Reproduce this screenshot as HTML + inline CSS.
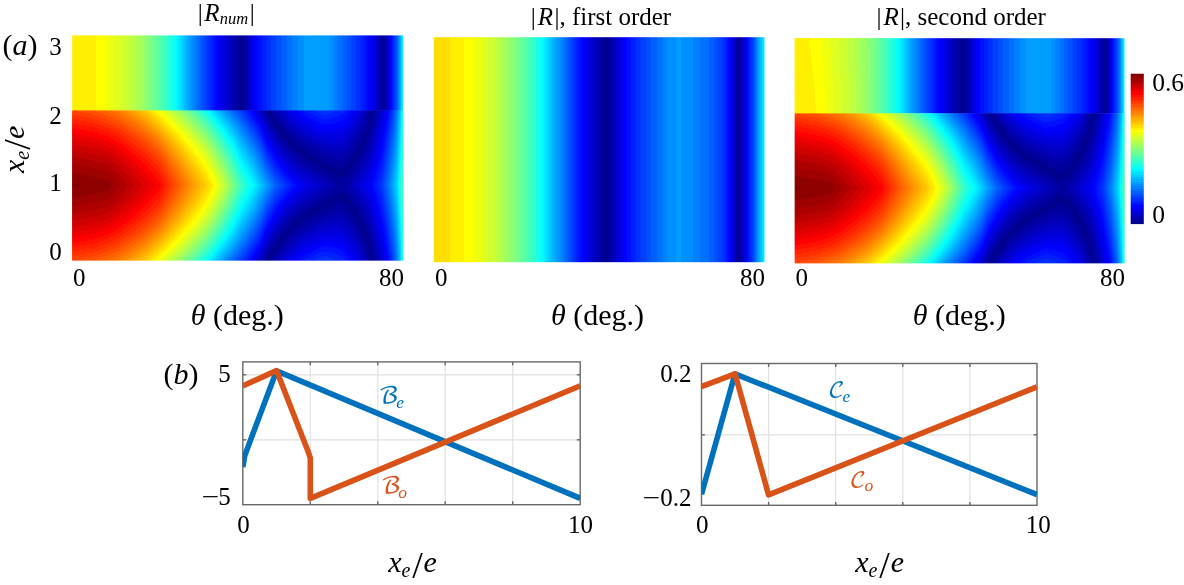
<!DOCTYPE html>
<html lang="en"><head><meta charset="utf-8"><title>Figure</title>
<style>html,body{margin:0;padding:0;background:#fff}svg{display:block}</style></head>
<body>
<svg width="1184" height="585" viewBox="0 0 1184 585" font-family="Liberation Serif, serif" fill="#000">
<rect width="1184" height="585" fill="#fff"/>
<defs>
<linearGradient id="u1"><stop offset="0" stop-color="#ffef00"/><stop offset="0.071" stop-color="#ffef00"/><stop offset="0.07175" stop-color="#ffff00"/><stop offset="0.1012" stop-color="#ffff00"/><stop offset="0.102" stop-color="#efff10"/><stop offset="0.1246" stop-color="#efff10"/><stop offset="0.1254" stop-color="#dfff20"/><stop offset="0.1473" stop-color="#dfff20"/><stop offset="0.148" stop-color="#cfff30"/><stop offset="0.1699" stop-color="#cfff30"/><stop offset="0.1707" stop-color="#bfff40"/><stop offset="0.1888" stop-color="#bdff42"/><stop offset="0.1896" stop-color="#b2ff4d"/><stop offset="0.2024" stop-color="#adff52"/><stop offset="0.2032" stop-color="#a2ff5d"/><stop offset="0.216" stop-color="#9dff62"/><stop offset="0.2168" stop-color="#92ff6d"/><stop offset="0.2296" stop-color="#8dff72"/><stop offset="0.2304" stop-color="#82ff7d"/><stop offset="0.2417" stop-color="#7aff85"/><stop offset="0.2424" stop-color="#75ff8a"/><stop offset="0.2523" stop-color="#6aff95"/><stop offset="0.253" stop-color="#65ff9a"/><stop offset="0.2628" stop-color="#5affa5"/><stop offset="0.2636" stop-color="#55ffaa"/><stop offset="0.2734" stop-color="#4affb5"/><stop offset="0.2742" stop-color="#45ffba"/><stop offset="0.2787" stop-color="#40ffbf"/><stop offset="0.3142" stop-color="#00feff"/><stop offset="0.3505" stop-color="#00a7ff"/><stop offset="0.3912" stop-color="#0057ff"/><stop offset="0.4388" stop-color="#0000ff"/><stop offset="0.4819" stop-color="#0000b9"/><stop offset="0.4826" stop-color="#0000b5"/><stop offset="0.4924" stop-color="#0000aa"/><stop offset="0.4932" stop-color="#0000a4"/><stop offset="0.5" stop-color="#00009f"/><stop offset="0.5053" stop-color="#00009f"/><stop offset="0.506" stop-color="#00008f"/><stop offset="0.5151" stop-color="#00008f"/><stop offset="0.5166" stop-color="#000093"/><stop offset="0.5174" stop-color="#00009a"/><stop offset="0.5196" stop-color="#00009c"/><stop offset="0.5272" stop-color="#0000af"/><stop offset="0.5544" stop-color="#0001ff"/><stop offset="0.5604" stop-color="#0002ff"/><stop offset="0.5612" stop-color="#000eff"/><stop offset="0.5733" stop-color="#0012ff"/><stop offset="0.574" stop-color="#001dff"/><stop offset="0.5869" stop-color="#0022ff"/><stop offset="0.5876" stop-color="#002dff"/><stop offset="0.6005" stop-color="#0030ff"/><stop offset="0.6012" stop-color="#003fff"/><stop offset="0.6163" stop-color="#0040ff"/><stop offset="0.6171" stop-color="#004fff"/><stop offset="0.6322" stop-color="#0050ff"/><stop offset="0.6329" stop-color="#005fff"/><stop offset="0.6488" stop-color="#0060ff"/><stop offset="0.6495" stop-color="#006fff"/><stop offset="0.6647" stop-color="#0070ff"/><stop offset="0.6654" stop-color="#007fff"/><stop offset="0.682" stop-color="#0080ff"/><stop offset="0.6828" stop-color="#008fff"/><stop offset="0.7009" stop-color="#008fff"/><stop offset="0.7017" stop-color="#009fff"/><stop offset="0.7764" stop-color="#009dff"/><stop offset="0.7772" stop-color="#0092ff"/><stop offset="0.79" stop-color="#008dff"/><stop offset="0.7908" stop-color="#0082ff"/><stop offset="0.8029" stop-color="#007dff"/><stop offset="0.8036" stop-color="#0072ff"/><stop offset="0.8157" stop-color="#006dff"/><stop offset="0.8165" stop-color="#0062ff"/><stop offset="0.8293" stop-color="#005dff"/><stop offset="0.8301" stop-color="#0052ff"/><stop offset="0.8421" stop-color="#004eff"/><stop offset="0.8429" stop-color="#0041ff"/><stop offset="0.8565" stop-color="#003eff"/><stop offset="0.8573" stop-color="#0031ff"/><stop offset="0.8708" stop-color="#002eff"/><stop offset="0.8716" stop-color="#0021ff"/><stop offset="0.8799" stop-color="#001eff"/><stop offset="0.8958" stop-color="#0001ff"/><stop offset="0.9154" stop-color="#0000dd"/><stop offset="0.9313" stop-color="#0000a9"/><stop offset="0.9403" stop-color="#000092"/><stop offset="0.9434" stop-color="#000096"/><stop offset="0.9464" stop-color="#0000a1"/><stop offset="0.9615" stop-color="#0000fa"/><stop offset="0.9622" stop-color="#0000ff"/><stop offset="0.9826" stop-color="#0060ff"/><stop offset="0.9977" stop-color="#00ecff"/><stop offset="1" stop-color="#00f8ff"/></linearGradient>
<linearGradient id="p2"><stop offset="0" stop-color="#ffdf00"/><stop offset="0.04758" stop-color="#ffdf00"/><stop offset="0.04834" stop-color="#ffef00"/><stop offset="0.09139" stop-color="#ffef00"/><stop offset="0.09215" stop-color="#ffff00"/><stop offset="0.1193" stop-color="#ffff00"/><stop offset="0.1201" stop-color="#efff10"/><stop offset="0.1412" stop-color="#efff10"/><stop offset="0.142" stop-color="#dfff20"/><stop offset="0.1631" stop-color="#dfff20"/><stop offset="0.1639" stop-color="#cfff30"/><stop offset="0.185" stop-color="#cfff30"/><stop offset="0.1858" stop-color="#c0ff3f"/><stop offset="0.1986" stop-color="#bdff42"/><stop offset="0.1994" stop-color="#b2ff4d"/><stop offset="0.2122" stop-color="#adff52"/><stop offset="0.213" stop-color="#a2ff5d"/><stop offset="0.2258" stop-color="#9dff62"/><stop offset="0.2266" stop-color="#91ff6e"/><stop offset="0.2402" stop-color="#8eff71"/><stop offset="0.2409" stop-color="#81ff7e"/><stop offset="0.2545" stop-color="#7eff81"/><stop offset="0.2553" stop-color="#71ff8e"/><stop offset="0.2651" stop-color="#6dff92"/><stop offset="0.2681" stop-color="#65ff9a"/><stop offset="0.2968" stop-color="#3affc5"/><stop offset="0.3285" stop-color="#00ffff"/><stop offset="0.3557" stop-color="#00beff"/><stop offset="0.3837" stop-color="#008bff"/><stop offset="0.4388" stop-color="#0014ff"/><stop offset="0.4509" stop-color="#0000fe"/><stop offset="0.4743" stop-color="#0000d5"/><stop offset="0.4834" stop-color="#0000c9"/><stop offset="0.4841" stop-color="#0000c5"/><stop offset="0.494" stop-color="#0000ba"/><stop offset="0.4947" stop-color="#0000b4"/><stop offset="0.5045" stop-color="#0000ab"/><stop offset="0.5053" stop-color="#0000a4"/><stop offset="0.5144" stop-color="#00009c"/><stop offset="0.5151" stop-color="#000091"/><stop offset="0.5159" stop-color="#000090"/><stop offset="0.5249" stop-color="#00008f"/><stop offset="0.5257" stop-color="#000090"/><stop offset="0.5264" stop-color="#00009e"/><stop offset="0.5302" stop-color="#00009e"/><stop offset="0.537" stop-color="#0000a9"/><stop offset="0.5778" stop-color="#0000ff"/><stop offset="0.5838" stop-color="#0003ff"/><stop offset="0.5846" stop-color="#000dff"/><stop offset="0.5967" stop-color="#0013ff"/><stop offset="0.5974" stop-color="#001dff"/><stop offset="0.6095" stop-color="#0022ff"/><stop offset="0.6103" stop-color="#002eff"/><stop offset="0.6246" stop-color="#0030ff"/><stop offset="0.6254" stop-color="#003fff"/><stop offset="0.6405" stop-color="#0040ff"/><stop offset="0.6412" stop-color="#004fff"/><stop offset="0.6563" stop-color="#0050ff"/><stop offset="0.6571" stop-color="#0060ff"/><stop offset="0.6737" stop-color="#0060ff"/><stop offset="0.6745" stop-color="#0070ff"/><stop offset="0.6911" stop-color="#0071ff"/><stop offset="0.6918" stop-color="#007eff"/><stop offset="0.7032" stop-color="#0084ff"/><stop offset="0.7039" stop-color="#008bff"/><stop offset="0.7092" stop-color="#0090ff"/><stop offset="0.7334" stop-color="#008fff"/><stop offset="0.7341" stop-color="#009fff"/><stop offset="0.747" stop-color="#009fff"/><stop offset="0.7477" stop-color="#008fff"/><stop offset="0.7832" stop-color="#008fff"/><stop offset="0.784" stop-color="#0080ff"/><stop offset="0.8059" stop-color="#0080ff"/><stop offset="0.8066" stop-color="#0070ff"/><stop offset="0.8331" stop-color="#0070ff"/><stop offset="0.8338" stop-color="#0060ff"/><stop offset="0.8414" stop-color="#0060ff"/><stop offset="0.8482" stop-color="#005cff"/><stop offset="0.8489" stop-color="#0053ff"/><stop offset="0.8595" stop-color="#004cff"/><stop offset="0.8603" stop-color="#0044ff"/><stop offset="0.8716" stop-color="#003cff"/><stop offset="0.8724" stop-color="#0034ff"/><stop offset="0.8761" stop-color="#0032ff"/><stop offset="0.8958" stop-color="#0000ff"/><stop offset="0.898" stop-color="#0000f9"/><stop offset="0.9162" stop-color="#0000a3"/><stop offset="0.9199" stop-color="#000096"/><stop offset="0.9222" stop-color="#000094"/><stop offset="0.9252" stop-color="#000099"/><stop offset="0.929" stop-color="#0000a7"/><stop offset="0.9471" stop-color="#0000fd"/><stop offset="0.9675" stop-color="#004bff"/><stop offset="0.9819" stop-color="#00a0ff"/><stop offset="0.9985" stop-color="#00edff"/><stop offset="1" stop-color="#00f0ff"/></linearGradient>
<linearGradient id="r0"><stop offset="0" stop-color="#ff4000"/><stop offset="0.01511" stop-color="#ff4000"/><stop offset="0.01586" stop-color="#ff5000"/><stop offset="0.07175" stop-color="#ff5000"/><stop offset="0.07251" stop-color="#ff6000"/><stop offset="0.1012" stop-color="#ff6000"/><stop offset="0.102" stop-color="#ff7000"/><stop offset="0.1299" stop-color="#ff7000"/><stop offset="0.1307" stop-color="#ff8000"/><stop offset="0.1511" stop-color="#ff8000"/><stop offset="0.1518" stop-color="#ff8f00"/><stop offset="0.1692" stop-color="#ff8f00"/><stop offset="0.1699" stop-color="#ff9f00"/><stop offset="0.1873" stop-color="#ffa000"/><stop offset="0.1881" stop-color="#ffaf00"/><stop offset="0.2032" stop-color="#ffb000"/><stop offset="0.2039" stop-color="#ffbf00"/><stop offset="0.219" stop-color="#ffc000"/><stop offset="0.2198" stop-color="#ffcf00"/><stop offset="0.2281" stop-color="#ffd000"/><stop offset="0.2568" stop-color="#ffff00"/><stop offset="0.2613" stop-color="#fbff04"/><stop offset="0.2621" stop-color="#f4ff0b"/><stop offset="0.2727" stop-color="#eaff15"/><stop offset="0.2734" stop-color="#e4ff1b"/><stop offset="0.284" stop-color="#daff25"/><stop offset="0.2847" stop-color="#d4ff2b"/><stop offset="0.2946" stop-color="#cbff34"/><stop offset="0.2953" stop-color="#c4ff3b"/><stop offset="0.3051" stop-color="#baff45"/><stop offset="0.3059" stop-color="#b5ff4a"/><stop offset="0.3255" stop-color="#9aff65"/><stop offset="0.3263" stop-color="#95ff6a"/><stop offset="0.3361" stop-color="#8aff75"/><stop offset="0.3369" stop-color="#85ff7a"/><stop offset="0.3459" stop-color="#79ff86"/><stop offset="0.4116" stop-color="#00ffff"/><stop offset="0.4381" stop-color="#00c0ff"/><stop offset="0.4743" stop-color="#0079ff"/><stop offset="0.5219" stop-color="#0027ff"/><stop offset="0.5423" stop-color="#0000fe"/><stop offset="0.5687" stop-color="#0000cb"/><stop offset="0.5808" stop-color="#0000a6"/><stop offset="0.5869" stop-color="#000099"/><stop offset="0.5891" stop-color="#00008f"/><stop offset="0.5982" stop-color="#00008f"/><stop offset="0.5989" stop-color="#00009f"/><stop offset="0.6035" stop-color="#00009e"/><stop offset="0.6088" stop-color="#0000a4"/><stop offset="0.6103" stop-color="#0000a9"/><stop offset="0.6284" stop-color="#0000c4"/><stop offset="0.6292" stop-color="#0000ca"/><stop offset="0.6405" stop-color="#0000d3"/><stop offset="0.6412" stop-color="#0000db"/><stop offset="0.6518" stop-color="#0000e3"/><stop offset="0.6526" stop-color="#0000eb"/><stop offset="0.6594" stop-color="#0000f0"/><stop offset="0.6654" stop-color="#0000ef"/><stop offset="0.6662" stop-color="#0000ff"/><stop offset="0.6835" stop-color="#0000ff"/><stop offset="0.6843" stop-color="#0010ff"/><stop offset="0.7017" stop-color="#0010ff"/><stop offset="0.7024" stop-color="#0020ff"/><stop offset="0.7319" stop-color="#0020ff"/><stop offset="0.7326" stop-color="#0030ff"/><stop offset="0.7946" stop-color="#0030ff"/><stop offset="0.7953" stop-color="#0020ff"/><stop offset="0.8225" stop-color="#0020ff"/><stop offset="0.8248" stop-color="#001dff"/><stop offset="0.8255" stop-color="#0012ff"/><stop offset="0.8376" stop-color="#000eff"/><stop offset="0.8384" stop-color="#0003ff"/><stop offset="0.8512" stop-color="#0000fc"/><stop offset="0.852" stop-color="#0000f1"/><stop offset="0.864" stop-color="#0000ec"/><stop offset="0.8648" stop-color="#0000e3"/><stop offset="0.8671" stop-color="#0000e4"/><stop offset="0.898" stop-color="#00009d"/><stop offset="0.9011" stop-color="#00009a"/><stop offset="0.9018" stop-color="#000092"/><stop offset="0.9026" stop-color="#000090"/><stop offset="0.9086" stop-color="#00008f"/><stop offset="0.9094" stop-color="#000091"/><stop offset="0.9101" stop-color="#00009c"/><stop offset="0.9131" stop-color="#00009c"/><stop offset="0.9199" stop-color="#0000ab"/><stop offset="0.9532" stop-color="#0000fe"/><stop offset="0.9773" stop-color="#0062ff"/><stop offset="0.9909" stop-color="#00c6ff"/><stop offset="0.9955" stop-color="#00fcff"/><stop offset="0.9962" stop-color="#06fff9"/><stop offset="1" stop-color="#35ffca"/></linearGradient>
<linearGradient id="r1"><stop offset="0" stop-color="#ff4000"/><stop offset="0.03625" stop-color="#ff4000"/><stop offset="0.03701" stop-color="#ff5000"/><stop offset="0.08308" stop-color="#ff5000"/><stop offset="0.08384" stop-color="#ff6000"/><stop offset="0.1133" stop-color="#ff6000"/><stop offset="0.114" stop-color="#ff7000"/><stop offset="0.1405" stop-color="#ff7000"/><stop offset="0.1412" stop-color="#ff8000"/><stop offset="0.1586" stop-color="#ff8000"/><stop offset="0.1594" stop-color="#ff8f00"/><stop offset="0.1767" stop-color="#ff8f00"/><stop offset="0.1775" stop-color="#ff9f00"/><stop offset="0.1941" stop-color="#ffa000"/><stop offset="0.1949" stop-color="#ffaf00"/><stop offset="0.21" stop-color="#ffb000"/><stop offset="0.2107" stop-color="#ffbf00"/><stop offset="0.2258" stop-color="#ffc200"/><stop offset="0.2266" stop-color="#ffcb00"/><stop offset="0.2356" stop-color="#ffd500"/><stop offset="0.2462" stop-color="#ffe800"/><stop offset="0.256" stop-color="#fff400"/><stop offset="0.2568" stop-color="#fffb00"/><stop offset="0.2621" stop-color="#ffff00"/><stop offset="0.2674" stop-color="#faff05"/><stop offset="0.2681" stop-color="#f4ff0b"/><stop offset="0.2779" stop-color="#ebff14"/><stop offset="0.2787" stop-color="#e4ff1b"/><stop offset="0.2893" stop-color="#daff25"/><stop offset="0.29" stop-color="#d4ff2b"/><stop offset="0.2998" stop-color="#caff35"/><stop offset="0.3006" stop-color="#c5ff3a"/><stop offset="0.3104" stop-color="#baff45"/><stop offset="0.3112" stop-color="#b5ff4a"/><stop offset="0.3202" stop-color="#aaff55"/><stop offset="0.321" stop-color="#a5ff5a"/><stop offset="0.3414" stop-color="#8aff75"/><stop offset="0.3421" stop-color="#85ff7a"/><stop offset="0.3829" stop-color="#3fffc0"/><stop offset="0.4147" stop-color="#01fffe"/><stop offset="0.4373" stop-color="#00caff"/><stop offset="0.4743" stop-color="#0081ff"/><stop offset="0.5219" stop-color="#002dff"/><stop offset="0.5453" stop-color="#0000fe"/><stop offset="0.5687" stop-color="#0000d0"/><stop offset="0.5914" stop-color="#00008f"/><stop offset="0.6012" stop-color="#00008f"/><stop offset="0.602" stop-color="#00009f"/><stop offset="0.6065" stop-color="#00009e"/><stop offset="0.6118" stop-color="#0000a4"/><stop offset="0.6269" stop-color="#0000bf"/><stop offset="0.6329" stop-color="#0000c3"/><stop offset="0.6337" stop-color="#0000cc"/><stop offset="0.6443" stop-color="#0000d3"/><stop offset="0.645" stop-color="#0000db"/><stop offset="0.6556" stop-color="#0000e3"/><stop offset="0.6563" stop-color="#0000eb"/><stop offset="0.6609" stop-color="#0000ef"/><stop offset="0.6715" stop-color="#0000ef"/><stop offset="0.6722" stop-color="#0000ff"/><stop offset="0.6896" stop-color="#0000ff"/><stop offset="0.6903" stop-color="#0010ff"/><stop offset="0.7085" stop-color="#0010ff"/><stop offset="0.7092" stop-color="#0020ff"/><stop offset="0.7424" stop-color="#0020ff"/><stop offset="0.7432" stop-color="#0030ff"/><stop offset="0.784" stop-color="#0030ff"/><stop offset="0.7847" stop-color="#0020ff"/><stop offset="0.8218" stop-color="#0020ff"/><stop offset="0.8225" stop-color="#0010ff"/><stop offset="0.8346" stop-color="#000eff"/><stop offset="0.8353" stop-color="#0003ff"/><stop offset="0.8482" stop-color="#0000fc"/><stop offset="0.8489" stop-color="#0000f2"/><stop offset="0.861" stop-color="#0000ed"/><stop offset="0.8618" stop-color="#0000e2"/><stop offset="0.8671" stop-color="#0000e0"/><stop offset="0.8995" stop-color="#00009a"/><stop offset="0.9003" stop-color="#000094"/><stop offset="0.9018" stop-color="#000090"/><stop offset="0.9071" stop-color="#00008f"/><stop offset="0.9086" stop-color="#000091"/><stop offset="0.9094" stop-color="#00009c"/><stop offset="0.9124" stop-color="#00009d"/><stop offset="0.9199" stop-color="#0000ad"/><stop offset="0.9524" stop-color="#0000fe"/><stop offset="0.9547" stop-color="#0006ff"/><stop offset="0.9773" stop-color="#0064ff"/><stop offset="0.9909" stop-color="#00c7ff"/><stop offset="0.9955" stop-color="#00fdff"/><stop offset="1" stop-color="#35ffca"/></linearGradient>
<linearGradient id="r2"><stop offset="0" stop-color="#ff4000"/><stop offset="0.05891" stop-color="#ff4000"/><stop offset="0.05967" stop-color="#ff5000"/><stop offset="0.09517" stop-color="#ff5000"/><stop offset="0.09592" stop-color="#ff6000"/><stop offset="0.1246" stop-color="#ff6000"/><stop offset="0.1254" stop-color="#ff7000"/><stop offset="0.148" stop-color="#ff7000"/><stop offset="0.1488" stop-color="#ff8000"/><stop offset="0.1662" stop-color="#ff8000"/><stop offset="0.1669" stop-color="#ff8f00"/><stop offset="0.1843" stop-color="#ff8f00"/><stop offset="0.185" stop-color="#ff9f00"/><stop offset="0.2009" stop-color="#ffa000"/><stop offset="0.2017" stop-color="#ffaf00"/><stop offset="0.2168" stop-color="#ffb000"/><stop offset="0.2175" stop-color="#ffbf00"/><stop offset="0.2273" stop-color="#ffc100"/><stop offset="0.2311" stop-color="#ffc900"/><stop offset="0.2402" stop-color="#ffd500"/><stop offset="0.2409" stop-color="#ffd900"/><stop offset="0.2508" stop-color="#ffe500"/><stop offset="0.2515" stop-color="#ffea00"/><stop offset="0.2613" stop-color="#fff300"/><stop offset="0.2621" stop-color="#fffa00"/><stop offset="0.2674" stop-color="#ffff00"/><stop offset="0.2727" stop-color="#faff05"/><stop offset="0.2734" stop-color="#f4ff0b"/><stop offset="0.2832" stop-color="#ebff14"/><stop offset="0.284" stop-color="#e4ff1b"/><stop offset="0.2946" stop-color="#daff25"/><stop offset="0.2953" stop-color="#d4ff2b"/><stop offset="0.3051" stop-color="#c9ff36"/><stop offset="0.3059" stop-color="#c5ff3a"/><stop offset="0.315" stop-color="#baff45"/><stop offset="0.3157" stop-color="#b5ff4a"/><stop offset="0.3255" stop-color="#aaff55"/><stop offset="0.3263" stop-color="#a5ff5a"/><stop offset="0.3452" stop-color="#8aff75"/><stop offset="0.4094" stop-color="#16ffe9"/><stop offset="0.4184" stop-color="#01fffe"/><stop offset="0.4373" stop-color="#00d2ff"/><stop offset="0.4743" stop-color="#0089ff"/><stop offset="0.5219" stop-color="#0034ff"/><stop offset="0.5483" stop-color="#0000fe"/><stop offset="0.5687" stop-color="#0000d6"/><stop offset="0.5853" stop-color="#0000a4"/><stop offset="0.5891" stop-color="#00009b"/><stop offset="0.5906" stop-color="#00009b"/><stop offset="0.5914" stop-color="#000092"/><stop offset="0.5929" stop-color="#00008f"/><stop offset="0.6042" stop-color="#00008f"/><stop offset="0.605" stop-color="#00009f"/><stop offset="0.6133" stop-color="#0000a2"/><stop offset="0.6276" stop-color="#0000bc"/><stop offset="0.6367" stop-color="#0000c3"/><stop offset="0.6375" stop-color="#0000cb"/><stop offset="0.648" stop-color="#0000d3"/><stop offset="0.6488" stop-color="#0000db"/><stop offset="0.6594" stop-color="#0000e1"/><stop offset="0.6601" stop-color="#0000ed"/><stop offset="0.6775" stop-color="#0000ef"/><stop offset="0.6782" stop-color="#0000ff"/><stop offset="0.6956" stop-color="#0000ff"/><stop offset="0.6964" stop-color="#0010ff"/><stop offset="0.7198" stop-color="#0010ff"/><stop offset="0.7205" stop-color="#0020ff"/><stop offset="0.753" stop-color="#0020ff"/><stop offset="0.7538" stop-color="#0030ff"/><stop offset="0.7719" stop-color="#0030ff"/><stop offset="0.7727" stop-color="#0020ff"/><stop offset="0.8142" stop-color="#0020ff"/><stop offset="0.815" stop-color="#0010ff"/><stop offset="0.8323" stop-color="#000eff"/><stop offset="0.8331" stop-color="#0002ff"/><stop offset="0.8452" stop-color="#0000fc"/><stop offset="0.8459" stop-color="#0000f2"/><stop offset="0.858" stop-color="#0000ed"/><stop offset="0.8588" stop-color="#0000e2"/><stop offset="0.8671" stop-color="#0000dd"/><stop offset="0.8958" stop-color="#00009e"/><stop offset="0.8988" stop-color="#00009a"/><stop offset="0.8995" stop-color="#000093"/><stop offset="0.9003" stop-color="#000091"/><stop offset="0.9063" stop-color="#00008f"/><stop offset="0.9079" stop-color="#000092"/><stop offset="0.9086" stop-color="#00009c"/><stop offset="0.9116" stop-color="#00009d"/><stop offset="0.9192" stop-color="#0000ad"/><stop offset="0.9517" stop-color="#0000fe"/><stop offset="0.9547" stop-color="#0008ff"/><stop offset="0.9773" stop-color="#0066ff"/><stop offset="0.9909" stop-color="#00c9ff"/><stop offset="0.9955" stop-color="#00feff"/><stop offset="1" stop-color="#36ffc9"/></linearGradient>
<linearGradient id="r3"><stop offset="0" stop-color="#ff3000"/><stop offset="0.01964" stop-color="#ff3000"/><stop offset="0.02039" stop-color="#ff4000"/><stop offset="0.07553" stop-color="#ff4000"/><stop offset="0.07628" stop-color="#ff5000"/><stop offset="0.1073" stop-color="#ff5000"/><stop offset="0.108" stop-color="#ff6000"/><stop offset="0.136" stop-color="#ff6000"/><stop offset="0.1367" stop-color="#ff7000"/><stop offset="0.1556" stop-color="#ff7000"/><stop offset="0.1563" stop-color="#ff8000"/><stop offset="0.1737" stop-color="#ff8000"/><stop offset="0.1745" stop-color="#ff8f00"/><stop offset="0.1911" stop-color="#ff9000"/><stop offset="0.1918" stop-color="#ff9f00"/><stop offset="0.2077" stop-color="#ffa000"/><stop offset="0.2085" stop-color="#ffaf00"/><stop offset="0.2243" stop-color="#ffb100"/><stop offset="0.2251" stop-color="#ffbd00"/><stop offset="0.2349" stop-color="#ffc500"/><stop offset="0.2356" stop-color="#ffc900"/><stop offset="0.2455" stop-color="#ffd500"/><stop offset="0.2462" stop-color="#ffda00"/><stop offset="0.2553" stop-color="#ffe300"/><stop offset="0.256" stop-color="#ffeb00"/><stop offset="0.2666" stop-color="#fff400"/><stop offset="0.2674" stop-color="#fffa00"/><stop offset="0.2727" stop-color="#ffff00"/><stop offset="0.2779" stop-color="#faff05"/><stop offset="0.2787" stop-color="#f4ff0b"/><stop offset="0.2885" stop-color="#eaff15"/><stop offset="0.2893" stop-color="#e4ff1b"/><stop offset="0.2998" stop-color="#daff25"/><stop offset="0.3006" stop-color="#d4ff2b"/><stop offset="0.3097" stop-color="#caff35"/><stop offset="0.3104" stop-color="#c5ff3a"/><stop offset="0.3202" stop-color="#baff45"/><stop offset="0.321" stop-color="#b5ff4a"/><stop offset="0.3308" stop-color="#a9ff56"/><stop offset="0.3316" stop-color="#a5ff5a"/><stop offset="0.3406" stop-color="#9aff65"/><stop offset="0.3414" stop-color="#95ff6a"/><stop offset="0.3474" stop-color="#8eff71"/><stop offset="0.4094" stop-color="#1effe1"/><stop offset="0.4222" stop-color="#00ffff"/><stop offset="0.4373" stop-color="#00dbff"/><stop offset="0.4743" stop-color="#0090ff"/><stop offset="0.5219" stop-color="#003aff"/><stop offset="0.5514" stop-color="#0000fe"/><stop offset="0.5687" stop-color="#0000db"/><stop offset="0.5899" stop-color="#00009d"/><stop offset="0.5937" stop-color="#00009e"/><stop offset="0.5944" stop-color="#000090"/><stop offset="0.6073" stop-color="#00008f"/><stop offset="0.608" stop-color="#00009f"/><stop offset="0.6125" stop-color="#00009e"/><stop offset="0.6178" stop-color="#0000a4"/><stop offset="0.6193" stop-color="#0000a9"/><stop offset="0.6284" stop-color="#0000b4"/><stop offset="0.6292" stop-color="#0000ba"/><stop offset="0.6405" stop-color="#0000c3"/><stop offset="0.6412" stop-color="#0000cb"/><stop offset="0.6518" stop-color="#0000d3"/><stop offset="0.6526" stop-color="#0000db"/><stop offset="0.6594" stop-color="#0000e0"/><stop offset="0.6654" stop-color="#0000df"/><stop offset="0.6662" stop-color="#0000ef"/><stop offset="0.6835" stop-color="#0000ef"/><stop offset="0.6843" stop-color="#0000ff"/><stop offset="0.7017" stop-color="#0000ff"/><stop offset="0.7024" stop-color="#0010ff"/><stop offset="0.7304" stop-color="#0010ff"/><stop offset="0.7311" stop-color="#0020ff"/><stop offset="0.8044" stop-color="#0020ff"/><stop offset="0.8051" stop-color="#0010ff"/><stop offset="0.8285" stop-color="#000eff"/><stop offset="0.8293" stop-color="#0002ff"/><stop offset="0.8353" stop-color="#0000ff"/><stop offset="0.8421" stop-color="#0000fc"/><stop offset="0.8429" stop-color="#0000f2"/><stop offset="0.855" stop-color="#0000ed"/><stop offset="0.8557" stop-color="#0000e2"/><stop offset="0.8656" stop-color="#0000dc"/><stop offset="0.895" stop-color="#00009d"/><stop offset="0.898" stop-color="#00009b"/><stop offset="0.8988" stop-color="#000092"/><stop offset="0.8995" stop-color="#000090"/><stop offset="0.9056" stop-color="#00008f"/><stop offset="0.9071" stop-color="#000093"/><stop offset="0.9079" stop-color="#00009b"/><stop offset="0.9109" stop-color="#00009d"/><stop offset="0.9199" stop-color="#0000b1"/><stop offset="0.9509" stop-color="#0000ff"/><stop offset="0.9547" stop-color="#000aff"/><stop offset="0.9773" stop-color="#0068ff"/><stop offset="0.9909" stop-color="#00caff"/><stop offset="0.9955" stop-color="#00ffff"/><stop offset="1" stop-color="#37ffc8"/></linearGradient>
<linearGradient id="r4"><stop offset="0" stop-color="#ff3000"/><stop offset="0.04154" stop-color="#ff3000"/><stop offset="0.0423" stop-color="#ff4000"/><stop offset="0.08761" stop-color="#ff4000"/><stop offset="0.08837" stop-color="#ff5000"/><stop offset="0.1186" stop-color="#ff5000"/><stop offset="0.1193" stop-color="#ff6000"/><stop offset="0.1443" stop-color="#ff6000"/><stop offset="0.145" stop-color="#ff7000"/><stop offset="0.1624" stop-color="#ff7000"/><stop offset="0.1631" stop-color="#ff8000"/><stop offset="0.1813" stop-color="#ff8000"/><stop offset="0.182" stop-color="#ff8f00"/><stop offset="0.1979" stop-color="#ff9000"/><stop offset="0.1986" stop-color="#ff9f00"/><stop offset="0.2145" stop-color="#ff9f00"/><stop offset="0.2153" stop-color="#ffaf00"/><stop offset="0.2273" stop-color="#ffb200"/><stop offset="0.2289" stop-color="#ffb400"/><stop offset="0.2296" stop-color="#ffba00"/><stop offset="0.25" stop-color="#ffd500"/><stop offset="0.2508" stop-color="#ffda00"/><stop offset="0.2613" stop-color="#ffe300"/><stop offset="0.2621" stop-color="#ffeb00"/><stop offset="0.2719" stop-color="#fff400"/><stop offset="0.2727" stop-color="#fffa00"/><stop offset="0.2779" stop-color="#ffff00"/><stop offset="0.2832" stop-color="#faff05"/><stop offset="0.284" stop-color="#f4ff0b"/><stop offset="0.2938" stop-color="#eaff15"/><stop offset="0.2946" stop-color="#e4ff1b"/><stop offset="0.3044" stop-color="#daff25"/><stop offset="0.3051" stop-color="#d5ff2a"/><stop offset="0.315" stop-color="#c9ff36"/><stop offset="0.3157" stop-color="#c4ff3b"/><stop offset="0.3248" stop-color="#baff45"/><stop offset="0.3255" stop-color="#b5ff4a"/><stop offset="0.3353" stop-color="#aaff55"/><stop offset="0.3361" stop-color="#a5ff5a"/><stop offset="0.3459" stop-color="#99ff66"/><stop offset="0.4094" stop-color="#27ffd8"/><stop offset="0.4252" stop-color="#01fffe"/><stop offset="0.4381" stop-color="#00e1ff"/><stop offset="0.4743" stop-color="#0098ff"/><stop offset="0.5544" stop-color="#0000fe"/><stop offset="0.5687" stop-color="#0000e1"/><stop offset="0.5899" stop-color="#0000a1"/><stop offset="0.5929" stop-color="#00009e"/><stop offset="0.5974" stop-color="#00009f"/><stop offset="0.5982" stop-color="#00008f"/><stop offset="0.6103" stop-color="#00008f"/><stop offset="0.611" stop-color="#00009f"/><stop offset="0.6178" stop-color="#0000a0"/><stop offset="0.6269" stop-color="#0000af"/><stop offset="0.6329" stop-color="#0000b3"/><stop offset="0.6337" stop-color="#0000bc"/><stop offset="0.6443" stop-color="#0000c3"/><stop offset="0.645" stop-color="#0000cb"/><stop offset="0.6556" stop-color="#0000d3"/><stop offset="0.6563" stop-color="#0000db"/><stop offset="0.6609" stop-color="#0000df"/><stop offset="0.6715" stop-color="#0000df"/><stop offset="0.6722" stop-color="#0000ef"/><stop offset="0.6888" stop-color="#0000ef"/><stop offset="0.6896" stop-color="#0000ff"/><stop offset="0.7085" stop-color="#0000ff"/><stop offset="0.7092" stop-color="#0010ff"/><stop offset="0.7409" stop-color="#0010ff"/><stop offset="0.7417" stop-color="#0020ff"/><stop offset="0.7931" stop-color="#0020ff"/><stop offset="0.7938" stop-color="#0010ff"/><stop offset="0.8233" stop-color="#0010ff"/><stop offset="0.8255" stop-color="#000eff"/><stop offset="0.8263" stop-color="#0002ff"/><stop offset="0.8391" stop-color="#0000fc"/><stop offset="0.8399" stop-color="#0000f2"/><stop offset="0.852" stop-color="#0000ed"/><stop offset="0.8527" stop-color="#0000e2"/><stop offset="0.864" stop-color="#0000dd"/><stop offset="0.8663" stop-color="#0000d5"/><stop offset="0.8965" stop-color="#00009a"/><stop offset="0.8973" stop-color="#000093"/><stop offset="0.8988" stop-color="#00008f"/><stop offset="0.9041" stop-color="#00008f"/><stop offset="0.9056" stop-color="#000091"/><stop offset="0.9063" stop-color="#00009c"/><stop offset="0.9094" stop-color="#00009c"/><stop offset="0.9177" stop-color="#0000ae"/><stop offset="0.9502" stop-color="#0000ff"/><stop offset="0.9547" stop-color="#000dff"/><stop offset="0.9773" stop-color="#006aff"/><stop offset="0.9909" stop-color="#00ccff"/><stop offset="0.9947" stop-color="#00f8ff"/><stop offset="0.9955" stop-color="#02fffd"/><stop offset="1" stop-color="#37ffc8"/></linearGradient>
<linearGradient id="r5"><stop offset="0" stop-color="#ff2000"/><stop offset="0.0007553" stop-color="#ff3000"/><stop offset="0.0642" stop-color="#ff3000"/><stop offset="0.06495" stop-color="#ff4000"/><stop offset="0.1005" stop-color="#ff4000"/><stop offset="0.1012" stop-color="#ff5000"/><stop offset="0.1299" stop-color="#ff5000"/><stop offset="0.1307" stop-color="#ff6000"/><stop offset="0.1511" stop-color="#ff6000"/><stop offset="0.1518" stop-color="#ff7000"/><stop offset="0.1699" stop-color="#ff7000"/><stop offset="0.1707" stop-color="#ff8000"/><stop offset="0.1881" stop-color="#ff8000"/><stop offset="0.1888" stop-color="#ff8f00"/><stop offset="0.2047" stop-color="#ff8f00"/><stop offset="0.2054" stop-color="#ff9f00"/><stop offset="0.2213" stop-color="#ff9f00"/><stop offset="0.2221" stop-color="#ffaf00"/><stop offset="0.2273" stop-color="#ffae00"/><stop offset="0.2334" stop-color="#ffb400"/><stop offset="0.2341" stop-color="#ffba00"/><stop offset="0.244" stop-color="#ffc400"/><stop offset="0.2447" stop-color="#ffca00"/><stop offset="0.2545" stop-color="#ffd300"/><stop offset="0.2553" stop-color="#ffdb00"/><stop offset="0.2666" stop-color="#ffe400"/><stop offset="0.2674" stop-color="#ffea00"/><stop offset="0.2772" stop-color="#fff400"/><stop offset="0.2779" stop-color="#fffa00"/><stop offset="0.2832" stop-color="#ffff00"/><stop offset="0.2878" stop-color="#faff05"/><stop offset="0.2885" stop-color="#f4ff0b"/><stop offset="0.2991" stop-color="#eaff15"/><stop offset="0.2998" stop-color="#e4ff1b"/><stop offset="0.3089" stop-color="#daff25"/><stop offset="0.3097" stop-color="#d5ff2a"/><stop offset="0.3195" stop-color="#caff35"/><stop offset="0.3202" stop-color="#c5ff3a"/><stop offset="0.3301" stop-color="#baff45"/><stop offset="0.3308" stop-color="#b5ff4a"/><stop offset="0.3406" stop-color="#a9ff56"/><stop offset="0.3414" stop-color="#a4ff5b"/><stop offset="0.3776" stop-color="#69ff96"/><stop offset="0.4094" stop-color="#2fffd0"/><stop offset="0.429" stop-color="#00ffff"/><stop offset="0.4743" stop-color="#009fff"/><stop offset="0.5219" stop-color="#0046ff"/><stop offset="0.5566" stop-color="#0000ff"/><stop offset="0.5687" stop-color="#0000e6"/><stop offset="0.5899" stop-color="#0000a6"/><stop offset="0.5952" stop-color="#00009f"/><stop offset="0.5997" stop-color="#00009e"/><stop offset="0.6005" stop-color="#000090"/><stop offset="0.6012" stop-color="#00008f"/><stop offset="0.6133" stop-color="#00008f"/><stop offset="0.614" stop-color="#00009f"/><stop offset="0.6201" stop-color="#00009f"/><stop offset="0.6246" stop-color="#0000a5"/><stop offset="0.6254" stop-color="#0000aa"/><stop offset="0.6276" stop-color="#0000ad"/><stop offset="0.6367" stop-color="#0000b3"/><stop offset="0.6375" stop-color="#0000bc"/><stop offset="0.648" stop-color="#0000c3"/><stop offset="0.6488" stop-color="#0000cb"/><stop offset="0.6601" stop-color="#0000d1"/><stop offset="0.6609" stop-color="#0000de"/><stop offset="0.6775" stop-color="#0000df"/><stop offset="0.6782" stop-color="#0000ef"/><stop offset="0.6956" stop-color="#0000ef"/><stop offset="0.6964" stop-color="#0000ff"/><stop offset="0.7198" stop-color="#0000ff"/><stop offset="0.7205" stop-color="#0010ff"/><stop offset="0.7515" stop-color="#0010ff"/><stop offset="0.7523" stop-color="#0020ff"/><stop offset="0.7787" stop-color="#0020ff"/><stop offset="0.7795" stop-color="#0010ff"/><stop offset="0.8225" stop-color="#0010ff"/><stop offset="0.8233" stop-color="#0000ff"/><stop offset="0.8353" stop-color="#0000fd"/><stop offset="0.8361" stop-color="#0000fc"/><stop offset="0.8369" stop-color="#0000f2"/><stop offset="0.8489" stop-color="#0000ed"/><stop offset="0.8497" stop-color="#0000e2"/><stop offset="0.8625" stop-color="#0000dd"/><stop offset="0.8633" stop-color="#0000d2"/><stop offset="0.8671" stop-color="#0000d2"/><stop offset="0.8935" stop-color="#00009c"/><stop offset="0.8958" stop-color="#00009b"/><stop offset="0.8965" stop-color="#000092"/><stop offset="0.8973" stop-color="#000090"/><stop offset="0.9033" stop-color="#00008f"/><stop offset="0.9048" stop-color="#000092"/><stop offset="0.9056" stop-color="#00009c"/><stop offset="0.9086" stop-color="#00009d"/><stop offset="0.9177" stop-color="#0000b0"/><stop offset="0.9494" stop-color="#0000ff"/><stop offset="0.9547" stop-color="#000fff"/><stop offset="0.9773" stop-color="#006cff"/><stop offset="0.9909" stop-color="#00ceff"/><stop offset="0.9947" stop-color="#00f9ff"/><stop offset="0.9955" stop-color="#03fffc"/><stop offset="1" stop-color="#38ffc7"/></linearGradient>
<linearGradient id="r6"><stop offset="0" stop-color="#ff2000"/><stop offset="0.0219" stop-color="#ff2000"/><stop offset="0.02266" stop-color="#ff3000"/><stop offset="0.07931" stop-color="#ff3000"/><stop offset="0.08006" stop-color="#ff4000"/><stop offset="0.1125" stop-color="#ff4000"/><stop offset="0.1133" stop-color="#ff5000"/><stop offset="0.1397" stop-color="#ff5000"/><stop offset="0.1405" stop-color="#ff6000"/><stop offset="0.1586" stop-color="#ff6000"/><stop offset="0.1594" stop-color="#ff7000"/><stop offset="0.1775" stop-color="#ff7000"/><stop offset="0.1782" stop-color="#ff8000"/><stop offset="0.1949" stop-color="#ff8000"/><stop offset="0.1956" stop-color="#ff8f00"/><stop offset="0.2115" stop-color="#ff8f00"/><stop offset="0.2122" stop-color="#ff9f00"/><stop offset="0.2266" stop-color="#ffa200"/><stop offset="0.2273" stop-color="#ffa300"/><stop offset="0.2281" stop-color="#ffab00"/><stop offset="0.2379" stop-color="#ffb400"/><stop offset="0.2387" stop-color="#ffba00"/><stop offset="0.2485" stop-color="#ffc400"/><stop offset="0.2492" stop-color="#ffca00"/><stop offset="0.2606" stop-color="#ffd300"/><stop offset="0.2613" stop-color="#ffdb00"/><stop offset="0.2711" stop-color="#ffe400"/><stop offset="0.2719" stop-color="#ffea00"/><stop offset="0.2817" stop-color="#fff400"/><stop offset="0.2825" stop-color="#fffa00"/><stop offset="0.2878" stop-color="#ffff00"/><stop offset="0.2931" stop-color="#faff05"/><stop offset="0.2938" stop-color="#f4ff0b"/><stop offset="0.3036" stop-color="#e9ff16"/><stop offset="0.3044" stop-color="#e4ff1b"/><stop offset="0.3142" stop-color="#d9ff26"/><stop offset="0.315" stop-color="#d4ff2b"/><stop offset="0.324" stop-color="#caff35"/><stop offset="0.3248" stop-color="#c5ff3a"/><stop offset="0.3346" stop-color="#baff45"/><stop offset="0.3353" stop-color="#b5ff4a"/><stop offset="0.3452" stop-color="#a9ff56"/><stop offset="0.3822" stop-color="#69ff96"/><stop offset="0.4101" stop-color="#35ffca"/><stop offset="0.432" stop-color="#01fffe"/><stop offset="0.4743" stop-color="#00a6ff"/><stop offset="0.5597" stop-color="#0000ff"/><stop offset="0.5687" stop-color="#0000ec"/><stop offset="0.5899" stop-color="#0000ab"/><stop offset="0.5974" stop-color="#00009f"/><stop offset="0.6027" stop-color="#00009e"/><stop offset="0.6035" stop-color="#000090"/><stop offset="0.6042" stop-color="#00008f"/><stop offset="0.6163" stop-color="#00008f"/><stop offset="0.6171" stop-color="#00009f"/><stop offset="0.6284" stop-color="#0000a4"/><stop offset="0.6292" stop-color="#0000ac"/><stop offset="0.6405" stop-color="#0000b3"/><stop offset="0.6412" stop-color="#0000bc"/><stop offset="0.6518" stop-color="#0000c3"/><stop offset="0.6526" stop-color="#0000cb"/><stop offset="0.6654" stop-color="#0000cf"/><stop offset="0.6662" stop-color="#0000df"/><stop offset="0.6828" stop-color="#0000df"/><stop offset="0.6835" stop-color="#0000ef"/><stop offset="0.7017" stop-color="#0000ef"/><stop offset="0.7024" stop-color="#0000ff"/><stop offset="0.7296" stop-color="#0000ff"/><stop offset="0.7304" stop-color="#0010ff"/><stop offset="0.815" stop-color="#0010ff"/><stop offset="0.8157" stop-color="#0000ff"/><stop offset="0.8331" stop-color="#0000fd"/><stop offset="0.8338" stop-color="#0000f1"/><stop offset="0.8459" stop-color="#0000ed"/><stop offset="0.8467" stop-color="#0000e2"/><stop offset="0.8595" stop-color="#0000dd"/><stop offset="0.8603" stop-color="#0000d2"/><stop offset="0.8671" stop-color="#0000ce"/><stop offset="0.892" stop-color="#00009d"/><stop offset="0.895" stop-color="#00009b"/><stop offset="0.8958" stop-color="#000091"/><stop offset="0.8965" stop-color="#000090"/><stop offset="0.9026" stop-color="#00008f"/><stop offset="0.9041" stop-color="#000092"/><stop offset="0.9048" stop-color="#00009b"/><stop offset="0.9079" stop-color="#00009d"/><stop offset="0.9177" stop-color="#0000b2"/><stop offset="0.9479" stop-color="#0000fd"/><stop offset="0.9547" stop-color="#0011ff"/><stop offset="0.9773" stop-color="#006eff"/><stop offset="0.9909" stop-color="#00cfff"/><stop offset="0.9947" stop-color="#00faff"/><stop offset="0.9955" stop-color="#04fffb"/><stop offset="1" stop-color="#39ffc6"/></linearGradient>
<linearGradient id="r7"><stop offset="0" stop-color="#ff2000"/><stop offset="0.04456" stop-color="#ff2000"/><stop offset="0.04532" stop-color="#ff3000"/><stop offset="0.09139" stop-color="#ff3000"/><stop offset="0.09215" stop-color="#ff4000"/><stop offset="0.1231" stop-color="#ff4000"/><stop offset="0.1239" stop-color="#ff5000"/><stop offset="0.1465" stop-color="#ff5000"/><stop offset="0.1473" stop-color="#ff6000"/><stop offset="0.1662" stop-color="#ff6000"/><stop offset="0.1669" stop-color="#ff7000"/><stop offset="0.1843" stop-color="#ff7000"/><stop offset="0.185" stop-color="#ff8000"/><stop offset="0.2017" stop-color="#ff8000"/><stop offset="0.2024" stop-color="#ff8f00"/><stop offset="0.2183" stop-color="#ff8f00"/><stop offset="0.219" stop-color="#ff9f00"/><stop offset="0.2258" stop-color="#ff9f00"/><stop offset="0.2319" stop-color="#ffa400"/><stop offset="0.2326" stop-color="#ffab00"/><stop offset="0.2424" stop-color="#ffb400"/><stop offset="0.2432" stop-color="#ffba00"/><stop offset="0.2538" stop-color="#ffc300"/><stop offset="0.2545" stop-color="#ffcb00"/><stop offset="0.2651" stop-color="#ffd400"/><stop offset="0.2659" stop-color="#ffda00"/><stop offset="0.2764" stop-color="#ffe400"/><stop offset="0.2772" stop-color="#ffea00"/><stop offset="0.287" stop-color="#fff400"/><stop offset="0.2878" stop-color="#fffa00"/><stop offset="0.2931" stop-color="#ffff00"/><stop offset="0.2976" stop-color="#faff05"/><stop offset="0.2983" stop-color="#f4ff0b"/><stop offset="0.3082" stop-color="#eaff15"/><stop offset="0.3089" stop-color="#e4ff1b"/><stop offset="0.3187" stop-color="#d9ff26"/><stop offset="0.3195" stop-color="#d4ff2b"/><stop offset="0.3285" stop-color="#caff35"/><stop offset="0.3293" stop-color="#c5ff3a"/><stop offset="0.3391" stop-color="#baff45"/><stop offset="0.3399" stop-color="#b5ff4a"/><stop offset="0.3467" stop-color="#adff52"/><stop offset="0.386" stop-color="#6aff95"/><stop offset="0.4101" stop-color="#3dffc2"/><stop offset="0.435" stop-color="#02fffd"/><stop offset="0.4743" stop-color="#00aeff"/><stop offset="0.5627" stop-color="#0000fe"/><stop offset="0.5687" stop-color="#0000f1"/><stop offset="0.5899" stop-color="#0000b1"/><stop offset="0.5997" stop-color="#0000a0"/><stop offset="0.6057" stop-color="#00009e"/><stop offset="0.6065" stop-color="#000090"/><stop offset="0.6073" stop-color="#00008f"/><stop offset="0.6193" stop-color="#00008f"/><stop offset="0.6201" stop-color="#00009f"/><stop offset="0.6322" stop-color="#0000a2"/><stop offset="0.6329" stop-color="#0000ad"/><stop offset="0.6443" stop-color="#0000b3"/><stop offset="0.645" stop-color="#0000bc"/><stop offset="0.6556" stop-color="#0000c3"/><stop offset="0.6563" stop-color="#0000cb"/><stop offset="0.6586" stop-color="#0000cd"/><stop offset="0.6715" stop-color="#0000cf"/><stop offset="0.6722" stop-color="#0000df"/><stop offset="0.6888" stop-color="#0000df"/><stop offset="0.6896" stop-color="#0000ef"/><stop offset="0.7085" stop-color="#0000ef"/><stop offset="0.7092" stop-color="#0000ff"/><stop offset="0.7402" stop-color="#0000ff"/><stop offset="0.7409" stop-color="#0010ff"/><stop offset="0.8051" stop-color="#0010ff"/><stop offset="0.8059" stop-color="#0000ff"/><stop offset="0.8301" stop-color="#0000fe"/><stop offset="0.8308" stop-color="#0000f0"/><stop offset="0.8429" stop-color="#0000ed"/><stop offset="0.8437" stop-color="#0000e2"/><stop offset="0.8565" stop-color="#0000dc"/><stop offset="0.8573" stop-color="#0000d2"/><stop offset="0.8671" stop-color="#0000cb"/><stop offset="0.8852" stop-color="#0000a6"/><stop offset="0.8935" stop-color="#00009b"/><stop offset="0.8943" stop-color="#000092"/><stop offset="0.895" stop-color="#000091"/><stop offset="0.9018" stop-color="#000090"/><stop offset="0.9033" stop-color="#000093"/><stop offset="0.9041" stop-color="#00009b"/><stop offset="0.9071" stop-color="#00009e"/><stop offset="0.9177" stop-color="#0000b4"/><stop offset="0.9471" stop-color="#0000fd"/><stop offset="0.9539" stop-color="#0011ff"/><stop offset="0.9773" stop-color="#0071ff"/><stop offset="0.9909" stop-color="#00d1ff"/><stop offset="0.9947" stop-color="#00fbff"/><stop offset="0.9955" stop-color="#05fffa"/><stop offset="1" stop-color="#39ffc6"/></linearGradient>
<linearGradient id="r8"><stop offset="0" stop-color="#ff2000"/><stop offset="0.06798" stop-color="#ff2000"/><stop offset="0.06873" stop-color="#ff3000"/><stop offset="0.105" stop-color="#ff3000"/><stop offset="0.1057" stop-color="#ff4000"/><stop offset="0.1329" stop-color="#ff4000"/><stop offset="0.1337" stop-color="#ff5000"/><stop offset="0.1541" stop-color="#ff5000"/><stop offset="0.1548" stop-color="#ff6000"/><stop offset="0.173" stop-color="#ff6000"/><stop offset="0.1737" stop-color="#ff7000"/><stop offset="0.1911" stop-color="#ff7000"/><stop offset="0.1918" stop-color="#ff8000"/><stop offset="0.2077" stop-color="#ff8000"/><stop offset="0.2085" stop-color="#ff8f00"/><stop offset="0.2251" stop-color="#ff9100"/><stop offset="0.2258" stop-color="#ff9d00"/><stop offset="0.2364" stop-color="#ffa400"/><stop offset="0.2372" stop-color="#ffab00"/><stop offset="0.2477" stop-color="#ffb400"/><stop offset="0.2485" stop-color="#ffbb00"/><stop offset="0.2591" stop-color="#ffc200"/><stop offset="0.2598" stop-color="#ffcc00"/><stop offset="0.2704" stop-color="#ffd400"/><stop offset="0.2711" stop-color="#ffda00"/><stop offset="0.281" stop-color="#ffe400"/><stop offset="0.2817" stop-color="#ffea00"/><stop offset="0.2915" stop-color="#fff400"/><stop offset="0.2923" stop-color="#fffa00"/><stop offset="0.2976" stop-color="#ffff00"/><stop offset="0.3021" stop-color="#faff05"/><stop offset="0.3029" stop-color="#f5ff0a"/><stop offset="0.3127" stop-color="#eaff15"/><stop offset="0.3134" stop-color="#e5ff1a"/><stop offset="0.3233" stop-color="#daff25"/><stop offset="0.324" stop-color="#d4ff2b"/><stop offset="0.3338" stop-color="#caff35"/><stop offset="0.3346" stop-color="#c4ff3b"/><stop offset="0.3444" stop-color="#b9ff46"/><stop offset="0.3452" stop-color="#b5ff4a"/><stop offset="0.3822" stop-color="#78ff87"/><stop offset="0.4101" stop-color="#45ffba"/><stop offset="0.4388" stop-color="#01fffe"/><stop offset="0.565" stop-color="#0000ff"/><stop offset="0.5687" stop-color="#0000f7"/><stop offset="0.5899" stop-color="#0000b6"/><stop offset="0.602" stop-color="#0000a1"/><stop offset="0.6088" stop-color="#00009f"/><stop offset="0.6095" stop-color="#00008f"/><stop offset="0.6224" stop-color="#00008f"/><stop offset="0.6231" stop-color="#00009f"/><stop offset="0.636" stop-color="#0000a2"/><stop offset="0.6367" stop-color="#0000ad"/><stop offset="0.648" stop-color="#0000b3"/><stop offset="0.6488" stop-color="#0000bc"/><stop offset="0.6594" stop-color="#0000c1"/><stop offset="0.6601" stop-color="#0000cd"/><stop offset="0.6767" stop-color="#0000cf"/><stop offset="0.6775" stop-color="#0000df"/><stop offset="0.6949" stop-color="#0000df"/><stop offset="0.6956" stop-color="#0000ef"/><stop offset="0.719" stop-color="#0000ef"/><stop offset="0.7198" stop-color="#0000ff"/><stop offset="0.7492" stop-color="#0000ff"/><stop offset="0.75" stop-color="#0010ff"/><stop offset="0.79" stop-color="#0010ff"/><stop offset="0.7908" stop-color="#0000ff"/><stop offset="0.8263" stop-color="#0000fe"/><stop offset="0.827" stop-color="#0000f0"/><stop offset="0.8406" stop-color="#0000ec"/><stop offset="0.8414" stop-color="#0000e2"/><stop offset="0.8535" stop-color="#0000dc"/><stop offset="0.8542" stop-color="#0000d2"/><stop offset="0.8648" stop-color="#0000cc"/><stop offset="0.886" stop-color="#0000a2"/><stop offset="0.8927" stop-color="#00009c"/><stop offset="0.8935" stop-color="#000091"/><stop offset="0.8943" stop-color="#000090"/><stop offset="0.9003" stop-color="#00008f"/><stop offset="0.9018" stop-color="#000092"/><stop offset="0.9026" stop-color="#00009b"/><stop offset="0.9048" stop-color="#00009c"/><stop offset="0.9154" stop-color="#0000b1"/><stop offset="0.9464" stop-color="#0000fd"/><stop offset="0.9539" stop-color="#0013ff"/><stop offset="0.9773" stop-color="#0073ff"/><stop offset="0.9909" stop-color="#00d3ff"/><stop offset="0.9947" stop-color="#00fdff"/><stop offset="1" stop-color="#3affc5"/></linearGradient>
<linearGradient id="r9"><stop offset="0" stop-color="#ff1000"/><stop offset="0.02115" stop-color="#ff1000"/><stop offset="0.0219" stop-color="#ff2000"/><stop offset="0.08157" stop-color="#ff2000"/><stop offset="0.08233" stop-color="#ff3000"/><stop offset="0.1156" stop-color="#ff3000"/><stop offset="0.1163" stop-color="#ff4000"/><stop offset="0.142" stop-color="#ff4000"/><stop offset="0.1427" stop-color="#ff5000"/><stop offset="0.1609" stop-color="#ff5000"/><stop offset="0.1616" stop-color="#ff6000"/><stop offset="0.1798" stop-color="#ff6000"/><stop offset="0.1805" stop-color="#ff7000"/><stop offset="0.1979" stop-color="#ff7000"/><stop offset="0.1986" stop-color="#ff8000"/><stop offset="0.2145" stop-color="#ff8000"/><stop offset="0.2153" stop-color="#ff8f00"/><stop offset="0.2251" stop-color="#ff9000"/><stop offset="0.2296" stop-color="#ff9400"/><stop offset="0.2304" stop-color="#ff9b00"/><stop offset="0.2409" stop-color="#ffa400"/><stop offset="0.2417" stop-color="#ffab00"/><stop offset="0.2523" stop-color="#ffb300"/><stop offset="0.253" stop-color="#ffbb00"/><stop offset="0.2644" stop-color="#ffc400"/><stop offset="0.2651" stop-color="#ffcb00"/><stop offset="0.2749" stop-color="#ffd400"/><stop offset="0.2757" stop-color="#ffda00"/><stop offset="0.2855" stop-color="#ffe400"/><stop offset="0.2863" stop-color="#ffea00"/><stop offset="0.2961" stop-color="#fff400"/><stop offset="0.2968" stop-color="#fffa00"/><stop offset="0.3021" stop-color="#ffff00"/><stop offset="0.3066" stop-color="#faff05"/><stop offset="0.3074" stop-color="#f5ff0a"/><stop offset="0.3172" stop-color="#eaff15"/><stop offset="0.318" stop-color="#e5ff1a"/><stop offset="0.3278" stop-color="#daff25"/><stop offset="0.3285" stop-color="#d4ff2b"/><stop offset="0.3384" stop-color="#caff35"/><stop offset="0.3391" stop-color="#c4ff3b"/><stop offset="0.3474" stop-color="#baff45"/><stop offset="0.4003" stop-color="#5fffa0"/><stop offset="0.4101" stop-color="#4cffb3"/><stop offset="0.4426" stop-color="#01fffe"/><stop offset="0.4743" stop-color="#00bcff"/><stop offset="0.568" stop-color="#0000fe"/><stop offset="0.5899" stop-color="#0000bb"/><stop offset="0.605" stop-color="#0000a0"/><stop offset="0.6118" stop-color="#00009f"/><stop offset="0.6125" stop-color="#00008f"/><stop offset="0.6254" stop-color="#00008f"/><stop offset="0.6261" stop-color="#00009f"/><stop offset="0.6397" stop-color="#0000a2"/><stop offset="0.6405" stop-color="#0000ad"/><stop offset="0.6518" stop-color="#0000b3"/><stop offset="0.6526" stop-color="#0000bc"/><stop offset="0.6654" stop-color="#0000bf"/><stop offset="0.6662" stop-color="#0000cf"/><stop offset="0.6828" stop-color="#0000cf"/><stop offset="0.6835" stop-color="#0000df"/><stop offset="0.7009" stop-color="#0000df"/><stop offset="0.7017" stop-color="#0000ef"/><stop offset="0.7289" stop-color="#0000ef"/><stop offset="0.7296" stop-color="#0000ff"/><stop offset="0.7591" stop-color="#0000ff"/><stop offset="0.7598" stop-color="#0010ff"/><stop offset="0.7681" stop-color="#0010ff"/><stop offset="0.7689" stop-color="#0000ff"/><stop offset="0.8225" stop-color="#0000ff"/><stop offset="0.8233" stop-color="#0000ef"/><stop offset="0.8376" stop-color="#0000ec"/><stop offset="0.8384" stop-color="#0000e2"/><stop offset="0.8505" stop-color="#0000dc"/><stop offset="0.8512" stop-color="#0000d2"/><stop offset="0.8633" stop-color="#0000cd"/><stop offset="0.864" stop-color="#0000c2"/><stop offset="0.8678" stop-color="#0000c2"/><stop offset="0.8852" stop-color="#0000a1"/><stop offset="0.8912" stop-color="#00009d"/><stop offset="0.892" stop-color="#000091"/><stop offset="0.8927" stop-color="#000090"/><stop offset="0.8995" stop-color="#00008f"/><stop offset="0.9011" stop-color="#000092"/><stop offset="0.9018" stop-color="#00009b"/><stop offset="0.9041" stop-color="#00009c"/><stop offset="0.9154" stop-color="#0000b3"/><stop offset="0.9456" stop-color="#0000fe"/><stop offset="0.9539" stop-color="#0015ff"/><stop offset="0.9773" stop-color="#0075ff"/><stop offset="0.9909" stop-color="#00d4ff"/><stop offset="0.9947" stop-color="#00feff"/><stop offset="1" stop-color="#3bffc4"/></linearGradient>
<linearGradient id="r10"><stop offset="0" stop-color="#ff1000"/><stop offset="0.04456" stop-color="#ff1000"/><stop offset="0.04532" stop-color="#ff2000"/><stop offset="0.09441" stop-color="#ff2000"/><stop offset="0.09517" stop-color="#ff3000"/><stop offset="0.1254" stop-color="#ff3000"/><stop offset="0.1261" stop-color="#ff4000"/><stop offset="0.1488" stop-color="#ff4000"/><stop offset="0.1495" stop-color="#ff5000"/><stop offset="0.1684" stop-color="#ff5000"/><stop offset="0.1692" stop-color="#ff6000"/><stop offset="0.1866" stop-color="#ff6000"/><stop offset="0.1873" stop-color="#ff7000"/><stop offset="0.2039" stop-color="#ff7000"/><stop offset="0.2047" stop-color="#ff8000"/><stop offset="0.2213" stop-color="#ff8000"/><stop offset="0.2221" stop-color="#ff8f00"/><stop offset="0.2273" stop-color="#ff8f00"/><stop offset="0.2341" stop-color="#ff9400"/><stop offset="0.2349" stop-color="#ff9b00"/><stop offset="0.2455" stop-color="#ffa300"/><stop offset="0.2462" stop-color="#ffab00"/><stop offset="0.2576" stop-color="#ffb200"/><stop offset="0.2583" stop-color="#ffbc00"/><stop offset="0.2689" stop-color="#ffc400"/><stop offset="0.2696" stop-color="#ffca00"/><stop offset="0.2795" stop-color="#ffd400"/><stop offset="0.2802" stop-color="#ffda00"/><stop offset="0.29" stop-color="#ffe400"/><stop offset="0.2908" stop-color="#ffea00"/><stop offset="0.3006" stop-color="#fff400"/><stop offset="0.3014" stop-color="#fff900"/><stop offset="0.3066" stop-color="#ffff00"/><stop offset="0.3112" stop-color="#faff05"/><stop offset="0.3119" stop-color="#f4ff0b"/><stop offset="0.3218" stop-color="#eaff15"/><stop offset="0.3225" stop-color="#e4ff1b"/><stop offset="0.3323" stop-color="#daff25"/><stop offset="0.3331" stop-color="#d4ff2b"/><stop offset="0.3429" stop-color="#caff35"/><stop offset="0.3437" stop-color="#c5ff3a"/><stop offset="0.3814" stop-color="#89ff76"/><stop offset="0.4011" stop-color="#65ff9a"/><stop offset="0.4101" stop-color="#54ffab"/><stop offset="0.4464" stop-color="#00ffff"/><stop offset="0.5702" stop-color="#0000fd"/><stop offset="0.5899" stop-color="#0000c1"/><stop offset="0.6073" stop-color="#0000a1"/><stop offset="0.614" stop-color="#00009e"/><stop offset="0.6148" stop-color="#000090"/><stop offset="0.6284" stop-color="#00008f"/><stop offset="0.6292" stop-color="#00009f"/><stop offset="0.6435" stop-color="#0000a2"/><stop offset="0.6443" stop-color="#0000ac"/><stop offset="0.6556" stop-color="#0000b3"/><stop offset="0.6563" stop-color="#0000bc"/><stop offset="0.6707" stop-color="#0000bf"/><stop offset="0.6715" stop-color="#0000cf"/><stop offset="0.6888" stop-color="#0000cf"/><stop offset="0.6896" stop-color="#0000df"/><stop offset="0.7085" stop-color="#0000df"/><stop offset="0.7092" stop-color="#0000ef"/><stop offset="0.7387" stop-color="#0000ef"/><stop offset="0.7394" stop-color="#0000ff"/><stop offset="0.8165" stop-color="#0000ff"/><stop offset="0.8172" stop-color="#0000ef"/><stop offset="0.8346" stop-color="#0000ed"/><stop offset="0.8353" stop-color="#0000e1"/><stop offset="0.8474" stop-color="#0000dc"/><stop offset="0.8482" stop-color="#0000d2"/><stop offset="0.8603" stop-color="#0000cd"/><stop offset="0.861" stop-color="#0000c2"/><stop offset="0.8671" stop-color="#0000c0"/><stop offset="0.8844" stop-color="#0000a0"/><stop offset="0.8905" stop-color="#00009e"/><stop offset="0.8912" stop-color="#000090"/><stop offset="0.8988" stop-color="#00008f"/><stop offset="0.8995" stop-color="#000091"/><stop offset="0.9003" stop-color="#00009c"/><stop offset="0.9033" stop-color="#00009c"/><stop offset="0.9124" stop-color="#0000af"/><stop offset="0.9449" stop-color="#0000fe"/><stop offset="0.9539" stop-color="#0017ff"/><stop offset="0.9773" stop-color="#0077ff"/><stop offset="0.9909" stop-color="#00d6ff"/><stop offset="0.9947" stop-color="#00ffff"/><stop offset="1" stop-color="#3bffc4"/></linearGradient>
<linearGradient id="r11"><stop offset="0" stop-color="#ff1000"/><stop offset="0.06798" stop-color="#ff1000"/><stop offset="0.06873" stop-color="#ff2000"/><stop offset="0.108" stop-color="#ff2000"/><stop offset="0.1088" stop-color="#ff3000"/><stop offset="0.1352" stop-color="#ff3000"/><stop offset="0.136" stop-color="#ff4000"/><stop offset="0.1556" stop-color="#ff4000"/><stop offset="0.1563" stop-color="#ff5000"/><stop offset="0.1752" stop-color="#ff5000"/><stop offset="0.176" stop-color="#ff6000"/><stop offset="0.1934" stop-color="#ff6000"/><stop offset="0.1941" stop-color="#ff7000"/><stop offset="0.2107" stop-color="#ff7000"/><stop offset="0.2115" stop-color="#ff8000"/><stop offset="0.2273" stop-color="#ff8200"/><stop offset="0.2281" stop-color="#ff8c00"/><stop offset="0.2387" stop-color="#ff9300"/><stop offset="0.2394" stop-color="#ff9b00"/><stop offset="0.2508" stop-color="#ffa400"/><stop offset="0.2515" stop-color="#ffac00"/><stop offset="0.2628" stop-color="#ffb300"/><stop offset="0.2636" stop-color="#ffbb00"/><stop offset="0.2734" stop-color="#ffc400"/><stop offset="0.2742" stop-color="#ffca00"/><stop offset="0.284" stop-color="#ffd400"/><stop offset="0.2847" stop-color="#ffda00"/><stop offset="0.2946" stop-color="#ffe400"/><stop offset="0.2953" stop-color="#ffea00"/><stop offset="0.3051" stop-color="#fff400"/><stop offset="0.3059" stop-color="#fffa00"/><stop offset="0.3112" stop-color="#ffff00"/><stop offset="0.3157" stop-color="#faff05"/><stop offset="0.3165" stop-color="#f4ff0b"/><stop offset="0.3263" stop-color="#eaff15"/><stop offset="0.327" stop-color="#e4ff1b"/><stop offset="0.3369" stop-color="#daff25"/><stop offset="0.3376" stop-color="#d4ff2b"/><stop offset="0.3467" stop-color="#caff35"/><stop offset="0.4011" stop-color="#6dff92"/><stop offset="0.4101" stop-color="#5bffa4"/><stop offset="0.4494" stop-color="#01fffe"/><stop offset="0.5128" stop-color="#007aff"/><stop offset="0.5453" stop-color="#003bff"/><stop offset="0.5718" stop-color="#0000fe"/><stop offset="0.5906" stop-color="#0000c5"/><stop offset="0.6095" stop-color="#0000a2"/><stop offset="0.6171" stop-color="#00009f"/><stop offset="0.6178" stop-color="#00008f"/><stop offset="0.6322" stop-color="#00008f"/><stop offset="0.6329" stop-color="#00009f"/><stop offset="0.6465" stop-color="#0000a2"/><stop offset="0.6473" stop-color="#0000ac"/><stop offset="0.6594" stop-color="#0000b1"/><stop offset="0.6601" stop-color="#0000be"/><stop offset="0.676" stop-color="#0000bf"/><stop offset="0.6767" stop-color="#0000cf"/><stop offset="0.6949" stop-color="#0000cf"/><stop offset="0.6956" stop-color="#0000df"/><stop offset="0.7183" stop-color="#0000df"/><stop offset="0.719" stop-color="#0000ef"/><stop offset="0.7477" stop-color="#0000ef"/><stop offset="0.7485" stop-color="#0000ff"/><stop offset="0.8066" stop-color="#0000ff"/><stop offset="0.8074" stop-color="#0000ef"/><stop offset="0.8316" stop-color="#0000ee"/><stop offset="0.8323" stop-color="#0000e0"/><stop offset="0.8444" stop-color="#0000dc"/><stop offset="0.8452" stop-color="#0000d2"/><stop offset="0.8573" stop-color="#0000cd"/><stop offset="0.858" stop-color="#0000c2"/><stop offset="0.8671" stop-color="#0000bd"/><stop offset="0.8829" stop-color="#0000a0"/><stop offset="0.889" stop-color="#00009e"/><stop offset="0.8897" stop-color="#000090"/><stop offset="0.8973" stop-color="#00008f"/><stop offset="0.8988" stop-color="#000092"/><stop offset="0.8995" stop-color="#00009c"/><stop offset="0.9026" stop-color="#00009d"/><stop offset="0.9131" stop-color="#0000b3"/><stop offset="0.9441" stop-color="#0000fe"/><stop offset="0.9539" stop-color="#001aff"/><stop offset="0.9773" stop-color="#0079ff"/><stop offset="0.9909" stop-color="#00d8ff"/><stop offset="0.994" stop-color="#00f8ff"/><stop offset="0.9947" stop-color="#01fffe"/><stop offset="1" stop-color="#3cffc3"/></linearGradient>
<linearGradient id="r12"><stop offset="0" stop-color="#ff0000"/><stop offset="0.01737" stop-color="#ff0000"/><stop offset="0.01813" stop-color="#ff1000"/><stop offset="0.08157" stop-color="#ff1000"/><stop offset="0.08233" stop-color="#ff2000"/><stop offset="0.1171" stop-color="#ff2000"/><stop offset="0.1178" stop-color="#ff3000"/><stop offset="0.1427" stop-color="#ff3000"/><stop offset="0.1435" stop-color="#ff4000"/><stop offset="0.1624" stop-color="#ff4000"/><stop offset="0.1631" stop-color="#ff5000"/><stop offset="0.182" stop-color="#ff5000"/><stop offset="0.1828" stop-color="#ff6000"/><stop offset="0.1994" stop-color="#ff6000"/><stop offset="0.2002" stop-color="#ff7000"/><stop offset="0.2168" stop-color="#ff7000"/><stop offset="0.2175" stop-color="#ff8000"/><stop offset="0.2319" stop-color="#ff8300"/><stop offset="0.2326" stop-color="#ff8c00"/><stop offset="0.2432" stop-color="#ff9300"/><stop offset="0.244" stop-color="#ff9b00"/><stop offset="0.2553" stop-color="#ffa200"/><stop offset="0.256" stop-color="#ffad00"/><stop offset="0.2674" stop-color="#ffb500"/><stop offset="0.2681" stop-color="#ffba00"/><stop offset="0.2779" stop-color="#ffc500"/><stop offset="0.2787" stop-color="#ffca00"/><stop offset="0.2885" stop-color="#ffd400"/><stop offset="0.2893" stop-color="#ffda00"/><stop offset="0.2991" stop-color="#ffe400"/><stop offset="0.2998" stop-color="#ffea00"/><stop offset="0.3157" stop-color="#feff01"/><stop offset="0.3202" stop-color="#f9ff06"/><stop offset="0.321" stop-color="#f4ff0b"/><stop offset="0.3308" stop-color="#eaff15"/><stop offset="0.3316" stop-color="#e4ff1b"/><stop offset="0.3414" stop-color="#daff25"/><stop offset="0.3421" stop-color="#d4ff2b"/><stop offset="0.3799" stop-color="#9aff65"/><stop offset="0.4011" stop-color="#74ff8b"/><stop offset="0.4101" stop-color="#62ff9d"/><stop offset="0.4532" stop-color="#00ffff"/><stop offset="0.5128" stop-color="#0080ff"/><stop offset="0.5461" stop-color="#003fff"/><stop offset="0.568" stop-color="#0010ff"/><stop offset="0.5733" stop-color="#0000ff"/><stop offset="0.5906" stop-color="#0000ca"/><stop offset="0.6125" stop-color="#0000a1"/><stop offset="0.6201" stop-color="#00009f"/><stop offset="0.6208" stop-color="#00008f"/><stop offset="0.636" stop-color="#00008f"/><stop offset="0.6367" stop-color="#00009f"/><stop offset="0.6503" stop-color="#0000a2"/><stop offset="0.6511" stop-color="#0000ac"/><stop offset="0.6647" stop-color="#0000af"/><stop offset="0.6654" stop-color="#0000bf"/><stop offset="0.682" stop-color="#0000bf"/><stop offset="0.6828" stop-color="#0000cf"/><stop offset="0.7009" stop-color="#0000cf"/><stop offset="0.7017" stop-color="#0000df"/><stop offset="0.7281" stop-color="#0000df"/><stop offset="0.7289" stop-color="#0000ef"/><stop offset="0.7568" stop-color="#0000ef"/><stop offset="0.7576" stop-color="#0000ff"/><stop offset="0.7825" stop-color="#0000ff"/><stop offset="0.7832" stop-color="#0000ef"/><stop offset="0.8278" stop-color="#0000ef"/><stop offset="0.8285" stop-color="#0000df"/><stop offset="0.8414" stop-color="#0000dd"/><stop offset="0.8421" stop-color="#0000d2"/><stop offset="0.855" stop-color="#0000cd"/><stop offset="0.8557" stop-color="#0000c2"/><stop offset="0.8656" stop-color="#0000bd"/><stop offset="0.8799" stop-color="#0000a1"/><stop offset="0.8867" stop-color="#00009e"/><stop offset="0.8875" stop-color="#000090"/><stop offset="0.8965" stop-color="#00008f"/><stop offset="0.898" stop-color="#000092"/><stop offset="0.8988" stop-color="#00009c"/><stop offset="0.9018" stop-color="#00009d"/><stop offset="0.9131" stop-color="#0000b5"/><stop offset="0.9434" stop-color="#0000fe"/><stop offset="0.9539" stop-color="#001cff"/><stop offset="0.9773" stop-color="#007bff"/><stop offset="0.9909" stop-color="#00d9ff"/><stop offset="0.994" stop-color="#00f9ff"/><stop offset="0.9947" stop-color="#03fffc"/><stop offset="1" stop-color="#3cffc3"/></linearGradient>
<linearGradient id="r13"><stop offset="0" stop-color="#ff0000"/><stop offset="0.04079" stop-color="#ff0000"/><stop offset="0.04154" stop-color="#ff1000"/><stop offset="0.09592" stop-color="#ff1000"/><stop offset="0.09668" stop-color="#ff2000"/><stop offset="0.1269" stop-color="#ff2000"/><stop offset="0.1276" stop-color="#ff3000"/><stop offset="0.1495" stop-color="#ff3000"/><stop offset="0.1503" stop-color="#ff4000"/><stop offset="0.1692" stop-color="#ff4000"/><stop offset="0.1699" stop-color="#ff5000"/><stop offset="0.1881" stop-color="#ff5000"/><stop offset="0.1888" stop-color="#ff6000"/><stop offset="0.2062" stop-color="#ff6000"/><stop offset="0.2069" stop-color="#ff7000"/><stop offset="0.2236" stop-color="#ff7000"/><stop offset="0.2243" stop-color="#ff7f00"/><stop offset="0.2364" stop-color="#ff8300"/><stop offset="0.2372" stop-color="#ff8c00"/><stop offset="0.2485" stop-color="#ff9300"/><stop offset="0.2492" stop-color="#ff9c00"/><stop offset="0.2606" stop-color="#ffa200"/><stop offset="0.2613" stop-color="#ffac00"/><stop offset="0.2719" stop-color="#ffb500"/><stop offset="0.2727" stop-color="#ffba00"/><stop offset="0.2825" stop-color="#ffc500"/><stop offset="0.2832" stop-color="#ffca00"/><stop offset="0.2931" stop-color="#ffd500"/><stop offset="0.2938" stop-color="#ffda00"/><stop offset="0.3036" stop-color="#ffe500"/><stop offset="0.3044" stop-color="#ffea00"/><stop offset="0.3134" stop-color="#fff400"/><stop offset="0.3142" stop-color="#fff900"/><stop offset="0.3195" stop-color="#ffff00"/><stop offset="0.324" stop-color="#faff05"/><stop offset="0.3248" stop-color="#f5ff0a"/><stop offset="0.3346" stop-color="#eaff15"/><stop offset="0.3353" stop-color="#e5ff1a"/><stop offset="0.3452" stop-color="#daff25"/><stop offset="0.3459" stop-color="#d6ff29"/><stop offset="0.3746" stop-color="#a9ff56"/><stop offset="0.4011" stop-color="#7bff84"/><stop offset="0.4569" stop-color="#00feff"/><stop offset="0.5128" stop-color="#0086ff"/><stop offset="0.5461" stop-color="#0045ff"/><stop offset="0.568" stop-color="#0015ff"/><stop offset="0.5755" stop-color="#0000fd"/><stop offset="0.5921" stop-color="#0000cd"/><stop offset="0.6148" stop-color="#0000a2"/><stop offset="0.6231" stop-color="#00009f"/><stop offset="0.6239" stop-color="#00008f"/><stop offset="0.6397" stop-color="#00008f"/><stop offset="0.6405" stop-color="#00009f"/><stop offset="0.6541" stop-color="#0000a2"/><stop offset="0.6548" stop-color="#0000ad"/><stop offset="0.6699" stop-color="#0000af"/><stop offset="0.6707" stop-color="#0000bf"/><stop offset="0.6881" stop-color="#0000bf"/><stop offset="0.6888" stop-color="#0000cf"/><stop offset="0.7077" stop-color="#0000cf"/><stop offset="0.7085" stop-color="#0000df"/><stop offset="0.7372" stop-color="#0000df"/><stop offset="0.7379" stop-color="#0000ef"/><stop offset="0.824" stop-color="#0000ef"/><stop offset="0.8248" stop-color="#0000df"/><stop offset="0.8391" stop-color="#0000dc"/><stop offset="0.8399" stop-color="#0000d2"/><stop offset="0.852" stop-color="#0000cd"/><stop offset="0.8527" stop-color="#0000c2"/><stop offset="0.864" stop-color="#0000bd"/><stop offset="0.8648" stop-color="#0000bc"/><stop offset="0.8656" stop-color="#0000b3"/><stop offset="0.8693" stop-color="#0000b1"/><stop offset="0.8799" stop-color="#00009f"/><stop offset="0.8852" stop-color="#00009e"/><stop offset="0.886" stop-color="#000090"/><stop offset="0.895" stop-color="#00008f"/><stop offset="0.8965" stop-color="#000091"/><stop offset="0.8973" stop-color="#00009c"/><stop offset="0.9003" stop-color="#00009d"/><stop offset="0.9101" stop-color="#0000b1"/><stop offset="0.9426" stop-color="#0000fe"/><stop offset="0.9539" stop-color="#001eff"/><stop offset="0.9773" stop-color="#007dff"/><stop offset="0.9909" stop-color="#00dbff"/><stop offset="0.994" stop-color="#00fbff"/><stop offset="0.9947" stop-color="#04fffb"/><stop offset="1" stop-color="#3dffc2"/></linearGradient>
<linearGradient id="r14"><stop offset="0" stop-color="#ff0000"/><stop offset="0.06495" stop-color="#ff0000"/><stop offset="0.06571" stop-color="#ff1000"/><stop offset="0.1088" stop-color="#ff1000"/><stop offset="0.1095" stop-color="#ff2000"/><stop offset="0.136" stop-color="#ff2000"/><stop offset="0.1367" stop-color="#ff3000"/><stop offset="0.1563" stop-color="#ff3000"/><stop offset="0.1571" stop-color="#ff4000"/><stop offset="0.176" stop-color="#ff4000"/><stop offset="0.1767" stop-color="#ff5000"/><stop offset="0.1941" stop-color="#ff5000"/><stop offset="0.1949" stop-color="#ff6000"/><stop offset="0.2122" stop-color="#ff6000"/><stop offset="0.213" stop-color="#ff7000"/><stop offset="0.2289" stop-color="#ff7300"/><stop offset="0.2296" stop-color="#ff7c00"/><stop offset="0.2409" stop-color="#ff8300"/><stop offset="0.2417" stop-color="#ff8c00"/><stop offset="0.253" stop-color="#ff9200"/><stop offset="0.2538" stop-color="#ff9d00"/><stop offset="0.2651" stop-color="#ffa400"/><stop offset="0.2666" stop-color="#ffaa00"/><stop offset="0.2764" stop-color="#ffb500"/><stop offset="0.2772" stop-color="#ffba00"/><stop offset="0.2863" stop-color="#ffc400"/><stop offset="0.287" stop-color="#ffca00"/><stop offset="0.2968" stop-color="#ffd400"/><stop offset="0.2976" stop-color="#ffda00"/><stop offset="0.3074" stop-color="#ffe400"/><stop offset="0.3082" stop-color="#ffea00"/><stop offset="0.318" stop-color="#fff400"/><stop offset="0.3187" stop-color="#fffa00"/><stop offset="0.324" stop-color="#ffff00"/><stop offset="0.3285" stop-color="#faff05"/><stop offset="0.3293" stop-color="#f4ff0b"/><stop offset="0.3391" stop-color="#eaff15"/><stop offset="0.3399" stop-color="#e4ff1b"/><stop offset="0.3497" stop-color="#d8ff27"/><stop offset="0.4011" stop-color="#82ff7d"/><stop offset="0.46" stop-color="#00feff"/><stop offset="0.5128" stop-color="#008bff"/><stop offset="0.5461" stop-color="#004aff"/><stop offset="0.5687" stop-color="#0019ff"/><stop offset="0.577" stop-color="#0000fe"/><stop offset="0.5899" stop-color="#0000d7"/><stop offset="0.6148" stop-color="#0000a6"/><stop offset="0.6208" stop-color="#00009f"/><stop offset="0.6261" stop-color="#00009f"/><stop offset="0.6269" stop-color="#00008f"/><stop offset="0.6427" stop-color="#00008f"/><stop offset="0.6435" stop-color="#00009f"/><stop offset="0.6579" stop-color="#0000a1"/><stop offset="0.6586" stop-color="#0000ae"/><stop offset="0.6601" stop-color="#0000af"/><stop offset="0.6752" stop-color="#0000af"/><stop offset="0.676" stop-color="#0000bf"/><stop offset="0.6941" stop-color="#0000bf"/><stop offset="0.6949" stop-color="#0000cf"/><stop offset="0.7175" stop-color="#0000cf"/><stop offset="0.7183" stop-color="#0000df"/><stop offset="0.7462" stop-color="#0000df"/><stop offset="0.747" stop-color="#0000ef"/><stop offset="0.818" stop-color="#0000ef"/><stop offset="0.8187" stop-color="#0000df"/><stop offset="0.8361" stop-color="#0000dc"/><stop offset="0.8369" stop-color="#0000d2"/><stop offset="0.8489" stop-color="#0000cd"/><stop offset="0.8497" stop-color="#0000c2"/><stop offset="0.8618" stop-color="#0000bd"/><stop offset="0.8625" stop-color="#0000b2"/><stop offset="0.8678" stop-color="#0000b0"/><stop offset="0.8784" stop-color="#00009f"/><stop offset="0.8837" stop-color="#00009e"/><stop offset="0.8844" stop-color="#000090"/><stop offset="0.8943" stop-color="#00008f"/><stop offset="0.895" stop-color="#000090"/><stop offset="0.8958" stop-color="#00009d"/><stop offset="0.8988" stop-color="#00009c"/><stop offset="0.9041" stop-color="#0000a6"/><stop offset="0.9418" stop-color="#0000fe"/><stop offset="0.9539" stop-color="#0020ff"/><stop offset="0.9773" stop-color="#007fff"/><stop offset="0.9909" stop-color="#00ddff"/><stop offset="0.994" stop-color="#00fcff"/><stop offset="0.9947" stop-color="#05fffa"/><stop offset="1" stop-color="#3effc1"/></linearGradient>
<linearGradient id="r15"><stop offset="0" stop-color="#ef0000"/><stop offset="0.009819" stop-color="#ef0000"/><stop offset="0.01057" stop-color="#ff0000"/><stop offset="0.08082" stop-color="#ff0000"/><stop offset="0.08157" stop-color="#ff1000"/><stop offset="0.1178" stop-color="#ff1000"/><stop offset="0.1186" stop-color="#ff2000"/><stop offset="0.1435" stop-color="#ff2000"/><stop offset="0.1443" stop-color="#ff3000"/><stop offset="0.1631" stop-color="#ff3000"/><stop offset="0.1639" stop-color="#ff4000"/><stop offset="0.1828" stop-color="#ff4000"/><stop offset="0.1835" stop-color="#ff5000"/><stop offset="0.2009" stop-color="#ff5000"/><stop offset="0.2017" stop-color="#ff6000"/><stop offset="0.2183" stop-color="#ff6000"/><stop offset="0.219" stop-color="#ff7000"/><stop offset="0.2334" stop-color="#ff7300"/><stop offset="0.2341" stop-color="#ff7d00"/><stop offset="0.2455" stop-color="#ff8300"/><stop offset="0.2462" stop-color="#ff8c00"/><stop offset="0.2583" stop-color="#ff9100"/><stop offset="0.2591" stop-color="#ff9d00"/><stop offset="0.2696" stop-color="#ffa500"/><stop offset="0.2704" stop-color="#ffaa00"/><stop offset="0.2802" stop-color="#ffb500"/><stop offset="0.281" stop-color="#ffba00"/><stop offset="0.2908" stop-color="#ffc500"/><stop offset="0.2915" stop-color="#ffca00"/><stop offset="0.3014" stop-color="#ffd500"/><stop offset="0.3021" stop-color="#ffda00"/><stop offset="0.3119" stop-color="#ffe500"/><stop offset="0.3127" stop-color="#ffea00"/><stop offset="0.3285" stop-color="#feff01"/><stop offset="0.3331" stop-color="#faff05"/><stop offset="0.3338" stop-color="#f4ff0b"/><stop offset="0.3437" stop-color="#eaff15"/><stop offset="0.3444" stop-color="#e5ff1a"/><stop offset="0.3829" stop-color="#aaff55"/><stop offset="0.4011" stop-color="#89ff76"/><stop offset="0.463" stop-color="#00ffff"/><stop offset="0.5128" stop-color="#0091ff"/><stop offset="0.5453" stop-color="#0052ff"/><stop offset="0.568" stop-color="#0020ff"/><stop offset="0.5785" stop-color="#0000ff"/><stop offset="0.5899" stop-color="#0000dd"/><stop offset="0.6171" stop-color="#0000aa"/><stop offset="0.6178" stop-color="#0000a5"/><stop offset="0.6246" stop-color="#00009e"/><stop offset="0.6299" stop-color="#00009f"/><stop offset="0.6307" stop-color="#00008f"/><stop offset="0.6465" stop-color="#00008f"/><stop offset="0.6473" stop-color="#00009f"/><stop offset="0.6631" stop-color="#00009f"/><stop offset="0.6639" stop-color="#0000af"/><stop offset="0.6805" stop-color="#0000af"/><stop offset="0.6813" stop-color="#0000bf"/><stop offset="0.7002" stop-color="#0000bf"/><stop offset="0.7009" stop-color="#0000cf"/><stop offset="0.7266" stop-color="#0000cf"/><stop offset="0.7273" stop-color="#0000df"/><stop offset="0.7545" stop-color="#0000df"/><stop offset="0.7553" stop-color="#0000ef"/><stop offset="0.8074" stop-color="#0000ef"/><stop offset="0.8082" stop-color="#0000df"/><stop offset="0.8331" stop-color="#0000de"/><stop offset="0.8338" stop-color="#0000d1"/><stop offset="0.8459" stop-color="#0000cd"/><stop offset="0.8467" stop-color="#0000c2"/><stop offset="0.8595" stop-color="#0000bd"/><stop offset="0.8603" stop-color="#0000b1"/><stop offset="0.8671" stop-color="#0000af"/><stop offset="0.8769" stop-color="#00009f"/><stop offset="0.8822" stop-color="#00009f"/><stop offset="0.8829" stop-color="#00008f"/><stop offset="0.8927" stop-color="#00008f"/><stop offset="0.8943" stop-color="#000091"/><stop offset="0.895" stop-color="#00009c"/><stop offset="0.898" stop-color="#00009d"/><stop offset="0.9041" stop-color="#0000a8"/><stop offset="0.9411" stop-color="#0000fe"/><stop offset="0.9539" stop-color="#0022ff"/><stop offset="0.9773" stop-color="#0081ff"/><stop offset="0.9909" stop-color="#00deff"/><stop offset="0.994" stop-color="#00fdff"/><stop offset="1" stop-color="#3effc1"/></linearGradient>
<linearGradient id="r16"><stop offset="0" stop-color="#ef0000"/><stop offset="0.03323" stop-color="#ef0000"/><stop offset="0.03399" stop-color="#ff0000"/><stop offset="0.09441" stop-color="#ff0000"/><stop offset="0.09517" stop-color="#ff1000"/><stop offset="0.1269" stop-color="#ff1000"/><stop offset="0.1276" stop-color="#ff2000"/><stop offset="0.1495" stop-color="#ff2000"/><stop offset="0.1503" stop-color="#ff3000"/><stop offset="0.1699" stop-color="#ff3000"/><stop offset="0.1707" stop-color="#ff4000"/><stop offset="0.1888" stop-color="#ff4000"/><stop offset="0.1896" stop-color="#ff5000"/><stop offset="0.2069" stop-color="#ff5000"/><stop offset="0.2077" stop-color="#ff6000"/><stop offset="0.2251" stop-color="#ff6000"/><stop offset="0.2258" stop-color="#ff6e00"/><stop offset="0.2379" stop-color="#ff7300"/><stop offset="0.2387" stop-color="#ff7d00"/><stop offset="0.25" stop-color="#ff8200"/><stop offset="0.2508" stop-color="#ff8c00"/><stop offset="0.2636" stop-color="#ff9300"/><stop offset="0.2644" stop-color="#ff9b00"/><stop offset="0.2742" stop-color="#ffa500"/><stop offset="0.2749" stop-color="#ffaa00"/><stop offset="0.284" stop-color="#ffb400"/><stop offset="0.2847" stop-color="#ffb900"/><stop offset="0.2946" stop-color="#ffc500"/><stop offset="0.2953" stop-color="#ffca00"/><stop offset="0.3051" stop-color="#ffd400"/><stop offset="0.3059" stop-color="#ffda00"/><stop offset="0.3157" stop-color="#ffe400"/><stop offset="0.3165" stop-color="#ffea00"/><stop offset="0.3263" stop-color="#fff400"/><stop offset="0.327" stop-color="#fffa00"/><stop offset="0.3323" stop-color="#ffff00"/><stop offset="0.3369" stop-color="#faff05"/><stop offset="0.3376" stop-color="#f4ff0b"/><stop offset="0.3474" stop-color="#e9ff16"/><stop offset="0.3678" stop-color="#c5ff3a"/><stop offset="0.3776" stop-color="#b9ff46"/><stop offset="0.3784" stop-color="#b5ff4a"/><stop offset="0.4011" stop-color="#90ff6f"/><stop offset="0.466" stop-color="#00ffff"/><stop offset="0.5128" stop-color="#0097ff"/><stop offset="0.5453" stop-color="#0057ff"/><stop offset="0.568" stop-color="#0025ff"/><stop offset="0.5808" stop-color="#0000fe"/><stop offset="0.5906" stop-color="#0000e1"/><stop offset="0.614" stop-color="#0000b2"/><stop offset="0.6201" stop-color="#0000aa"/><stop offset="0.6208" stop-color="#0000a5"/><stop offset="0.6269" stop-color="#00009f"/><stop offset="0.6337" stop-color="#00009f"/><stop offset="0.6344" stop-color="#00008f"/><stop offset="0.6503" stop-color="#00008f"/><stop offset="0.6511" stop-color="#00009f"/><stop offset="0.6684" stop-color="#00009f"/><stop offset="0.6692" stop-color="#0000af"/><stop offset="0.6866" stop-color="#0000af"/><stop offset="0.6873" stop-color="#0000bf"/><stop offset="0.7069" stop-color="#0000bf"/><stop offset="0.7077" stop-color="#0000cf"/><stop offset="0.7356" stop-color="#0000cf"/><stop offset="0.7364" stop-color="#0000df"/><stop offset="0.8293" stop-color="#0000df"/><stop offset="0.8301" stop-color="#0000cf"/><stop offset="0.8429" stop-color="#0000cd"/><stop offset="0.8437" stop-color="#0000c2"/><stop offset="0.8565" stop-color="#0000bd"/><stop offset="0.8573" stop-color="#0000b1"/><stop offset="0.8671" stop-color="#0000ad"/><stop offset="0.8701" stop-color="#0000a5"/><stop offset="0.8754" stop-color="#00009f"/><stop offset="0.8807" stop-color="#00009f"/><stop offset="0.8814" stop-color="#00008f"/><stop offset="0.892" stop-color="#00008f"/><stop offset="0.8927" stop-color="#000090"/><stop offset="0.8935" stop-color="#00009d"/><stop offset="0.8973" stop-color="#00009e"/><stop offset="0.9033" stop-color="#0000a9"/><stop offset="0.9403" stop-color="#0000fe"/><stop offset="0.9539" stop-color="#0025ff"/><stop offset="0.9773" stop-color="#0083ff"/><stop offset="0.9819" stop-color="#00a0ff"/><stop offset="0.9909" stop-color="#00e0ff"/><stop offset="0.994" stop-color="#00ffff"/><stop offset="1" stop-color="#3fffc0"/></linearGradient>
<linearGradient id="r17"><stop offset="0" stop-color="#ef0000"/><stop offset="0.0574" stop-color="#ef0000"/><stop offset="0.05816" stop-color="#ff0000"/><stop offset="0.108" stop-color="#ff0000"/><stop offset="0.1088" stop-color="#ff1000"/><stop offset="0.1352" stop-color="#ff1000"/><stop offset="0.136" stop-color="#ff2000"/><stop offset="0.1563" stop-color="#ff2000"/><stop offset="0.1571" stop-color="#ff3000"/><stop offset="0.176" stop-color="#ff3000"/><stop offset="0.1767" stop-color="#ff4000"/><stop offset="0.1949" stop-color="#ff4000"/><stop offset="0.1956" stop-color="#ff5000"/><stop offset="0.213" stop-color="#ff5000"/><stop offset="0.2137" stop-color="#ff6000"/><stop offset="0.2296" stop-color="#ff6200"/><stop offset="0.2304" stop-color="#ff6d00"/><stop offset="0.2424" stop-color="#ff7200"/><stop offset="0.2432" stop-color="#ff7d00"/><stop offset="0.2553" stop-color="#ff8200"/><stop offset="0.256" stop-color="#ff8e00"/><stop offset="0.2674" stop-color="#ff9500"/><stop offset="0.2681" stop-color="#ff9a00"/><stop offset="0.2779" stop-color="#ffa500"/><stop offset="0.2787" stop-color="#ffaa00"/><stop offset="0.2983" stop-color="#ffc400"/><stop offset="0.2991" stop-color="#ffc900"/><stop offset="0.3089" stop-color="#ffd400"/><stop offset="0.3097" stop-color="#ffda00"/><stop offset="0.3195" stop-color="#ffe400"/><stop offset="0.3202" stop-color="#ffe900"/><stop offset="0.3308" stop-color="#fff400"/><stop offset="0.3316" stop-color="#fffa00"/><stop offset="0.3369" stop-color="#feff01"/><stop offset="0.3716" stop-color="#c9ff36"/><stop offset="0.3724" stop-color="#c4ff3b"/><stop offset="0.3814" stop-color="#baff45"/><stop offset="0.3822" stop-color="#b5ff4a"/><stop offset="0.4011" stop-color="#97ff68"/><stop offset="0.469" stop-color="#00ffff"/><stop offset="0.5128" stop-color="#009cff"/><stop offset="0.5453" stop-color="#005dff"/><stop offset="0.568" stop-color="#002bff"/><stop offset="0.5823" stop-color="#0000ff"/><stop offset="0.5906" stop-color="#0000e6"/><stop offset="0.614" stop-color="#0000b7"/><stop offset="0.6231" stop-color="#0000aa"/><stop offset="0.6239" stop-color="#0000a5"/><stop offset="0.6292" stop-color="#0000a0"/><stop offset="0.6375" stop-color="#00009f"/><stop offset="0.6382" stop-color="#00008f"/><stop offset="0.6541" stop-color="#00008f"/><stop offset="0.6548" stop-color="#00009f"/><stop offset="0.6737" stop-color="#00009f"/><stop offset="0.6745" stop-color="#0000af"/><stop offset="0.6926" stop-color="#0000af"/><stop offset="0.6934" stop-color="#0000bf"/><stop offset="0.716" stop-color="#0000bf"/><stop offset="0.7168" stop-color="#0000cf"/><stop offset="0.744" stop-color="#0000cf"/><stop offset="0.7447" stop-color="#0000df"/><stop offset="0.8248" stop-color="#0000df"/><stop offset="0.8255" stop-color="#0000cf"/><stop offset="0.8406" stop-color="#0000cc"/><stop offset="0.8414" stop-color="#0000c2"/><stop offset="0.8535" stop-color="#0000bd"/><stop offset="0.8542" stop-color="#0000b2"/><stop offset="0.8648" stop-color="#0000ae"/><stop offset="0.8671" stop-color="#0000ac"/><stop offset="0.8678" stop-color="#0000a4"/><stop offset="0.8784" stop-color="#00009f"/><stop offset="0.8792" stop-color="#00008f"/><stop offset="0.8905" stop-color="#00008f"/><stop offset="0.8912" stop-color="#000090"/><stop offset="0.892" stop-color="#00009e"/><stop offset="0.8958" stop-color="#00009d"/><stop offset="0.9026" stop-color="#0000aa"/><stop offset="0.9396" stop-color="#0000fe"/><stop offset="0.9539" stop-color="#0027ff"/><stop offset="0.9773" stop-color="#0085ff"/><stop offset="0.9819" stop-color="#00a1ff"/><stop offset="0.9909" stop-color="#00e2ff"/><stop offset="0.9932" stop-color="#00f8ff"/><stop offset="0.994" stop-color="#01fffe"/><stop offset="1" stop-color="#40ffbf"/></linearGradient>
<linearGradient id="r18"><stop offset="0" stop-color="#ef0000"/><stop offset="0.07628" stop-color="#ef0000"/><stop offset="0.07704" stop-color="#ff0000"/><stop offset="0.1171" stop-color="#ff0000"/><stop offset="0.1178" stop-color="#ff1000"/><stop offset="0.1427" stop-color="#ff1000"/><stop offset="0.1435" stop-color="#ff2000"/><stop offset="0.1631" stop-color="#ff2000"/><stop offset="0.1639" stop-color="#ff3000"/><stop offset="0.1828" stop-color="#ff3000"/><stop offset="0.1835" stop-color="#ff4000"/><stop offset="0.2009" stop-color="#ff4000"/><stop offset="0.2017" stop-color="#ff5000"/><stop offset="0.219" stop-color="#ff5000"/><stop offset="0.2198" stop-color="#ff6000"/><stop offset="0.2341" stop-color="#ff6200"/><stop offset="0.2349" stop-color="#ff6d00"/><stop offset="0.247" stop-color="#ff7200"/><stop offset="0.2477" stop-color="#ff7d00"/><stop offset="0.2606" stop-color="#ff8200"/><stop offset="0.2613" stop-color="#ff8d00"/><stop offset="0.2719" stop-color="#ff9500"/><stop offset="0.2727" stop-color="#ff9a00"/><stop offset="0.2817" stop-color="#ffa500"/><stop offset="0.2825" stop-color="#ffaa00"/><stop offset="0.2923" stop-color="#ffb500"/><stop offset="0.2931" stop-color="#ffba00"/><stop offset="0.3029" stop-color="#ffc500"/><stop offset="0.3036" stop-color="#ffca00"/><stop offset="0.3134" stop-color="#ffd500"/><stop offset="0.3142" stop-color="#ffda00"/><stop offset="0.324" stop-color="#ffe400"/><stop offset="0.3248" stop-color="#ffea00"/><stop offset="0.3346" stop-color="#fff400"/><stop offset="0.3353" stop-color="#fffa00"/><stop offset="0.3406" stop-color="#ffff00"/><stop offset="0.3648" stop-color="#d9ff26"/><stop offset="0.3656" stop-color="#d6ff29"/><stop offset="0.3754" stop-color="#caff35"/><stop offset="0.3761" stop-color="#c5ff3a"/><stop offset="0.386" stop-color="#b8ff47"/><stop offset="0.4011" stop-color="#9eff61"/><stop offset="0.4721" stop-color="#00feff"/><stop offset="0.5128" stop-color="#00a2ff"/><stop offset="0.5453" stop-color="#0062ff"/><stop offset="0.568" stop-color="#0030ff"/><stop offset="0.5846" stop-color="#0000fd"/><stop offset="0.5906" stop-color="#0000ec"/><stop offset="0.6148" stop-color="#0000bb"/><stop offset="0.6261" stop-color="#0000ab"/><stop offset="0.6269" stop-color="#0000a4"/><stop offset="0.6322" stop-color="#0000a0"/><stop offset="0.6405" stop-color="#00009f"/><stop offset="0.6412" stop-color="#00008f"/><stop offset="0.6579" stop-color="#00008f"/><stop offset="0.6586" stop-color="#00009f"/><stop offset="0.679" stop-color="#00009f"/><stop offset="0.6798" stop-color="#0000af"/><stop offset="0.6994" stop-color="#0000af"/><stop offset="0.7002" stop-color="#0000bf"/><stop offset="0.7251" stop-color="#0000bf"/><stop offset="0.7258" stop-color="#0000cf"/><stop offset="0.753" stop-color="#0000cf"/><stop offset="0.7538" stop-color="#0000df"/><stop offset="0.8202" stop-color="#0000df"/><stop offset="0.821" stop-color="#0000cf"/><stop offset="0.8376" stop-color="#0000cc"/><stop offset="0.8384" stop-color="#0000c2"/><stop offset="0.8505" stop-color="#0000bd"/><stop offset="0.8512" stop-color="#0000b2"/><stop offset="0.8648" stop-color="#0000ad"/><stop offset="0.8656" stop-color="#0000a2"/><stop offset="0.8769" stop-color="#00009f"/><stop offset="0.8776" stop-color="#00008f"/><stop offset="0.8897" stop-color="#00008f"/><stop offset="0.8905" stop-color="#000091"/><stop offset="0.8912" stop-color="#00009d"/><stop offset="0.895" stop-color="#00009e"/><stop offset="0.9026" stop-color="#0000ac"/><stop offset="0.9388" stop-color="#0000fe"/><stop offset="0.9539" stop-color="#0029ff"/><stop offset="0.9773" stop-color="#0087ff"/><stop offset="0.9819" stop-color="#00a3ff"/><stop offset="0.9909" stop-color="#00e3ff"/><stop offset="0.9932" stop-color="#00faff"/><stop offset="0.994" stop-color="#02fffd"/><stop offset="1" stop-color="#40ffbf"/></linearGradient>
<linearGradient id="r19"><stop offset="0" stop-color="#df0000"/><stop offset="0.02039" stop-color="#df0000"/><stop offset="0.02115" stop-color="#ef0000"/><stop offset="0.09139" stop-color="#ef0000"/><stop offset="0.09215" stop-color="#ff0000"/><stop offset="0.1254" stop-color="#ff0000"/><stop offset="0.1261" stop-color="#ff1000"/><stop offset="0.1488" stop-color="#ff1000"/><stop offset="0.1495" stop-color="#ff2000"/><stop offset="0.1692" stop-color="#ff2000"/><stop offset="0.1699" stop-color="#ff3000"/><stop offset="0.1888" stop-color="#ff3000"/><stop offset="0.1896" stop-color="#ff4000"/><stop offset="0.2069" stop-color="#ff4000"/><stop offset="0.2077" stop-color="#ff5000"/><stop offset="0.2251" stop-color="#ff5000"/><stop offset="0.2258" stop-color="#ff5f00"/><stop offset="0.2387" stop-color="#ff6200"/><stop offset="0.2394" stop-color="#ff6d00"/><stop offset="0.2515" stop-color="#ff7200"/><stop offset="0.2523" stop-color="#ff7d00"/><stop offset="0.2644" stop-color="#ff8300"/><stop offset="0.2659" stop-color="#ff8a00"/><stop offset="0.2757" stop-color="#ff9500"/><stop offset="0.2764" stop-color="#ff9a00"/><stop offset="0.2855" stop-color="#ffa500"/><stop offset="0.2863" stop-color="#ffa900"/><stop offset="0.2961" stop-color="#ffb500"/><stop offset="0.2968" stop-color="#ffba00"/><stop offset="0.3066" stop-color="#ffc500"/><stop offset="0.3074" stop-color="#ffca00"/><stop offset="0.3172" stop-color="#ffd400"/><stop offset="0.318" stop-color="#ffda00"/><stop offset="0.3278" stop-color="#ffe400"/><stop offset="0.3285" stop-color="#ffea00"/><stop offset="0.3384" stop-color="#fff400"/><stop offset="0.3391" stop-color="#fffa00"/><stop offset="0.3444" stop-color="#ffff00"/><stop offset="0.3588" stop-color="#e9ff16"/><stop offset="0.3595" stop-color="#e6ff19"/><stop offset="0.3693" stop-color="#d9ff26"/><stop offset="0.3701" stop-color="#d4ff2b"/><stop offset="0.3792" stop-color="#caff35"/><stop offset="0.3799" stop-color="#c5ff3a"/><stop offset="0.3882" stop-color="#baff45"/><stop offset="0.4094" stop-color="#94ff6b"/><stop offset="0.4743" stop-color="#00ffff"/><stop offset="0.5128" stop-color="#00a7ff"/><stop offset="0.5453" stop-color="#0068ff"/><stop offset="0.568" stop-color="#0035ff"/><stop offset="0.5861" stop-color="#0000ff"/><stop offset="0.5906" stop-color="#0000f2"/><stop offset="0.614" stop-color="#0000c2"/><stop offset="0.6246" stop-color="#0000b0"/><stop offset="0.6299" stop-color="#0000ab"/><stop offset="0.6307" stop-color="#0000a3"/><stop offset="0.6443" stop-color="#00009f"/><stop offset="0.645" stop-color="#00008f"/><stop offset="0.6624" stop-color="#00008f"/><stop offset="0.6631" stop-color="#00009f"/><stop offset="0.6843" stop-color="#00009f"/><stop offset="0.685" stop-color="#0000af"/><stop offset="0.7054" stop-color="#0000af"/><stop offset="0.7062" stop-color="#0000bf"/><stop offset="0.7341" stop-color="#0000bf"/><stop offset="0.7349" stop-color="#0000cf"/><stop offset="0.7606" stop-color="#0000cf"/><stop offset="0.7613" stop-color="#0000df"/><stop offset="0.8097" stop-color="#0000df"/><stop offset="0.8104" stop-color="#0000cf"/><stop offset="0.8346" stop-color="#0000ce"/><stop offset="0.8353" stop-color="#0000c1"/><stop offset="0.8474" stop-color="#0000bd"/><stop offset="0.8482" stop-color="#0000b2"/><stop offset="0.8618" stop-color="#0000ae"/><stop offset="0.8625" stop-color="#0000a1"/><stop offset="0.8746" stop-color="#00009f"/><stop offset="0.8754" stop-color="#00008f"/><stop offset="0.8882" stop-color="#00008f"/><stop offset="0.889" stop-color="#00009f"/><stop offset="0.8935" stop-color="#00009e"/><stop offset="0.8995" stop-color="#0000a8"/><stop offset="0.9381" stop-color="#0000fe"/><stop offset="0.9539" stop-color="#002bff"/><stop offset="0.9773" stop-color="#008aff"/><stop offset="0.9819" stop-color="#00a5ff"/><stop offset="0.9909" stop-color="#00e5ff"/><stop offset="0.9932" stop-color="#00fbff"/><stop offset="0.994" stop-color="#04fffb"/><stop offset="1" stop-color="#41ffbe"/></linearGradient>
<linearGradient id="r20"><stop offset="0" stop-color="#df0000"/><stop offset="0.04456" stop-color="#df0000"/><stop offset="0.04532" stop-color="#ef0000"/><stop offset="0.1065" stop-color="#ef0000"/><stop offset="0.1073" stop-color="#ff0000"/><stop offset="0.1329" stop-color="#ff0000"/><stop offset="0.1337" stop-color="#ff1000"/><stop offset="0.1548" stop-color="#ff1000"/><stop offset="0.1556" stop-color="#ff2000"/><stop offset="0.1752" stop-color="#ff2000"/><stop offset="0.176" stop-color="#ff3000"/><stop offset="0.1941" stop-color="#ff3000"/><stop offset="0.1949" stop-color="#ff4000"/><stop offset="0.213" stop-color="#ff4000"/><stop offset="0.2137" stop-color="#ff5000"/><stop offset="0.2296" stop-color="#ff5200"/><stop offset="0.2304" stop-color="#ff5d00"/><stop offset="0.2432" stop-color="#ff6200"/><stop offset="0.244" stop-color="#ff6d00"/><stop offset="0.2568" stop-color="#ff7100"/><stop offset="0.2576" stop-color="#ff7e00"/><stop offset="0.2636" stop-color="#ff7f00"/><stop offset="0.2689" stop-color="#ff8500"/><stop offset="0.2696" stop-color="#ff8a00"/><stop offset="0.2795" stop-color="#ff9500"/><stop offset="0.2802" stop-color="#ff9a00"/><stop offset="0.2893" stop-color="#ffa500"/><stop offset="0.29" stop-color="#ffa900"/><stop offset="0.2998" stop-color="#ffb500"/><stop offset="0.3006" stop-color="#ffba00"/><stop offset="0.3104" stop-color="#ffc400"/><stop offset="0.3112" stop-color="#ffca00"/><stop offset="0.321" stop-color="#ffd400"/><stop offset="0.3218" stop-color="#ffda00"/><stop offset="0.3316" stop-color="#ffe400"/><stop offset="0.3323" stop-color="#ffea00"/><stop offset="0.3429" stop-color="#fff400"/><stop offset="0.3437" stop-color="#fffa00"/><stop offset="0.3482" stop-color="#ffff00"/><stop offset="0.3625" stop-color="#e9ff16"/><stop offset="0.3633" stop-color="#e5ff1a"/><stop offset="0.3731" stop-color="#daff25"/><stop offset="0.3739" stop-color="#d4ff2b"/><stop offset="0.3837" stop-color="#c9ff36"/><stop offset="0.3844" stop-color="#c5ff3a"/><stop offset="0.4094" stop-color="#9aff65"/><stop offset="0.4773" stop-color="#00feff"/><stop offset="0.5128" stop-color="#00adff"/><stop offset="0.5453" stop-color="#006dff"/><stop offset="0.568" stop-color="#003bff"/><stop offset="0.5884" stop-color="#0000fd"/><stop offset="0.6148" stop-color="#0000c5"/><stop offset="0.6269" stop-color="#0000b0"/><stop offset="0.6337" stop-color="#0000ac"/><stop offset="0.6344" stop-color="#0000a2"/><stop offset="0.648" stop-color="#00009f"/><stop offset="0.6488" stop-color="#00008f"/><stop offset="0.6677" stop-color="#00008f"/><stop offset="0.6684" stop-color="#00009f"/><stop offset="0.6903" stop-color="#00009f"/><stop offset="0.6911" stop-color="#0000af"/><stop offset="0.7145" stop-color="#0000af"/><stop offset="0.7153" stop-color="#0000bf"/><stop offset="0.7424" stop-color="#0000bf"/><stop offset="0.7432" stop-color="#0000cf"/><stop offset="0.8316" stop-color="#0000cf"/><stop offset="0.8323" stop-color="#0000bf"/><stop offset="0.8452" stop-color="#0000bd"/><stop offset="0.8459" stop-color="#0000b2"/><stop offset="0.8588" stop-color="#0000ae"/><stop offset="0.8595" stop-color="#0000a1"/><stop offset="0.8731" stop-color="#00009f"/><stop offset="0.8739" stop-color="#00008f"/><stop offset="0.8867" stop-color="#00008f"/><stop offset="0.8875" stop-color="#00009f"/><stop offset="0.892" stop-color="#00009e"/><stop offset="0.898" stop-color="#0000a8"/><stop offset="0.9373" stop-color="#0000fe"/><stop offset="0.9539" stop-color="#002eff"/><stop offset="0.9773" stop-color="#008cff"/><stop offset="0.9819" stop-color="#00a7ff"/><stop offset="0.9909" stop-color="#00e7ff"/><stop offset="0.9932" stop-color="#00fcff"/><stop offset="1" stop-color="#42ffbd"/></linearGradient>
<linearGradient id="r21"><stop offset="0" stop-color="#df0000"/><stop offset="0.06873" stop-color="#df0000"/><stop offset="0.06949" stop-color="#ef0000"/><stop offset="0.1148" stop-color="#ef0000"/><stop offset="0.1156" stop-color="#ff0000"/><stop offset="0.1405" stop-color="#ff0000"/><stop offset="0.1412" stop-color="#ff1000"/><stop offset="0.1616" stop-color="#ff1000"/><stop offset="0.1624" stop-color="#ff2000"/><stop offset="0.1813" stop-color="#ff2000"/><stop offset="0.182" stop-color="#ff3000"/><stop offset="0.2002" stop-color="#ff3000"/><stop offset="0.2009" stop-color="#ff4000"/><stop offset="0.219" stop-color="#ff4000"/><stop offset="0.2198" stop-color="#ff5000"/><stop offset="0.2341" stop-color="#ff5200"/><stop offset="0.2349" stop-color="#ff5e00"/><stop offset="0.2477" stop-color="#ff6200"/><stop offset="0.2485" stop-color="#ff6d00"/><stop offset="0.2621" stop-color="#ff7200"/><stop offset="0.2628" stop-color="#ff7c00"/><stop offset="0.2727" stop-color="#ff8500"/><stop offset="0.2734" stop-color="#ff8a00"/><stop offset="0.2832" stop-color="#ff9600"/><stop offset="0.284" stop-color="#ff9a00"/><stop offset="0.2931" stop-color="#ffa500"/><stop offset="0.2938" stop-color="#ffaa00"/><stop offset="0.3036" stop-color="#ffb500"/><stop offset="0.3044" stop-color="#ffba00"/><stop offset="0.3142" stop-color="#ffc400"/><stop offset="0.315" stop-color="#ffca00"/><stop offset="0.3248" stop-color="#ffd400"/><stop offset="0.3255" stop-color="#ffda00"/><stop offset="0.3353" stop-color="#ffe400"/><stop offset="0.3361" stop-color="#ffea00"/><stop offset="0.3467" stop-color="#fff500"/><stop offset="0.3474" stop-color="#fffa00"/><stop offset="0.352" stop-color="#ffff00"/><stop offset="0.3663" stop-color="#eaff15"/><stop offset="0.3671" stop-color="#e5ff1a"/><stop offset="0.3769" stop-color="#daff25"/><stop offset="0.3776" stop-color="#d5ff2a"/><stop offset="0.3875" stop-color="#c9ff36"/><stop offset="0.4094" stop-color="#a1ff5e"/><stop offset="0.4796" stop-color="#00ffff"/><stop offset="0.5128" stop-color="#00b2ff"/><stop offset="0.5453" stop-color="#0073ff"/><stop offset="0.568" stop-color="#0040ff"/><stop offset="0.5899" stop-color="#0000ff"/><stop offset="0.6261" stop-color="#0000b6"/><stop offset="0.6367" stop-color="#0000ac"/><stop offset="0.6375" stop-color="#0000a3"/><stop offset="0.6511" stop-color="#00009f"/><stop offset="0.6518" stop-color="#00008f"/><stop offset="0.673" stop-color="#00008f"/><stop offset="0.6737" stop-color="#00009f"/><stop offset="0.6964" stop-color="#00009f"/><stop offset="0.6971" stop-color="#0000af"/><stop offset="0.7228" stop-color="#0000af"/><stop offset="0.7236" stop-color="#0000bf"/><stop offset="0.75" stop-color="#0000bf"/><stop offset="0.7508" stop-color="#0000cf"/><stop offset="0.827" stop-color="#0000cf"/><stop offset="0.8278" stop-color="#0000bf"/><stop offset="0.8421" stop-color="#0000bd"/><stop offset="0.8429" stop-color="#0000b2"/><stop offset="0.8557" stop-color="#0000ae"/><stop offset="0.8565" stop-color="#0000a1"/><stop offset="0.8708" stop-color="#00009f"/><stop offset="0.8716" stop-color="#00008f"/><stop offset="0.8852" stop-color="#00008f"/><stop offset="0.886" stop-color="#00009f"/><stop offset="0.8905" stop-color="#00009e"/><stop offset="0.8965" stop-color="#0000a8"/><stop offset="0.9366" stop-color="#0000fe"/><stop offset="0.9539" stop-color="#0030ff"/><stop offset="0.9773" stop-color="#008eff"/><stop offset="0.9819" stop-color="#00a8ff"/><stop offset="0.9909" stop-color="#00e8ff"/><stop offset="0.9932" stop-color="#00feff"/><stop offset="1" stop-color="#42ffbd"/></linearGradient>
<linearGradient id="r22"><stop offset="0" stop-color="#cf0000"/><stop offset="0.001511" stop-color="#cf0000"/><stop offset="0.002266" stop-color="#df0000"/><stop offset="0.08459" stop-color="#df0000"/><stop offset="0.08535" stop-color="#ef0000"/><stop offset="0.1224" stop-color="#ef0000"/><stop offset="0.1231" stop-color="#ff0000"/><stop offset="0.1465" stop-color="#ff0000"/><stop offset="0.1473" stop-color="#ff1000"/><stop offset="0.1677" stop-color="#ff1000"/><stop offset="0.1684" stop-color="#ff2000"/><stop offset="0.1873" stop-color="#ff2000"/><stop offset="0.1881" stop-color="#ff3000"/><stop offset="0.2062" stop-color="#ff3000"/><stop offset="0.2069" stop-color="#ff4000"/><stop offset="0.2243" stop-color="#ff4000"/><stop offset="0.2251" stop-color="#ff4f00"/><stop offset="0.2387" stop-color="#ff5200"/><stop offset="0.2394" stop-color="#ff5e00"/><stop offset="0.2523" stop-color="#ff6100"/><stop offset="0.253" stop-color="#ff6e00"/><stop offset="0.2644" stop-color="#ff7200"/><stop offset="0.2659" stop-color="#ff7500"/><stop offset="0.2666" stop-color="#ff7a00"/><stop offset="0.2764" stop-color="#ff8500"/><stop offset="0.2772" stop-color="#ff8a00"/><stop offset="0.2863" stop-color="#ff9500"/><stop offset="0.287" stop-color="#ff9900"/><stop offset="0.2968" stop-color="#ffa500"/><stop offset="0.2976" stop-color="#ffaa00"/><stop offset="0.3074" stop-color="#ffb500"/><stop offset="0.3082" stop-color="#ffba00"/><stop offset="0.318" stop-color="#ffc400"/><stop offset="0.3187" stop-color="#ffca00"/><stop offset="0.3285" stop-color="#ffd400"/><stop offset="0.3293" stop-color="#ffda00"/><stop offset="0.3391" stop-color="#ffe400"/><stop offset="0.3399" stop-color="#ffea00"/><stop offset="0.3557" stop-color="#ffff00"/><stop offset="0.3701" stop-color="#eaff15"/><stop offset="0.3708" stop-color="#e5ff1a"/><stop offset="0.3807" stop-color="#daff25"/><stop offset="0.3814" stop-color="#d5ff2a"/><stop offset="0.3912" stop-color="#c8ff37"/><stop offset="0.4101" stop-color="#a5ff5a"/><stop offset="0.4826" stop-color="#00feff"/><stop offset="0.5128" stop-color="#00b7ff"/><stop offset="0.5453" stop-color="#0078ff"/><stop offset="0.568" stop-color="#0045ff"/><stop offset="0.5921" stop-color="#0000ff"/><stop offset="0.6148" stop-color="#0000d0"/><stop offset="0.6292" stop-color="#0000ba"/><stop offset="0.6299" stop-color="#0000b4"/><stop offset="0.6405" stop-color="#0000ac"/><stop offset="0.6412" stop-color="#0000a3"/><stop offset="0.6548" stop-color="#00009f"/><stop offset="0.6556" stop-color="#00008f"/><stop offset="0.6775" stop-color="#00008f"/><stop offset="0.6782" stop-color="#00009f"/><stop offset="0.7032" stop-color="#00009f"/><stop offset="0.7039" stop-color="#0000af"/><stop offset="0.7319" stop-color="#0000af"/><stop offset="0.7326" stop-color="#0000bf"/><stop offset="0.7583" stop-color="#0000bf"/><stop offset="0.7591" stop-color="#0000cf"/><stop offset="0.8218" stop-color="#0000cf"/><stop offset="0.8225" stop-color="#0000bf"/><stop offset="0.8391" stop-color="#0000bd"/><stop offset="0.8399" stop-color="#0000b2"/><stop offset="0.8527" stop-color="#0000ae"/><stop offset="0.8535" stop-color="#0000a1"/><stop offset="0.8693" stop-color="#00009f"/><stop offset="0.8701" stop-color="#00008f"/><stop offset="0.8829" stop-color="#00008f"/><stop offset="0.8837" stop-color="#00009f"/><stop offset="0.892" stop-color="#0000a2"/><stop offset="0.9358" stop-color="#0000fe"/><stop offset="0.9539" stop-color="#0032ff"/><stop offset="0.9773" stop-color="#0090ff"/><stop offset="0.9819" stop-color="#00aaff"/><stop offset="0.9909" stop-color="#00eaff"/><stop offset="0.9932" stop-color="#00ffff"/><stop offset="1" stop-color="#43ffbc"/></linearGradient>
<linearGradient id="r23"><stop offset="0" stop-color="#cf0000"/><stop offset="0.02568" stop-color="#cf0000"/><stop offset="0.02644" stop-color="#df0000"/><stop offset="0.1005" stop-color="#df0000"/><stop offset="0.1012" stop-color="#ef0000"/><stop offset="0.1299" stop-color="#ef0000"/><stop offset="0.1307" stop-color="#ff0000"/><stop offset="0.1526" stop-color="#ff0000"/><stop offset="0.1533" stop-color="#ff1000"/><stop offset="0.173" stop-color="#ff1000"/><stop offset="0.1737" stop-color="#ff2000"/><stop offset="0.1926" stop-color="#ff2000"/><stop offset="0.1934" stop-color="#ff3000"/><stop offset="0.2115" stop-color="#ff3000"/><stop offset="0.2122" stop-color="#ff4000"/><stop offset="0.2289" stop-color="#ff4100"/><stop offset="0.2296" stop-color="#ff4e00"/><stop offset="0.2432" stop-color="#ff5100"/><stop offset="0.244" stop-color="#ff5e00"/><stop offset="0.2576" stop-color="#ff6100"/><stop offset="0.2583" stop-color="#ff6f00"/><stop offset="0.2636" stop-color="#ff6f00"/><stop offset="0.2696" stop-color="#ff7500"/><stop offset="0.2704" stop-color="#ff7a00"/><stop offset="0.2795" stop-color="#ff8500"/><stop offset="0.2802" stop-color="#ff8900"/><stop offset="0.2998" stop-color="#ffa400"/><stop offset="0.3006" stop-color="#ffaa00"/><stop offset="0.3112" stop-color="#ffb500"/><stop offset="0.3119" stop-color="#ffba00"/><stop offset="0.3218" stop-color="#ffc500"/><stop offset="0.3225" stop-color="#ffca00"/><stop offset="0.3323" stop-color="#ffd400"/><stop offset="0.3331" stop-color="#ffda00"/><stop offset="0.3429" stop-color="#ffe400"/><stop offset="0.3437" stop-color="#ffea00"/><stop offset="0.3595" stop-color="#feff01"/><stop offset="0.364" stop-color="#f9ff06"/><stop offset="0.3648" stop-color="#f4ff0b"/><stop offset="0.3746" stop-color="#eaff15"/><stop offset="0.3754" stop-color="#e4ff1b"/><stop offset="0.3852" stop-color="#d9ff26"/><stop offset="0.386" stop-color="#d5ff2a"/><stop offset="0.395" stop-color="#c8ff37"/><stop offset="0.4101" stop-color="#abff54"/><stop offset="0.4849" stop-color="#00ffff"/><stop offset="0.5128" stop-color="#00bdff"/><stop offset="0.5453" stop-color="#007eff"/><stop offset="0.568" stop-color="#004aff"/><stop offset="0.5899" stop-color="#000bff"/><stop offset="0.5952" stop-color="#0000fe"/><stop offset="0.6148" stop-color="#0000d5"/><stop offset="0.6269" stop-color="#0000c0"/><stop offset="0.6322" stop-color="#0000bb"/><stop offset="0.6329" stop-color="#0000b4"/><stop offset="0.6443" stop-color="#0000ac"/><stop offset="0.645" stop-color="#0000a3"/><stop offset="0.6594" stop-color="#00009f"/><stop offset="0.6601" stop-color="#00008f"/><stop offset="0.6828" stop-color="#00008f"/><stop offset="0.6835" stop-color="#00009f"/><stop offset="0.7107" stop-color="#00009f"/><stop offset="0.7115" stop-color="#0000af"/><stop offset="0.7394" stop-color="#0000af"/><stop offset="0.7402" stop-color="#0000bf"/><stop offset="0.7795" stop-color="#0000bf"/><stop offset="0.7802" stop-color="#0000cf"/><stop offset="0.8127" stop-color="#0000cf"/><stop offset="0.8134" stop-color="#0000bf"/><stop offset="0.8346" stop-color="#0000bf"/><stop offset="0.8369" stop-color="#0000bd"/><stop offset="0.8376" stop-color="#0000b2"/><stop offset="0.8505" stop-color="#0000ae"/><stop offset="0.8512" stop-color="#0000a1"/><stop offset="0.8671" stop-color="#00009f"/><stop offset="0.8678" stop-color="#00008f"/><stop offset="0.8814" stop-color="#00008f"/><stop offset="0.8822" stop-color="#00009f"/><stop offset="0.8912" stop-color="#0000a2"/><stop offset="0.935" stop-color="#0000fe"/><stop offset="0.9539" stop-color="#0034ff"/><stop offset="0.9773" stop-color="#0092ff"/><stop offset="0.9819" stop-color="#00acff"/><stop offset="0.9909" stop-color="#00ecff"/><stop offset="0.9924" stop-color="#00f9ff"/><stop offset="0.9932" stop-color="#02fffd"/><stop offset="1" stop-color="#44ffbb"/></linearGradient>
<linearGradient id="r24"><stop offset="0" stop-color="#cf0000"/><stop offset="0.04985" stop-color="#cf0000"/><stop offset="0.0506" stop-color="#df0000"/><stop offset="0.111" stop-color="#df0000"/><stop offset="0.1118" stop-color="#ef0000"/><stop offset="0.1375" stop-color="#ef0000"/><stop offset="0.1382" stop-color="#ff0000"/><stop offset="0.1586" stop-color="#ff0000"/><stop offset="0.1594" stop-color="#ff1000"/><stop offset="0.179" stop-color="#ff1000"/><stop offset="0.1798" stop-color="#ff2000"/><stop offset="0.1986" stop-color="#ff2000"/><stop offset="0.1994" stop-color="#ff3000"/><stop offset="0.2175" stop-color="#ff3000"/><stop offset="0.2183" stop-color="#ff4000"/><stop offset="0.2334" stop-color="#ff4100"/><stop offset="0.2341" stop-color="#ff4e00"/><stop offset="0.2477" stop-color="#ff5100"/><stop offset="0.2485" stop-color="#ff5e00"/><stop offset="0.2628" stop-color="#ff6300"/><stop offset="0.2636" stop-color="#ff6c00"/><stop offset="0.2734" stop-color="#ff7600"/><stop offset="0.2742" stop-color="#ff7a00"/><stop offset="0.2832" stop-color="#ff8500"/><stop offset="0.284" stop-color="#ff8a00"/><stop offset="0.2931" stop-color="#ff9500"/><stop offset="0.2938" stop-color="#ff9900"/><stop offset="0.3036" stop-color="#ffa400"/><stop offset="0.3044" stop-color="#ffaa00"/><stop offset="0.3142" stop-color="#ffb400"/><stop offset="0.315" stop-color="#ffba00"/><stop offset="0.3255" stop-color="#ffc500"/><stop offset="0.3263" stop-color="#ffcb00"/><stop offset="0.3361" stop-color="#ffd400"/><stop offset="0.3369" stop-color="#ffda00"/><stop offset="0.3467" stop-color="#ffe400"/><stop offset="0.3474" stop-color="#ffe900"/><stop offset="0.3633" stop-color="#feff01"/><stop offset="0.3671" stop-color="#faff05"/><stop offset="0.3678" stop-color="#f5ff0a"/><stop offset="0.3784" stop-color="#eaff15"/><stop offset="0.3792" stop-color="#e4ff1b"/><stop offset="0.3882" stop-color="#d9ff26"/><stop offset="0.4101" stop-color="#b2ff4d"/><stop offset="0.4328" stop-color="#80ff7f"/><stop offset="0.4872" stop-color="#00ffff"/><stop offset="0.5128" stop-color="#00c2ff"/><stop offset="0.5453" stop-color="#0083ff"/><stop offset="0.568" stop-color="#004fff"/><stop offset="0.5899" stop-color="#0010ff"/><stop offset="0.5974" stop-color="#0000ff"/><stop offset="0.6269" stop-color="#0000c4"/><stop offset="0.636" stop-color="#0000bb"/><stop offset="0.6367" stop-color="#0000b4"/><stop offset="0.6473" stop-color="#0000ac"/><stop offset="0.648" stop-color="#0000a3"/><stop offset="0.6639" stop-color="#00009f"/><stop offset="0.6647" stop-color="#00008f"/><stop offset="0.6888" stop-color="#00008f"/><stop offset="0.6896" stop-color="#00009f"/><stop offset="0.719" stop-color="#00009f"/><stop offset="0.7198" stop-color="#0000af"/><stop offset="0.747" stop-color="#0000af"/><stop offset="0.7477" stop-color="#0000bf"/><stop offset="0.8331" stop-color="#0000bf"/><stop offset="0.8338" stop-color="#0000bf"/><stop offset="0.8346" stop-color="#0000b0"/><stop offset="0.8474" stop-color="#0000ae"/><stop offset="0.8482" stop-color="#0000a1"/><stop offset="0.864" stop-color="#00009f"/><stop offset="0.8648" stop-color="#00008f"/><stop offset="0.8792" stop-color="#00008f"/><stop offset="0.8799" stop-color="#00009f"/><stop offset="0.8852" stop-color="#00009f"/><stop offset="0.8905" stop-color="#0000a3"/><stop offset="0.9343" stop-color="#0000ff"/><stop offset="0.9539" stop-color="#0037ff"/><stop offset="0.9773" stop-color="#0094ff"/><stop offset="0.9819" stop-color="#00aeff"/><stop offset="0.9909" stop-color="#00edff"/><stop offset="0.9924" stop-color="#00fbff"/><stop offset="0.9932" stop-color="#03fffc"/><stop offset="1" stop-color="#44ffbb"/></linearGradient>
<linearGradient id="r25"><stop offset="0" stop-color="#cf0000"/><stop offset="0.07326" stop-color="#cf0000"/><stop offset="0.07402" stop-color="#df0000"/><stop offset="0.1186" stop-color="#df0000"/><stop offset="0.1193" stop-color="#ef0000"/><stop offset="0.1435" stop-color="#ef0000"/><stop offset="0.1443" stop-color="#ff0000"/><stop offset="0.1647" stop-color="#ff0000"/><stop offset="0.1654" stop-color="#ff1000"/><stop offset="0.185" stop-color="#ff1000"/><stop offset="0.1858" stop-color="#ff2000"/><stop offset="0.2039" stop-color="#ff2000"/><stop offset="0.2047" stop-color="#ff3000"/><stop offset="0.2228" stop-color="#ff3000"/><stop offset="0.2236" stop-color="#ff4000"/><stop offset="0.2379" stop-color="#ff4100"/><stop offset="0.2387" stop-color="#ff4e00"/><stop offset="0.2523" stop-color="#ff5100"/><stop offset="0.253" stop-color="#ff5e00"/><stop offset="0.2644" stop-color="#ff6200"/><stop offset="0.2674" stop-color="#ff6a00"/><stop offset="0.2863" stop-color="#ff8500"/><stop offset="0.287" stop-color="#ff8900"/><stop offset="0.2968" stop-color="#ff9500"/><stop offset="0.2976" stop-color="#ff9a00"/><stop offset="0.3074" stop-color="#ffa500"/><stop offset="0.3082" stop-color="#ffaa00"/><stop offset="0.318" stop-color="#ffb400"/><stop offset="0.3187" stop-color="#ffba00"/><stop offset="0.3285" stop-color="#ffc400"/><stop offset="0.3293" stop-color="#ffca00"/><stop offset="0.3399" stop-color="#ffd400"/><stop offset="0.3406" stop-color="#ffdb00"/><stop offset="0.3505" stop-color="#ffe500"/><stop offset="0.3512" stop-color="#ffea00"/><stop offset="0.3663" stop-color="#ffff00"/><stop offset="0.3708" stop-color="#faff05"/><stop offset="0.3716" stop-color="#f4ff0b"/><stop offset="0.3822" stop-color="#eaff15"/><stop offset="0.3829" stop-color="#e4ff1b"/><stop offset="0.392" stop-color="#d9ff26"/><stop offset="0.4101" stop-color="#b7ff48"/><stop offset="0.4328" stop-color="#86ff79"/><stop offset="0.4894" stop-color="#00ffff"/><stop offset="0.5128" stop-color="#00c7ff"/><stop offset="0.5453" stop-color="#0088ff"/><stop offset="0.568" stop-color="#0055ff"/><stop offset="0.5899" stop-color="#0016ff"/><stop offset="0.6005" stop-color="#0000fe"/><stop offset="0.6148" stop-color="#0000e0"/><stop offset="0.6284" stop-color="#0000ca"/><stop offset="0.6292" stop-color="#0000c5"/><stop offset="0.6397" stop-color="#0000bb"/><stop offset="0.6405" stop-color="#0000b4"/><stop offset="0.6511" stop-color="#0000ac"/><stop offset="0.6518" stop-color="#0000a2"/><stop offset="0.6692" stop-color="#00009f"/><stop offset="0.6699" stop-color="#00008f"/><stop offset="0.6956" stop-color="#00008f"/><stop offset="0.6964" stop-color="#00009f"/><stop offset="0.7281" stop-color="#00009f"/><stop offset="0.7289" stop-color="#0000af"/><stop offset="0.7553" stop-color="#0000af"/><stop offset="0.756" stop-color="#0000bf"/><stop offset="0.8301" stop-color="#0000bf"/><stop offset="0.8308" stop-color="#0000af"/><stop offset="0.8444" stop-color="#0000ae"/><stop offset="0.8452" stop-color="#0000a1"/><stop offset="0.8618" stop-color="#00009f"/><stop offset="0.8625" stop-color="#00008f"/><stop offset="0.8776" stop-color="#00008f"/><stop offset="0.8784" stop-color="#00009f"/><stop offset="0.8844" stop-color="#00009f"/><stop offset="0.8905" stop-color="#0000a5"/><stop offset="0.9328" stop-color="#0000fe"/><stop offset="0.9358" stop-color="#0005ff"/><stop offset="0.9539" stop-color="#0039ff"/><stop offset="0.9773" stop-color="#0096ff"/><stop offset="0.9819" stop-color="#00b0ff"/><stop offset="0.9909" stop-color="#00efff"/><stop offset="0.9924" stop-color="#00fcff"/><stop offset="1" stop-color="#45ffba"/></linearGradient>
<linearGradient id="r26"><stop offset="0" stop-color="#bf0000"/><stop offset="0.0007553" stop-color="#cf0000"/><stop offset="0.08912" stop-color="#cf0000"/><stop offset="0.08988" stop-color="#df0000"/><stop offset="0.1254" stop-color="#df0000"/><stop offset="0.1261" stop-color="#ef0000"/><stop offset="0.1495" stop-color="#ef0000"/><stop offset="0.1503" stop-color="#ff0000"/><stop offset="0.1707" stop-color="#ff0000"/><stop offset="0.1715" stop-color="#ff1000"/><stop offset="0.1903" stop-color="#ff1000"/><stop offset="0.1911" stop-color="#ff2000"/><stop offset="0.2092" stop-color="#ff2000"/><stop offset="0.21" stop-color="#ff3000"/><stop offset="0.2281" stop-color="#ff3100"/><stop offset="0.2289" stop-color="#ff3f00"/><stop offset="0.2424" stop-color="#ff4100"/><stop offset="0.2432" stop-color="#ff4e00"/><stop offset="0.2576" stop-color="#ff5000"/><stop offset="0.2583" stop-color="#ff5f00"/><stop offset="0.2636" stop-color="#ff5f00"/><stop offset="0.2696" stop-color="#ff6500"/><stop offset="0.2704" stop-color="#ff6a00"/><stop offset="0.2795" stop-color="#ff7500"/><stop offset="0.2802" stop-color="#ff7900"/><stop offset="0.2998" stop-color="#ff9500"/><stop offset="0.3006" stop-color="#ff9a00"/><stop offset="0.3104" stop-color="#ffa400"/><stop offset="0.3112" stop-color="#ffaa00"/><stop offset="0.3218" stop-color="#ffb500"/><stop offset="0.3225" stop-color="#ffbb00"/><stop offset="0.3323" stop-color="#ffc400"/><stop offset="0.3331" stop-color="#ffca00"/><stop offset="0.3429" stop-color="#ffd400"/><stop offset="0.3437" stop-color="#ffda00"/><stop offset="0.3535" stop-color="#ffe400"/><stop offset="0.3542" stop-color="#ffe900"/><stop offset="0.3701" stop-color="#ffff00"/><stop offset="0.3746" stop-color="#faff05"/><stop offset="0.3754" stop-color="#f4ff0b"/><stop offset="0.386" stop-color="#e9ff16"/><stop offset="0.3867" stop-color="#e5ff1a"/><stop offset="0.3958" stop-color="#d9ff26"/><stop offset="0.4101" stop-color="#bdff42"/><stop offset="0.4328" stop-color="#8cff73"/><stop offset="0.4924" stop-color="#00feff"/><stop offset="0.5128" stop-color="#00ccff"/><stop offset="0.5453" stop-color="#008eff"/><stop offset="0.568" stop-color="#005aff"/><stop offset="0.5899" stop-color="#001cff"/><stop offset="0.6027" stop-color="#0000ff"/><stop offset="0.6148" stop-color="#0000e5"/><stop offset="0.6322" stop-color="#0000ca"/><stop offset="0.6329" stop-color="#0000c4"/><stop offset="0.6427" stop-color="#0000bb"/><stop offset="0.6435" stop-color="#0000b4"/><stop offset="0.6548" stop-color="#0000ad"/><stop offset="0.6556" stop-color="#0000a2"/><stop offset="0.6737" stop-color="#00009f"/><stop offset="0.6745" stop-color="#00008f"/><stop offset="0.7017" stop-color="#00008f"/><stop offset="0.7024" stop-color="#00009f"/><stop offset="0.7356" stop-color="#00009f"/><stop offset="0.7364" stop-color="#0000af"/><stop offset="0.7644" stop-color="#0000af"/><stop offset="0.7651" stop-color="#0000bf"/><stop offset="0.8248" stop-color="#0000bf"/><stop offset="0.8255" stop-color="#0000af"/><stop offset="0.8421" stop-color="#0000ae"/><stop offset="0.8429" stop-color="#0000a1"/><stop offset="0.8588" stop-color="#00009f"/><stop offset="0.8595" stop-color="#00008f"/><stop offset="0.8754" stop-color="#00008f"/><stop offset="0.8761" stop-color="#00009f"/><stop offset="0.8822" stop-color="#00009f"/><stop offset="0.8882" stop-color="#0000a4"/><stop offset="0.889" stop-color="#0000aa"/><stop offset="0.9033" stop-color="#0000c1"/><stop offset="0.932" stop-color="#0000fe"/><stop offset="0.9358" stop-color="#0007ff"/><stop offset="0.9539" stop-color="#003bff"/><stop offset="0.9773" stop-color="#0098ff"/><stop offset="0.9819" stop-color="#00b1ff"/><stop offset="0.9924" stop-color="#00feff"/><stop offset="1" stop-color="#45ffba"/></linearGradient>
<linearGradient id="r27"><stop offset="0" stop-color="#bf0000"/><stop offset="0.02341" stop-color="#bf0000"/><stop offset="0.02417" stop-color="#cf0000"/><stop offset="0.1057" stop-color="#cf0000"/><stop offset="0.1065" stop-color="#df0000"/><stop offset="0.1322" stop-color="#df0000"/><stop offset="0.1329" stop-color="#ef0000"/><stop offset="0.1548" stop-color="#ef0000"/><stop offset="0.1556" stop-color="#ff0000"/><stop offset="0.176" stop-color="#ff0000"/><stop offset="0.1767" stop-color="#ff1000"/><stop offset="0.1956" stop-color="#ff1000"/><stop offset="0.1964" stop-color="#ff2000"/><stop offset="0.2145" stop-color="#ff2000"/><stop offset="0.2153" stop-color="#ff3000"/><stop offset="0.2319" stop-color="#ff3100"/><stop offset="0.2326" stop-color="#ff3f00"/><stop offset="0.247" stop-color="#ff4100"/><stop offset="0.2477" stop-color="#ff4f00"/><stop offset="0.2628" stop-color="#ff5300"/><stop offset="0.2636" stop-color="#ff5c00"/><stop offset="0.2727" stop-color="#ff6500"/><stop offset="0.2734" stop-color="#ff6900"/><stop offset="0.2832" stop-color="#ff7600"/><stop offset="0.284" stop-color="#ff7a00"/><stop offset="0.2931" stop-color="#ff8500"/><stop offset="0.2938" stop-color="#ff8a00"/><stop offset="0.3036" stop-color="#ff9500"/><stop offset="0.3044" stop-color="#ff9b00"/><stop offset="0.3142" stop-color="#ffa400"/><stop offset="0.315" stop-color="#ffaa00"/><stop offset="0.3248" stop-color="#ffb400"/><stop offset="0.3255" stop-color="#ffba00"/><stop offset="0.3361" stop-color="#ffc400"/><stop offset="0.3369" stop-color="#ffcb00"/><stop offset="0.3467" stop-color="#ffd400"/><stop offset="0.3474" stop-color="#ffda00"/><stop offset="0.3573" stop-color="#ffe500"/><stop offset="0.358" stop-color="#ffea00"/><stop offset="0.3739" stop-color="#ffff00"/><stop offset="0.3784" stop-color="#fbff04"/><stop offset="0.3792" stop-color="#f4ff0b"/><stop offset="0.389" stop-color="#e9ff16"/><stop offset="0.4101" stop-color="#c3ff3c"/><stop offset="0.4328" stop-color="#92ff6d"/><stop offset="0.494" stop-color="#00ffff"/><stop offset="0.5128" stop-color="#00d1ff"/><stop offset="0.5461" stop-color="#0091ff"/><stop offset="0.5687" stop-color="#005dff"/><stop offset="0.5899" stop-color="#0021ff"/><stop offset="0.605" stop-color="#0000ff"/><stop offset="0.6269" stop-color="#0000d4"/><stop offset="0.636" stop-color="#0000ca"/><stop offset="0.6367" stop-color="#0000c4"/><stop offset="0.6465" stop-color="#0000bb"/><stop offset="0.6473" stop-color="#0000b4"/><stop offset="0.6586" stop-color="#0000ae"/><stop offset="0.6594" stop-color="#0000a1"/><stop offset="0.679" stop-color="#00009f"/><stop offset="0.6798" stop-color="#00008f"/><stop offset="0.7092" stop-color="#00008f"/><stop offset="0.71" stop-color="#00009f"/><stop offset="0.7432" stop-color="#00009f"/><stop offset="0.744" stop-color="#0000af"/><stop offset="0.7832" stop-color="#0000af"/><stop offset="0.784" stop-color="#0000bf"/><stop offset="0.8172" stop-color="#0000bf"/><stop offset="0.818" stop-color="#0000af"/><stop offset="0.8391" stop-color="#0000ae"/><stop offset="0.8399" stop-color="#0000a1"/><stop offset="0.8557" stop-color="#00009f"/><stop offset="0.8565" stop-color="#00008f"/><stop offset="0.8731" stop-color="#00008f"/><stop offset="0.8739" stop-color="#00009f"/><stop offset="0.8799" stop-color="#00009f"/><stop offset="0.8867" stop-color="#0000a4"/><stop offset="0.8875" stop-color="#0000ab"/><stop offset="0.892" stop-color="#0000af"/><stop offset="0.9033" stop-color="#0000c4"/><stop offset="0.9313" stop-color="#0000ff"/><stop offset="0.9358" stop-color="#0009ff"/><stop offset="0.9539" stop-color="#003dff"/><stop offset="0.9773" stop-color="#009aff"/><stop offset="0.9819" stop-color="#00b3ff"/><stop offset="0.9924" stop-color="#00ffff"/><stop offset="1" stop-color="#46ffb9"/></linearGradient>
<linearGradient id="r28"><stop offset="0" stop-color="#bf0000"/><stop offset="0.04834" stop-color="#bf0000"/><stop offset="0.04909" stop-color="#cf0000"/><stop offset="0.1133" stop-color="#cf0000"/><stop offset="0.114" stop-color="#df0000"/><stop offset="0.139" stop-color="#df0000"/><stop offset="0.1397" stop-color="#ef0000"/><stop offset="0.1609" stop-color="#ef0000"/><stop offset="0.1616" stop-color="#ff0000"/><stop offset="0.1813" stop-color="#ff0000"/><stop offset="0.182" stop-color="#ff1000"/><stop offset="0.2009" stop-color="#ff1000"/><stop offset="0.2017" stop-color="#ff2000"/><stop offset="0.2205" stop-color="#ff2000"/><stop offset="0.2213" stop-color="#ff3000"/><stop offset="0.2364" stop-color="#ff3100"/><stop offset="0.2372" stop-color="#ff3f00"/><stop offset="0.2515" stop-color="#ff4100"/><stop offset="0.2523" stop-color="#ff4f00"/><stop offset="0.2644" stop-color="#ff5200"/><stop offset="0.2666" stop-color="#ff5a00"/><stop offset="0.2863" stop-color="#ff7600"/><stop offset="0.287" stop-color="#ff7a00"/><stop offset="0.2961" stop-color="#ff8500"/><stop offset="0.2968" stop-color="#ff8900"/><stop offset="0.3066" stop-color="#ff9400"/><stop offset="0.3074" stop-color="#ff9a00"/><stop offset="0.3172" stop-color="#ffa400"/><stop offset="0.318" stop-color="#ffaa00"/><stop offset="0.3285" stop-color="#ffb400"/><stop offset="0.3293" stop-color="#ffbb00"/><stop offset="0.3391" stop-color="#ffc400"/><stop offset="0.3399" stop-color="#ffca00"/><stop offset="0.3497" stop-color="#ffd400"/><stop offset="0.3505" stop-color="#ffd900"/><stop offset="0.3603" stop-color="#ffe400"/><stop offset="0.361" stop-color="#ffe900"/><stop offset="0.3708" stop-color="#fff300"/><stop offset="0.3716" stop-color="#fffa00"/><stop offset="0.3776" stop-color="#feff01"/><stop offset="0.3822" stop-color="#fbff04"/><stop offset="0.3829" stop-color="#f4ff0b"/><stop offset="0.3927" stop-color="#e9ff16"/><stop offset="0.3935" stop-color="#e5ff1a"/><stop offset="0.4011" stop-color="#daff25"/><stop offset="0.4328" stop-color="#98ff67"/><stop offset="0.4962" stop-color="#00ffff"/><stop offset="0.5128" stop-color="#00d7ff"/><stop offset="0.5461" stop-color="#0096ff"/><stop offset="0.5687" stop-color="#0062ff"/><stop offset="0.5899" stop-color="#0027ff"/><stop offset="0.608" stop-color="#0000fe"/><stop offset="0.6292" stop-color="#0000d5"/><stop offset="0.639" stop-color="#0000ca"/><stop offset="0.6397" stop-color="#0000c4"/><stop offset="0.6503" stop-color="#0000bb"/><stop offset="0.6511" stop-color="#0000b3"/><stop offset="0.6631" stop-color="#0000af"/><stop offset="0.6639" stop-color="#00009f"/><stop offset="0.6835" stop-color="#00009f"/><stop offset="0.6843" stop-color="#00008f"/><stop offset="0.7175" stop-color="#00008f"/><stop offset="0.7183" stop-color="#00009f"/><stop offset="0.7508" stop-color="#00009f"/><stop offset="0.7515" stop-color="#0000af"/><stop offset="0.7998" stop-color="#0000af"/><stop offset="0.8006" stop-color="#0000bf"/><stop offset="0.8051" stop-color="#0000bf"/><stop offset="0.8059" stop-color="#0000af"/><stop offset="0.8346" stop-color="#0000af"/><stop offset="0.8369" stop-color="#0000ae"/><stop offset="0.8376" stop-color="#0000a1"/><stop offset="0.8527" stop-color="#00009f"/><stop offset="0.8535" stop-color="#00008f"/><stop offset="0.8708" stop-color="#00008f"/><stop offset="0.8716" stop-color="#00009f"/><stop offset="0.8844" stop-color="#0000a3"/><stop offset="0.8852" stop-color="#0000ab"/><stop offset="0.8912" stop-color="#0000b0"/><stop offset="0.9033" stop-color="#0000c6"/><stop offset="0.9305" stop-color="#0000ff"/><stop offset="0.9358" stop-color="#000bff"/><stop offset="0.9539" stop-color="#0040ff"/><stop offset="0.9773" stop-color="#009cff"/><stop offset="0.9819" stop-color="#00b5ff"/><stop offset="0.9917" stop-color="#00faff"/><stop offset="0.9924" stop-color="#02fffd"/><stop offset="1" stop-color="#47ffb8"/></linearGradient>
<linearGradient id="r29"><stop offset="0" stop-color="#bf0000"/><stop offset="0.07175" stop-color="#bf0000"/><stop offset="0.07251" stop-color="#cf0000"/><stop offset="0.1193" stop-color="#cf0000"/><stop offset="0.1201" stop-color="#df0000"/><stop offset="0.1443" stop-color="#df0000"/><stop offset="0.145" stop-color="#ef0000"/><stop offset="0.1662" stop-color="#ef0000"/><stop offset="0.1669" stop-color="#ff0000"/><stop offset="0.1866" stop-color="#ff0000"/><stop offset="0.1873" stop-color="#ff1000"/><stop offset="0.2062" stop-color="#ff1000"/><stop offset="0.2069" stop-color="#ff2000"/><stop offset="0.2251" stop-color="#ff2000"/><stop offset="0.2258" stop-color="#ff3000"/><stop offset="0.2409" stop-color="#ff3100"/><stop offset="0.2417" stop-color="#ff3f00"/><stop offset="0.2568" stop-color="#ff4000"/><stop offset="0.2576" stop-color="#ff5000"/><stop offset="0.2636" stop-color="#ff4f00"/><stop offset="0.2689" stop-color="#ff5500"/><stop offset="0.2696" stop-color="#ff5900"/><stop offset="0.2893" stop-color="#ff7600"/><stop offset="0.29" stop-color="#ff7a00"/><stop offset="0.2991" stop-color="#ff8500"/><stop offset="0.2998" stop-color="#ff8a00"/><stop offset="0.3097" stop-color="#ff9400"/><stop offset="0.3104" stop-color="#ff9a00"/><stop offset="0.321" stop-color="#ffa500"/><stop offset="0.3218" stop-color="#ffab00"/><stop offset="0.3316" stop-color="#ffb400"/><stop offset="0.3323" stop-color="#ffbb00"/><stop offset="0.3429" stop-color="#ffc400"/><stop offset="0.3437" stop-color="#ffcb00"/><stop offset="0.3535" stop-color="#ffd500"/><stop offset="0.3542" stop-color="#ffda00"/><stop offset="0.364" stop-color="#ffe500"/><stop offset="0.3648" stop-color="#ffea00"/><stop offset="0.3746" stop-color="#fff300"/><stop offset="0.3754" stop-color="#fffb00"/><stop offset="0.3814" stop-color="#feff01"/><stop offset="0.4011" stop-color="#e0ff1f"/><stop offset="0.4328" stop-color="#9eff61"/><stop offset="0.4985" stop-color="#00ffff"/><stop offset="0.5128" stop-color="#00dcff"/><stop offset="0.5461" stop-color="#009cff"/><stop offset="0.5687" stop-color="#0067ff"/><stop offset="0.5899" stop-color="#002cff"/><stop offset="0.6103" stop-color="#0000fe"/><stop offset="0.6261" stop-color="#0000e1"/><stop offset="0.6322" stop-color="#0000da"/><stop offset="0.6329" stop-color="#0000d4"/><stop offset="0.6427" stop-color="#0000ca"/><stop offset="0.6435" stop-color="#0000c4"/><stop offset="0.6541" stop-color="#0000bc"/><stop offset="0.6548" stop-color="#0000b2"/><stop offset="0.6684" stop-color="#0000af"/><stop offset="0.6692" stop-color="#00009f"/><stop offset="0.6903" stop-color="#00009f"/><stop offset="0.6911" stop-color="#00008f"/><stop offset="0.7258" stop-color="#00008f"/><stop offset="0.7266" stop-color="#00009f"/><stop offset="0.7576" stop-color="#00009f"/><stop offset="0.7583" stop-color="#0000af"/><stop offset="0.8338" stop-color="#0000af"/><stop offset="0.8346" stop-color="#00009f"/><stop offset="0.8505" stop-color="#00009f"/><stop offset="0.8512" stop-color="#00008f"/><stop offset="0.8686" stop-color="#00008f"/><stop offset="0.8693" stop-color="#00009f"/><stop offset="0.8822" stop-color="#0000a3"/><stop offset="0.8829" stop-color="#0000ab"/><stop offset="0.892" stop-color="#0000b4"/><stop offset="0.929" stop-color="#0000fe"/><stop offset="0.9366" stop-color="#000fff"/><stop offset="0.9539" stop-color="#0042ff"/><stop offset="0.9592" stop-color="#0055ff"/><stop offset="0.9773" stop-color="#009eff"/><stop offset="0.9819" stop-color="#00b7ff"/><stop offset="0.9917" stop-color="#00fcff"/><stop offset="0.9924" stop-color="#04fffb"/><stop offset="1" stop-color="#47ffb8"/></linearGradient>
<linearGradient id="r30"><stop offset="0" stop-color="#bf0000"/><stop offset="0.08912" stop-color="#bf0000"/><stop offset="0.08988" stop-color="#cf0000"/><stop offset="0.1261" stop-color="#cf0000"/><stop offset="0.1269" stop-color="#df0000"/><stop offset="0.1503" stop-color="#df0000"/><stop offset="0.1511" stop-color="#ef0000"/><stop offset="0.1715" stop-color="#ef0000"/><stop offset="0.1722" stop-color="#ff0000"/><stop offset="0.1918" stop-color="#ff0000"/><stop offset="0.1926" stop-color="#ff1000"/><stop offset="0.2115" stop-color="#ff1000"/><stop offset="0.2122" stop-color="#ff2000"/><stop offset="0.2296" stop-color="#ff2000"/><stop offset="0.2304" stop-color="#ff2f00"/><stop offset="0.2455" stop-color="#ff3000"/><stop offset="0.2462" stop-color="#ff3f00"/><stop offset="0.2613" stop-color="#ff4100"/><stop offset="0.2621" stop-color="#ff4d00"/><stop offset="0.2659" stop-color="#ff4e00"/><stop offset="0.2719" stop-color="#ff5500"/><stop offset="0.2727" stop-color="#ff5900"/><stop offset="0.2825" stop-color="#ff6600"/><stop offset="0.2832" stop-color="#ff6a00"/><stop offset="0.2923" stop-color="#ff7600"/><stop offset="0.2931" stop-color="#ff7a00"/><stop offset="0.3021" stop-color="#ff8400"/><stop offset="0.3029" stop-color="#ff8a00"/><stop offset="0.3134" stop-color="#ff9500"/><stop offset="0.3142" stop-color="#ff9b00"/><stop offset="0.324" stop-color="#ffa400"/><stop offset="0.3248" stop-color="#ffaa00"/><stop offset="0.3346" stop-color="#ffb400"/><stop offset="0.3353" stop-color="#ffba00"/><stop offset="0.3459" stop-color="#ffc400"/><stop offset="0.3467" stop-color="#ffca00"/><stop offset="0.3565" stop-color="#ffd400"/><stop offset="0.3573" stop-color="#ffda00"/><stop offset="0.3671" stop-color="#ffe400"/><stop offset="0.3678" stop-color="#ffea00"/><stop offset="0.3784" stop-color="#fff300"/><stop offset="0.3792" stop-color="#fffb00"/><stop offset="0.3844" stop-color="#ffff00"/><stop offset="0.3988" stop-color="#e9ff16"/><stop offset="0.4328" stop-color="#a4ff5b"/><stop offset="0.5008" stop-color="#00feff"/><stop offset="0.5128" stop-color="#00e0ff"/><stop offset="0.5461" stop-color="#00a1ff"/><stop offset="0.5687" stop-color="#006cff"/><stop offset="0.5899" stop-color="#0031ff"/><stop offset="0.6125" stop-color="#0000ff"/><stop offset="0.6276" stop-color="#0000e3"/><stop offset="0.6352" stop-color="#0000da"/><stop offset="0.636" stop-color="#0000d5"/><stop offset="0.6458" stop-color="#0000ca"/><stop offset="0.6465" stop-color="#0000c5"/><stop offset="0.6579" stop-color="#0000bc"/><stop offset="0.6586" stop-color="#0000b2"/><stop offset="0.673" stop-color="#0000af"/><stop offset="0.6737" stop-color="#00009f"/><stop offset="0.6964" stop-color="#00009f"/><stop offset="0.6971" stop-color="#00008f"/><stop offset="0.7334" stop-color="#00008f"/><stop offset="0.7341" stop-color="#00009f"/><stop offset="0.7681" stop-color="#00009f"/><stop offset="0.7689" stop-color="#0000af"/><stop offset="0.8293" stop-color="#0000af"/><stop offset="0.8301" stop-color="#00009f"/><stop offset="0.8474" stop-color="#00009f"/><stop offset="0.8482" stop-color="#00008f"/><stop offset="0.8663" stop-color="#00008f"/><stop offset="0.8671" stop-color="#00009f"/><stop offset="0.8807" stop-color="#0000a3"/><stop offset="0.8814" stop-color="#0000ac"/><stop offset="0.8912" stop-color="#0000b5"/><stop offset="0.9282" stop-color="#0000ff"/><stop offset="0.9366" stop-color="#0012ff"/><stop offset="0.9539" stop-color="#0044ff"/><stop offset="0.9592" stop-color="#0057ff"/><stop offset="0.9773" stop-color="#00a1ff"/><stop offset="0.9819" stop-color="#00b9ff"/><stop offset="0.9917" stop-color="#00fdff"/><stop offset="1" stop-color="#48ffb7"/></linearGradient>
<linearGradient id="r31"><stop offset="0" stop-color="#af0000"/><stop offset="0.01284" stop-color="#af0000"/><stop offset="0.0136" stop-color="#bf0000"/><stop offset="0.1065" stop-color="#bf0000"/><stop offset="0.1073" stop-color="#cf0000"/><stop offset="0.1322" stop-color="#cf0000"/><stop offset="0.1329" stop-color="#df0000"/><stop offset="0.1556" stop-color="#df0000"/><stop offset="0.1563" stop-color="#ef0000"/><stop offset="0.1767" stop-color="#ef0000"/><stop offset="0.1775" stop-color="#ff0000"/><stop offset="0.1964" stop-color="#ff0000"/><stop offset="0.1971" stop-color="#ff1000"/><stop offset="0.216" stop-color="#ff1000"/><stop offset="0.2168" stop-color="#ff2000"/><stop offset="0.2341" stop-color="#ff2000"/><stop offset="0.2349" stop-color="#ff2f00"/><stop offset="0.25" stop-color="#ff3000"/><stop offset="0.2508" stop-color="#ff3f00"/><stop offset="0.2636" stop-color="#ff4200"/><stop offset="0.2651" stop-color="#ff4500"/><stop offset="0.2659" stop-color="#ff4a00"/><stop offset="0.2749" stop-color="#ff5600"/><stop offset="0.2757" stop-color="#ff5900"/><stop offset="0.2847" stop-color="#ff6500"/><stop offset="0.2855" stop-color="#ff6900"/><stop offset="0.2953" stop-color="#ff7600"/><stop offset="0.2961" stop-color="#ff7a00"/><stop offset="0.3051" stop-color="#ff8400"/><stop offset="0.3059" stop-color="#ff8a00"/><stop offset="0.3165" stop-color="#ff9500"/><stop offset="0.3172" stop-color="#ff9b00"/><stop offset="0.327" stop-color="#ffa400"/><stop offset="0.3278" stop-color="#ffaa00"/><stop offset="0.3384" stop-color="#ffb400"/><stop offset="0.3391" stop-color="#ffbb00"/><stop offset="0.3489" stop-color="#ffc400"/><stop offset="0.3497" stop-color="#ffca00"/><stop offset="0.3595" stop-color="#ffd400"/><stop offset="0.3603" stop-color="#ffda00"/><stop offset="0.3701" stop-color="#ffe300"/><stop offset="0.3708" stop-color="#ffea00"/><stop offset="0.3814" stop-color="#fff300"/><stop offset="0.3822" stop-color="#fffa00"/><stop offset="0.3882" stop-color="#feff01"/><stop offset="0.4011" stop-color="#eaff15"/><stop offset="0.4328" stop-color="#aaff55"/><stop offset="0.503" stop-color="#00feff"/><stop offset="0.5128" stop-color="#00e5ff"/><stop offset="0.5461" stop-color="#00a6ff"/><stop offset="0.5687" stop-color="#0071ff"/><stop offset="0.5899" stop-color="#0037ff"/><stop offset="0.6148" stop-color="#0000ff"/><stop offset="0.6292" stop-color="#0000e5"/><stop offset="0.639" stop-color="#0000da"/><stop offset="0.6397" stop-color="#0000d5"/><stop offset="0.6495" stop-color="#0000ca"/><stop offset="0.6503" stop-color="#0000c4"/><stop offset="0.6616" stop-color="#0000be"/><stop offset="0.6624" stop-color="#0000b1"/><stop offset="0.6782" stop-color="#0000af"/><stop offset="0.679" stop-color="#00009f"/><stop offset="0.7032" stop-color="#00009f"/><stop offset="0.7039" stop-color="#00008f"/><stop offset="0.7402" stop-color="#00008f"/><stop offset="0.7409" stop-color="#00009f"/><stop offset="0.7817" stop-color="#00009f"/><stop offset="0.7825" stop-color="#0000af"/><stop offset="0.8233" stop-color="#0000af"/><stop offset="0.824" stop-color="#00009f"/><stop offset="0.8452" stop-color="#00009f"/><stop offset="0.8459" stop-color="#00008f"/><stop offset="0.864" stop-color="#00008f"/><stop offset="0.8648" stop-color="#00009f"/><stop offset="0.8784" stop-color="#0000a3"/><stop offset="0.8792" stop-color="#0000ac"/><stop offset="0.8897" stop-color="#0000b5"/><stop offset="0.8905" stop-color="#0000ba"/><stop offset="0.9041" stop-color="#0000cf"/><stop offset="0.9267" stop-color="#0000fe"/><stop offset="0.9358" stop-color="#0012ff"/><stop offset="0.9592" stop-color="#0059ff"/><stop offset="0.9773" stop-color="#00a3ff"/><stop offset="0.9819" stop-color="#00baff"/><stop offset="0.9917" stop-color="#00ffff"/><stop offset="1" stop-color="#49ffb6"/></linearGradient>
<linearGradient id="r32"><stop offset="0" stop-color="#af0000"/><stop offset="0.03701" stop-color="#af0000"/><stop offset="0.03776" stop-color="#bf0000"/><stop offset="0.1125" stop-color="#bf0000"/><stop offset="0.1133" stop-color="#cf0000"/><stop offset="0.1382" stop-color="#cf0000"/><stop offset="0.139" stop-color="#df0000"/><stop offset="0.1609" stop-color="#df0000"/><stop offset="0.1616" stop-color="#ef0000"/><stop offset="0.1813" stop-color="#ef0000"/><stop offset="0.182" stop-color="#ff0000"/><stop offset="0.2017" stop-color="#ff0000"/><stop offset="0.2024" stop-color="#ff1000"/><stop offset="0.2213" stop-color="#ff1000"/><stop offset="0.2221" stop-color="#ff2000"/><stop offset="0.2379" stop-color="#ff2000"/><stop offset="0.2387" stop-color="#ff3000"/><stop offset="0.2545" stop-color="#ff3000"/><stop offset="0.2553" stop-color="#ff4000"/><stop offset="0.2651" stop-color="#ff4200"/><stop offset="0.2878" stop-color="#ff6600"/><stop offset="0.2885" stop-color="#ff6900"/><stop offset="0.2976" stop-color="#ff7500"/><stop offset="0.2983" stop-color="#ff7900"/><stop offset="0.3089" stop-color="#ff8500"/><stop offset="0.3097" stop-color="#ff8b00"/><stop offset="0.3195" stop-color="#ff9400"/><stop offset="0.3202" stop-color="#ff9b00"/><stop offset="0.3301" stop-color="#ffa400"/><stop offset="0.3308" stop-color="#ffab00"/><stop offset="0.3414" stop-color="#ffb400"/><stop offset="0.3421" stop-color="#ffbb00"/><stop offset="0.352" stop-color="#ffc400"/><stop offset="0.3527" stop-color="#ffca00"/><stop offset="0.3625" stop-color="#ffd400"/><stop offset="0.3633" stop-color="#ffda00"/><stop offset="0.3739" stop-color="#ffe300"/><stop offset="0.3746" stop-color="#ffeb00"/><stop offset="0.3852" stop-color="#fff400"/><stop offset="0.386" stop-color="#fffa00"/><stop offset="0.3912" stop-color="#ffff00"/><stop offset="0.4011" stop-color="#efff10"/><stop offset="0.4328" stop-color="#afff50"/><stop offset="0.4705" stop-color="#56ffa9"/><stop offset="0.5045" stop-color="#00ffff"/><stop offset="0.5128" stop-color="#00eaff"/><stop offset="0.5461" stop-color="#00abff"/><stop offset="0.5687" stop-color="#0076ff"/><stop offset="0.5899" stop-color="#003cff"/><stop offset="0.6178" stop-color="#0000ff"/><stop offset="0.6322" stop-color="#0000e9"/><stop offset="0.6329" stop-color="#0000e5"/><stop offset="0.6427" stop-color="#0000d9"/><stop offset="0.6435" stop-color="#0000d4"/><stop offset="0.6533" stop-color="#0000cb"/><stop offset="0.6541" stop-color="#0000c3"/><stop offset="0.6669" stop-color="#0000be"/><stop offset="0.6677" stop-color="#0000b0"/><stop offset="0.6828" stop-color="#0000af"/><stop offset="0.6835" stop-color="#00009f"/><stop offset="0.7107" stop-color="#00009f"/><stop offset="0.7115" stop-color="#00008f"/><stop offset="0.7477" stop-color="#00008f"/><stop offset="0.7485" stop-color="#00009f"/><stop offset="0.7946" stop-color="#00009f"/><stop offset="0.7953" stop-color="#0000af"/><stop offset="0.8127" stop-color="#0000af"/><stop offset="0.8134" stop-color="#00009f"/><stop offset="0.8421" stop-color="#00009f"/><stop offset="0.8429" stop-color="#00008f"/><stop offset="0.861" stop-color="#00008f"/><stop offset="0.8618" stop-color="#00009f"/><stop offset="0.8761" stop-color="#0000a3"/><stop offset="0.8769" stop-color="#0000ac"/><stop offset="0.8875" stop-color="#0000b4"/><stop offset="0.8882" stop-color="#0000ba"/><stop offset="0.9041" stop-color="#0000d2"/><stop offset="0.926" stop-color="#0000fe"/><stop offset="0.9358" stop-color="#0014ff"/><stop offset="0.9592" stop-color="#005bff"/><stop offset="0.9773" stop-color="#00a5ff"/><stop offset="0.9819" stop-color="#00bcff"/><stop offset="0.9909" stop-color="#00fbff"/><stop offset="0.9917" stop-color="#02fffd"/><stop offset="1" stop-color="#49ffb6"/></linearGradient>
<linearGradient id="r33"><stop offset="0" stop-color="#af0000"/><stop offset="0.06193" stop-color="#af0000"/><stop offset="0.06269" stop-color="#bf0000"/><stop offset="0.1186" stop-color="#bf0000"/><stop offset="0.1193" stop-color="#cf0000"/><stop offset="0.1435" stop-color="#cf0000"/><stop offset="0.1443" stop-color="#df0000"/><stop offset="0.1662" stop-color="#df0000"/><stop offset="0.1669" stop-color="#ef0000"/><stop offset="0.1866" stop-color="#ef0000"/><stop offset="0.1873" stop-color="#ff0000"/><stop offset="0.2062" stop-color="#ff0000"/><stop offset="0.2069" stop-color="#ff1000"/><stop offset="0.2258" stop-color="#ff1000"/><stop offset="0.2266" stop-color="#ff2000"/><stop offset="0.2424" stop-color="#ff2000"/><stop offset="0.2432" stop-color="#ff3000"/><stop offset="0.2591" stop-color="#ff3000"/><stop offset="0.2598" stop-color="#ff4000"/><stop offset="0.2644" stop-color="#ff3e00"/><stop offset="0.2704" stop-color="#ff4500"/><stop offset="0.2711" stop-color="#ff4900"/><stop offset="0.2908" stop-color="#ff6600"/><stop offset="0.2915" stop-color="#ff6a00"/><stop offset="0.3006" stop-color="#ff7500"/><stop offset="0.3014" stop-color="#ff7a00"/><stop offset="0.3112" stop-color="#ff8400"/><stop offset="0.3119" stop-color="#ff8a00"/><stop offset="0.3225" stop-color="#ff9400"/><stop offset="0.3233" stop-color="#ff9b00"/><stop offset="0.3331" stop-color="#ffa400"/><stop offset="0.3338" stop-color="#ffaa00"/><stop offset="0.3444" stop-color="#ffb400"/><stop offset="0.3452" stop-color="#ffba00"/><stop offset="0.355" stop-color="#ffc400"/><stop offset="0.3557" stop-color="#ffca00"/><stop offset="0.3656" stop-color="#ffd400"/><stop offset="0.3663" stop-color="#ffda00"/><stop offset="0.3769" stop-color="#ffe300"/><stop offset="0.3776" stop-color="#ffeb00"/><stop offset="0.3882" stop-color="#fff400"/><stop offset="0.389" stop-color="#fff900"/><stop offset="0.3943" stop-color="#ffff00"/><stop offset="0.3988" stop-color="#f9ff06"/><stop offset="0.4328" stop-color="#b4ff4b"/><stop offset="0.4705" stop-color="#5bffa4"/><stop offset="0.5068" stop-color="#00feff"/><stop offset="0.5128" stop-color="#00efff"/><stop offset="0.5461" stop-color="#00b0ff"/><stop offset="0.5687" stop-color="#007bff"/><stop offset="0.5899" stop-color="#0042ff"/><stop offset="0.614" stop-color="#000cff"/><stop offset="0.6216" stop-color="#0000fe"/><stop offset="0.6352" stop-color="#0000ea"/><stop offset="0.636" stop-color="#0000e5"/><stop offset="0.6458" stop-color="#0000da"/><stop offset="0.6465" stop-color="#0000d5"/><stop offset="0.6571" stop-color="#0000cc"/><stop offset="0.6579" stop-color="#0000c2"/><stop offset="0.6715" stop-color="#0000be"/><stop offset="0.6722" stop-color="#0000b0"/><stop offset="0.6888" stop-color="#0000af"/><stop offset="0.6896" stop-color="#00009f"/><stop offset="0.7183" stop-color="#00009f"/><stop offset="0.719" stop-color="#00008f"/><stop offset="0.7545" stop-color="#00008f"/><stop offset="0.7553" stop-color="#00009f"/><stop offset="0.8399" stop-color="#00009f"/><stop offset="0.8406" stop-color="#00008f"/><stop offset="0.858" stop-color="#00008f"/><stop offset="0.8588" stop-color="#00009f"/><stop offset="0.8739" stop-color="#0000a3"/><stop offset="0.8746" stop-color="#0000ac"/><stop offset="0.8852" stop-color="#0000b3"/><stop offset="0.886" stop-color="#0000bb"/><stop offset="0.8958" stop-color="#0000c6"/><stop offset="0.9252" stop-color="#0000ff"/><stop offset="0.9358" stop-color="#0016ff"/><stop offset="0.9592" stop-color="#005dff"/><stop offset="0.9773" stop-color="#00a7ff"/><stop offset="0.9819" stop-color="#00beff"/><stop offset="0.9909" stop-color="#00fcff"/><stop offset="0.9917" stop-color="#03fffc"/><stop offset="1" stop-color="#4affb5"/></linearGradient>
<linearGradient id="r34"><stop offset="0" stop-color="#af0000"/><stop offset="0.08157" stop-color="#af0000"/><stop offset="0.08233" stop-color="#bf0000"/><stop offset="0.1246" stop-color="#bf0000"/><stop offset="0.1254" stop-color="#cf0000"/><stop offset="0.1488" stop-color="#cf0000"/><stop offset="0.1495" stop-color="#df0000"/><stop offset="0.1707" stop-color="#df0000"/><stop offset="0.1715" stop-color="#ef0000"/><stop offset="0.1911" stop-color="#ef0000"/><stop offset="0.1918" stop-color="#ff0000"/><stop offset="0.2115" stop-color="#ff0000"/><stop offset="0.2122" stop-color="#ff1000"/><stop offset="0.2304" stop-color="#ff1000"/><stop offset="0.2311" stop-color="#ff2000"/><stop offset="0.247" stop-color="#ff2000"/><stop offset="0.2477" stop-color="#ff3000"/><stop offset="0.2628" stop-color="#ff3200"/><stop offset="0.2636" stop-color="#ff3300"/><stop offset="0.2644" stop-color="#ff3c00"/><stop offset="0.2734" stop-color="#ff4600"/><stop offset="0.2938" stop-color="#ff6900"/><stop offset="0.3036" stop-color="#ff7400"/><stop offset="0.3044" stop-color="#ff7b00"/><stop offset="0.3142" stop-color="#ff8400"/><stop offset="0.315" stop-color="#ff8a00"/><stop offset="0.3255" stop-color="#ff9400"/><stop offset="0.3263" stop-color="#ff9b00"/><stop offset="0.3361" stop-color="#ffa400"/><stop offset="0.3369" stop-color="#ffaa00"/><stop offset="0.3474" stop-color="#ffb400"/><stop offset="0.3482" stop-color="#ffba00"/><stop offset="0.358" stop-color="#ffc400"/><stop offset="0.3588" stop-color="#ffca00"/><stop offset="0.3686" stop-color="#ffd300"/><stop offset="0.3693" stop-color="#ffda00"/><stop offset="0.3807" stop-color="#ffe300"/><stop offset="0.3814" stop-color="#ffeb00"/><stop offset="0.3912" stop-color="#fff400"/><stop offset="0.392" stop-color="#fff900"/><stop offset="0.3973" stop-color="#ffff00"/><stop offset="0.4328" stop-color="#baff45"/><stop offset="0.4705" stop-color="#61ff9e"/><stop offset="0.5083" stop-color="#00ffff"/><stop offset="0.5461" stop-color="#00b5ff"/><stop offset="0.5687" stop-color="#0080ff"/><stop offset="0.5899" stop-color="#0047ff"/><stop offset="0.614" stop-color="#0012ff"/><stop offset="0.6246" stop-color="#0000fe"/><stop offset="0.639" stop-color="#0000ea"/><stop offset="0.6397" stop-color="#0000e5"/><stop offset="0.6495" stop-color="#0000da"/><stop offset="0.6503" stop-color="#0000d4"/><stop offset="0.6616" stop-color="#0000cd"/><stop offset="0.6624" stop-color="#0000c1"/><stop offset="0.676" stop-color="#0000be"/><stop offset="0.6767" stop-color="#0000b0"/><stop offset="0.6956" stop-color="#0000af"/><stop offset="0.6964" stop-color="#00009f"/><stop offset="0.7266" stop-color="#00009f"/><stop offset="0.7273" stop-color="#00008f"/><stop offset="0.7613" stop-color="#00008f"/><stop offset="0.7621" stop-color="#00009f"/><stop offset="0.8369" stop-color="#00009f"/><stop offset="0.8376" stop-color="#00008f"/><stop offset="0.8557" stop-color="#00008f"/><stop offset="0.8565" stop-color="#00009f"/><stop offset="0.8716" stop-color="#0000a2"/><stop offset="0.8724" stop-color="#0000ac"/><stop offset="0.8837" stop-color="#0000b4"/><stop offset="0.8844" stop-color="#0000bb"/><stop offset="0.8943" stop-color="#0000c6"/><stop offset="0.9237" stop-color="#0000fe"/><stop offset="0.9358" stop-color="#0018ff"/><stop offset="0.9592" stop-color="#005fff"/><stop offset="0.9773" stop-color="#00a9ff"/><stop offset="0.9819" stop-color="#00c0ff"/><stop offset="0.9909" stop-color="#00feff"/><stop offset="1" stop-color="#4bffb4"/></linearGradient>
<linearGradient id="r35"><stop offset="0" stop-color="#af0000"/><stop offset="0.1005" stop-color="#af0000"/><stop offset="0.1012" stop-color="#bf0000"/><stop offset="0.1299" stop-color="#bf0000"/><stop offset="0.1307" stop-color="#cf0000"/><stop offset="0.1541" stop-color="#cf0000"/><stop offset="0.1548" stop-color="#df0000"/><stop offset="0.1752" stop-color="#df0000"/><stop offset="0.176" stop-color="#ef0000"/><stop offset="0.1956" stop-color="#ef0000"/><stop offset="0.1964" stop-color="#ff0000"/><stop offset="0.216" stop-color="#ff0000"/><stop offset="0.2168" stop-color="#ff1000"/><stop offset="0.2341" stop-color="#ff1000"/><stop offset="0.2349" stop-color="#ff2000"/><stop offset="0.2515" stop-color="#ff2000"/><stop offset="0.2523" stop-color="#ff3000"/><stop offset="0.2644" stop-color="#ff3200"/><stop offset="0.2666" stop-color="#ff3900"/><stop offset="0.2764" stop-color="#ff4600"/><stop offset="0.2968" stop-color="#ff6a00"/><stop offset="0.3066" stop-color="#ff7500"/><stop offset="0.3074" stop-color="#ff7b00"/><stop offset="0.3172" stop-color="#ff8400"/><stop offset="0.318" stop-color="#ff8a00"/><stop offset="0.3285" stop-color="#ff9400"/><stop offset="0.3293" stop-color="#ff9b00"/><stop offset="0.3391" stop-color="#ffa400"/><stop offset="0.3399" stop-color="#ffab00"/><stop offset="0.3505" stop-color="#ffb400"/><stop offset="0.3512" stop-color="#ffba00"/><stop offset="0.361" stop-color="#ffc400"/><stop offset="0.3618" stop-color="#ffca00"/><stop offset="0.3724" stop-color="#ffd300"/><stop offset="0.3731" stop-color="#ffdb00"/><stop offset="0.3837" stop-color="#ffe300"/><stop offset="0.3844" stop-color="#ffeb00"/><stop offset="0.395" stop-color="#fff500"/><stop offset="0.3958" stop-color="#fffa00"/><stop offset="0.4011" stop-color="#feff01"/><stop offset="0.4328" stop-color="#bfff40"/><stop offset="0.4705" stop-color="#66ff99"/><stop offset="0.5106" stop-color="#00feff"/><stop offset="0.5453" stop-color="#00bbff"/><stop offset="0.5687" stop-color="#0085ff"/><stop offset="0.5906" stop-color="#004bff"/><stop offset="0.614" stop-color="#0017ff"/><stop offset="0.6276" stop-color="#0000ff"/><stop offset="0.6322" stop-color="#0000f9"/><stop offset="0.6329" stop-color="#0000f5"/><stop offset="0.6427" stop-color="#0000e9"/><stop offset="0.6435" stop-color="#0000e4"/><stop offset="0.6533" stop-color="#0000db"/><stop offset="0.6541" stop-color="#0000d3"/><stop offset="0.6662" stop-color="#0000ce"/><stop offset="0.6669" stop-color="#0000c1"/><stop offset="0.6805" stop-color="#0000be"/><stop offset="0.6813" stop-color="#0000b0"/><stop offset="0.7024" stop-color="#0000af"/><stop offset="0.7032" stop-color="#00009f"/><stop offset="0.7334" stop-color="#00009f"/><stop offset="0.7341" stop-color="#00008f"/><stop offset="0.7719" stop-color="#00008f"/><stop offset="0.7727" stop-color="#00009f"/><stop offset="0.8346" stop-color="#00009f"/><stop offset="0.8353" stop-color="#00008f"/><stop offset="0.8527" stop-color="#00008f"/><stop offset="0.8535" stop-color="#00009f"/><stop offset="0.8686" stop-color="#0000a2"/><stop offset="0.8693" stop-color="#0000ad"/><stop offset="0.8807" stop-color="#0000b3"/><stop offset="0.8814" stop-color="#0000bb"/><stop offset="0.892" stop-color="#0000c4"/><stop offset="0.8927" stop-color="#0000c9"/><stop offset="0.9011" stop-color="#0000d4"/><stop offset="0.923" stop-color="#0000ff"/><stop offset="0.9358" stop-color="#001aff"/><stop offset="0.9592" stop-color="#0062ff"/><stop offset="0.9773" stop-color="#00abff"/><stop offset="0.9819" stop-color="#00c1ff"/><stop offset="0.9909" stop-color="#00ffff"/><stop offset="1" stop-color="#4bffb4"/></linearGradient>
<linearGradient id="r36"><stop offset="0" stop-color="#9f0000"/><stop offset="0.01284" stop-color="#9f0000"/><stop offset="0.0136" stop-color="#af0000"/><stop offset="0.1103" stop-color="#af0000"/><stop offset="0.111" stop-color="#bf0000"/><stop offset="0.136" stop-color="#bf0000"/><stop offset="0.1367" stop-color="#cf0000"/><stop offset="0.1586" stop-color="#cf0000"/><stop offset="0.1594" stop-color="#df0000"/><stop offset="0.1798" stop-color="#df0000"/><stop offset="0.1805" stop-color="#ef0000"/><stop offset="0.2002" stop-color="#ef0000"/><stop offset="0.2009" stop-color="#ff0000"/><stop offset="0.2205" stop-color="#ff0000"/><stop offset="0.2213" stop-color="#ff1000"/><stop offset="0.2387" stop-color="#ff1000"/><stop offset="0.2394" stop-color="#ff2000"/><stop offset="0.256" stop-color="#ff2000"/><stop offset="0.2568" stop-color="#ff3000"/><stop offset="0.2659" stop-color="#ff3200"/><stop offset="0.2893" stop-color="#ff5900"/><stop offset="0.2983" stop-color="#ff6500"/><stop offset="0.2991" stop-color="#ff6a00"/><stop offset="0.3089" stop-color="#ff7400"/><stop offset="0.3097" stop-color="#ff7a00"/><stop offset="0.3202" stop-color="#ff8400"/><stop offset="0.321" stop-color="#ff8b00"/><stop offset="0.3308" stop-color="#ff9400"/><stop offset="0.3316" stop-color="#ff9b00"/><stop offset="0.3421" stop-color="#ffa400"/><stop offset="0.3429" stop-color="#ffab00"/><stop offset="0.3535" stop-color="#ffb400"/><stop offset="0.3542" stop-color="#ffbb00"/><stop offset="0.364" stop-color="#ffc400"/><stop offset="0.3648" stop-color="#ffca00"/><stop offset="0.3754" stop-color="#ffd300"/><stop offset="0.3761" stop-color="#ffdb00"/><stop offset="0.3867" stop-color="#ffe300"/><stop offset="0.3875" stop-color="#ffea00"/><stop offset="0.3973" stop-color="#fff400"/><stop offset="0.3988" stop-color="#fffa00"/><stop offset="0.4033" stop-color="#feff01"/><stop offset="0.4328" stop-color="#c4ff3b"/><stop offset="0.4705" stop-color="#6bff94"/><stop offset="0.5121" stop-color="#00ffff"/><stop offset="0.5453" stop-color="#00c0ff"/><stop offset="0.5687" stop-color="#008aff"/><stop offset="0.5906" stop-color="#0050ff"/><stop offset="0.6148" stop-color="#001bff"/><stop offset="0.6307" stop-color="#0000ff"/><stop offset="0.6458" stop-color="#0000ea"/><stop offset="0.6465" stop-color="#0000e5"/><stop offset="0.6571" stop-color="#0000dc"/><stop offset="0.6579" stop-color="#0000d2"/><stop offset="0.6707" stop-color="#0000ce"/><stop offset="0.6715" stop-color="#0000c1"/><stop offset="0.6866" stop-color="#0000bf"/><stop offset="0.6873" stop-color="#0000af"/><stop offset="0.7092" stop-color="#0000af"/><stop offset="0.71" stop-color="#00009f"/><stop offset="0.7402" stop-color="#00009f"/><stop offset="0.7409" stop-color="#00008f"/><stop offset="0.7817" stop-color="#00008f"/><stop offset="0.7825" stop-color="#00009f"/><stop offset="0.8293" stop-color="#00009f"/><stop offset="0.8301" stop-color="#00008f"/><stop offset="0.8505" stop-color="#00008f"/><stop offset="0.8512" stop-color="#00009f"/><stop offset="0.8663" stop-color="#0000a2"/><stop offset="0.8671" stop-color="#0000ad"/><stop offset="0.8784" stop-color="#0000b3"/><stop offset="0.8792" stop-color="#0000bb"/><stop offset="0.8905" stop-color="#0000c4"/><stop offset="0.8912" stop-color="#0000ca"/><stop offset="0.9003" stop-color="#0000d5"/><stop offset="0.9215" stop-color="#0000fe"/><stop offset="0.9358" stop-color="#001cff"/><stop offset="0.9592" stop-color="#0064ff"/><stop offset="0.9773" stop-color="#00adff"/><stop offset="0.9819" stop-color="#00c3ff"/><stop offset="0.9902" stop-color="#00fcff"/><stop offset="0.9917" stop-color="#08fff7"/><stop offset="1" stop-color="#4cffb3"/></linearGradient>
<linearGradient id="r37"><stop offset="0" stop-color="#9f0000"/><stop offset="0.03701" stop-color="#9f0000"/><stop offset="0.03776" stop-color="#af0000"/><stop offset="0.1156" stop-color="#af0000"/><stop offset="0.1163" stop-color="#bf0000"/><stop offset="0.1405" stop-color="#bf0000"/><stop offset="0.1412" stop-color="#cf0000"/><stop offset="0.1639" stop-color="#cf0000"/><stop offset="0.1647" stop-color="#df0000"/><stop offset="0.1843" stop-color="#df0000"/><stop offset="0.185" stop-color="#ef0000"/><stop offset="0.2047" stop-color="#ef0000"/><stop offset="0.2054" stop-color="#ff0000"/><stop offset="0.2251" stop-color="#ff0000"/><stop offset="0.2258" stop-color="#ff1000"/><stop offset="0.2424" stop-color="#ff1000"/><stop offset="0.2432" stop-color="#ff2000"/><stop offset="0.2606" stop-color="#ff2000"/><stop offset="0.2613" stop-color="#ff2f00"/><stop offset="0.2651" stop-color="#ff2e00"/><stop offset="0.2711" stop-color="#ff3600"/><stop offset="0.2915" stop-color="#ff5900"/><stop offset="0.3014" stop-color="#ff6500"/><stop offset="0.3021" stop-color="#ff6b00"/><stop offset="0.3119" stop-color="#ff7400"/><stop offset="0.3127" stop-color="#ff7b00"/><stop offset="0.3225" stop-color="#ff8400"/><stop offset="0.3233" stop-color="#ff8a00"/><stop offset="0.3338" stop-color="#ff9400"/><stop offset="0.3346" stop-color="#ff9b00"/><stop offset="0.3452" stop-color="#ffa400"/><stop offset="0.3459" stop-color="#ffab00"/><stop offset="0.3557" stop-color="#ffb400"/><stop offset="0.3565" stop-color="#ffba00"/><stop offset="0.3671" stop-color="#ffc400"/><stop offset="0.3678" stop-color="#ffcb00"/><stop offset="0.3784" stop-color="#ffd300"/><stop offset="0.3792" stop-color="#ffdb00"/><stop offset="0.3897" stop-color="#ffe400"/><stop offset="0.3905" stop-color="#ffea00"/><stop offset="0.3988" stop-color="#fff200"/><stop offset="0.4056" stop-color="#ffff00"/><stop offset="0.4328" stop-color="#c9ff36"/><stop offset="0.4705" stop-color="#70ff8f"/><stop offset="0.5144" stop-color="#00ffff"/><stop offset="0.5461" stop-color="#00c4ff"/><stop offset="0.5687" stop-color="#008eff"/><stop offset="0.5899" stop-color="#0057ff"/><stop offset="0.614" stop-color="#0021ff"/><stop offset="0.6344" stop-color="#0000ff"/><stop offset="0.639" stop-color="#0000f9"/><stop offset="0.6397" stop-color="#0000f5"/><stop offset="0.6495" stop-color="#0000ea"/><stop offset="0.6503" stop-color="#0000e4"/><stop offset="0.6616" stop-color="#0000dd"/><stop offset="0.6624" stop-color="#0000d1"/><stop offset="0.6752" stop-color="#0000ce"/><stop offset="0.676" stop-color="#0000c1"/><stop offset="0.6934" stop-color="#0000bf"/><stop offset="0.6941" stop-color="#0000af"/><stop offset="0.7168" stop-color="#0000af"/><stop offset="0.7175" stop-color="#00009f"/><stop offset="0.747" stop-color="#00009f"/><stop offset="0.7477" stop-color="#00008f"/><stop offset="0.7908" stop-color="#00008f"/><stop offset="0.7915" stop-color="#00009f"/><stop offset="0.8218" stop-color="#00009f"/><stop offset="0.8225" stop-color="#00008f"/><stop offset="0.8474" stop-color="#00008f"/><stop offset="0.8482" stop-color="#00009f"/><stop offset="0.8633" stop-color="#0000a1"/><stop offset="0.864" stop-color="#0000ad"/><stop offset="0.8761" stop-color="#0000b3"/><stop offset="0.8769" stop-color="#0000bc"/><stop offset="0.8882" stop-color="#0000c3"/><stop offset="0.889" stop-color="#0000cb"/><stop offset="0.8988" stop-color="#0000d5"/><stop offset="0.8995" stop-color="#0000da"/><stop offset="0.9041" stop-color="#0000df"/><stop offset="0.9199" stop-color="#0000fe"/><stop offset="0.9358" stop-color="#001eff"/><stop offset="0.9585" stop-color="#0063ff"/><stop offset="0.9773" stop-color="#00afff"/><stop offset="0.9819" stop-color="#00c5ff"/><stop offset="0.9902" stop-color="#00feff"/><stop offset="1" stop-color="#4dffb2"/></linearGradient>
<linearGradient id="r38"><stop offset="0" stop-color="#9f0000"/><stop offset="0.06118" stop-color="#9f0000"/><stop offset="0.06193" stop-color="#af0000"/><stop offset="0.1208" stop-color="#af0000"/><stop offset="0.1216" stop-color="#bf0000"/><stop offset="0.1458" stop-color="#bf0000"/><stop offset="0.1465" stop-color="#cf0000"/><stop offset="0.1677" stop-color="#cf0000"/><stop offset="0.1684" stop-color="#df0000"/><stop offset="0.1888" stop-color="#df0000"/><stop offset="0.1896" stop-color="#ef0000"/><stop offset="0.2092" stop-color="#ef0000"/><stop offset="0.21" stop-color="#ff0000"/><stop offset="0.2289" stop-color="#ff0000"/><stop offset="0.2296" stop-color="#ff1000"/><stop offset="0.247" stop-color="#ff1000"/><stop offset="0.2477" stop-color="#ff2000"/><stop offset="0.2628" stop-color="#ff2200"/><stop offset="0.2636" stop-color="#ff2300"/><stop offset="0.2644" stop-color="#ff2c00"/><stop offset="0.2734" stop-color="#ff3600"/><stop offset="0.2946" stop-color="#ff5a00"/><stop offset="0.3036" stop-color="#ff6400"/><stop offset="0.3044" stop-color="#ff6b00"/><stop offset="0.315" stop-color="#ff7500"/><stop offset="0.3157" stop-color="#ff7b00"/><stop offset="0.3255" stop-color="#ff8400"/><stop offset="0.3263" stop-color="#ff8b00"/><stop offset="0.3369" stop-color="#ff9400"/><stop offset="0.3376" stop-color="#ff9b00"/><stop offset="0.3474" stop-color="#ffa400"/><stop offset="0.3482" stop-color="#ffaa00"/><stop offset="0.3588" stop-color="#ffb400"/><stop offset="0.3595" stop-color="#ffba00"/><stop offset="0.3701" stop-color="#ffc300"/><stop offset="0.3708" stop-color="#ffcc00"/><stop offset="0.3814" stop-color="#ffd300"/><stop offset="0.3822" stop-color="#ffdb00"/><stop offset="0.3927" stop-color="#ffe400"/><stop offset="0.3935" stop-color="#ffea00"/><stop offset="0.4003" stop-color="#fff100"/><stop offset="0.4079" stop-color="#ffff00"/><stop offset="0.4328" stop-color="#ceff31"/><stop offset="0.4705" stop-color="#75ff8a"/><stop offset="0.5128" stop-color="#07fff8"/><stop offset="0.5174" stop-color="#00feff"/><stop offset="0.5461" stop-color="#00c9ff"/><stop offset="0.5687" stop-color="#0093ff"/><stop offset="0.5899" stop-color="#005cff"/><stop offset="0.614" stop-color="#0027ff"/><stop offset="0.6375" stop-color="#0000ff"/><stop offset="0.6427" stop-color="#0000f9"/><stop offset="0.6435" stop-color="#0000f4"/><stop offset="0.6533" stop-color="#0000eb"/><stop offset="0.6541" stop-color="#0000e3"/><stop offset="0.6662" stop-color="#0000dd"/><stop offset="0.6669" stop-color="#0000d1"/><stop offset="0.6798" stop-color="#0000ce"/><stop offset="0.6805" stop-color="#0000c1"/><stop offset="0.6994" stop-color="#0000bf"/><stop offset="0.7002" stop-color="#0000af"/><stop offset="0.7243" stop-color="#0000af"/><stop offset="0.7251" stop-color="#00009f"/><stop offset="0.7538" stop-color="#00009f"/><stop offset="0.7545" stop-color="#00008f"/><stop offset="0.7991" stop-color="#00008f"/><stop offset="0.7998" stop-color="#00009f"/><stop offset="0.8089" stop-color="#00009f"/><stop offset="0.8097" stop-color="#00008f"/><stop offset="0.8452" stop-color="#00008f"/><stop offset="0.8459" stop-color="#00009f"/><stop offset="0.861" stop-color="#0000a2"/><stop offset="0.8618" stop-color="#0000ad"/><stop offset="0.8739" stop-color="#0000b3"/><stop offset="0.8746" stop-color="#0000bc"/><stop offset="0.886" stop-color="#0000c3"/><stop offset="0.8867" stop-color="#0000cc"/><stop offset="0.8973" stop-color="#0000d5"/><stop offset="0.898" stop-color="#0000da"/><stop offset="0.9041" stop-color="#0000e1"/><stop offset="0.9192" stop-color="#0000ff"/><stop offset="0.9358" stop-color="#0020ff"/><stop offset="0.9585" stop-color="#0065ff"/><stop offset="0.9773" stop-color="#00b1ff"/><stop offset="0.9819" stop-color="#00c7ff"/><stop offset="0.9902" stop-color="#00ffff"/><stop offset="1" stop-color="#4dffb2"/></linearGradient>
<linearGradient id="r39"><stop offset="0" stop-color="#9f0000"/><stop offset="0.08233" stop-color="#9f0000"/><stop offset="0.08308" stop-color="#af0000"/><stop offset="0.1261" stop-color="#af0000"/><stop offset="0.1269" stop-color="#bf0000"/><stop offset="0.1503" stop-color="#bf0000"/><stop offset="0.1511" stop-color="#cf0000"/><stop offset="0.1722" stop-color="#cf0000"/><stop offset="0.173" stop-color="#df0000"/><stop offset="0.1934" stop-color="#df0000"/><stop offset="0.1941" stop-color="#ef0000"/><stop offset="0.2137" stop-color="#ef0000"/><stop offset="0.2145" stop-color="#ff0000"/><stop offset="0.2326" stop-color="#ff0000"/><stop offset="0.2334" stop-color="#ff1000"/><stop offset="0.2508" stop-color="#ff1000"/><stop offset="0.2515" stop-color="#ff2000"/><stop offset="0.2644" stop-color="#ff2200"/><stop offset="0.2674" stop-color="#ff2a00"/><stop offset="0.2968" stop-color="#ff5a00"/><stop offset="0.3066" stop-color="#ff6500"/><stop offset="0.3074" stop-color="#ff6b00"/><stop offset="0.3172" stop-color="#ff7400"/><stop offset="0.318" stop-color="#ff7b00"/><stop offset="0.3285" stop-color="#ff8400"/><stop offset="0.3293" stop-color="#ff8b00"/><stop offset="0.3391" stop-color="#ff9400"/><stop offset="0.3399" stop-color="#ff9b00"/><stop offset="0.3505" stop-color="#ffa400"/><stop offset="0.3512" stop-color="#ffab00"/><stop offset="0.3618" stop-color="#ffb400"/><stop offset="0.3625" stop-color="#ffbb00"/><stop offset="0.3731" stop-color="#ffc300"/><stop offset="0.3739" stop-color="#ffcc00"/><stop offset="0.3844" stop-color="#ffd300"/><stop offset="0.3852" stop-color="#ffdb00"/><stop offset="0.3958" stop-color="#ffe400"/><stop offset="0.3965" stop-color="#ffea00"/><stop offset="0.4011" stop-color="#ffee00"/><stop offset="0.4101" stop-color="#ffff00"/><stop offset="0.4335" stop-color="#d1ff2e"/><stop offset="0.4705" stop-color="#7aff85"/><stop offset="0.5128" stop-color="#0cfff3"/><stop offset="0.5196" stop-color="#00ffff"/><stop offset="0.5461" stop-color="#00cdff"/><stop offset="0.5899" stop-color="#0062ff"/><stop offset="0.614" stop-color="#002cff"/><stop offset="0.6412" stop-color="#0000ff"/><stop offset="0.6495" stop-color="#0000f1"/><stop offset="0.6571" stop-color="#0000ec"/><stop offset="0.6579" stop-color="#0000e2"/><stop offset="0.6707" stop-color="#0000dd"/><stop offset="0.6715" stop-color="#0000d1"/><stop offset="0.685" stop-color="#0000cf"/><stop offset="0.6858" stop-color="#0000bf"/><stop offset="0.7062" stop-color="#0000bf"/><stop offset="0.7069" stop-color="#0000af"/><stop offset="0.7311" stop-color="#0000af"/><stop offset="0.7319" stop-color="#00009f"/><stop offset="0.7598" stop-color="#00009f"/><stop offset="0.7606" stop-color="#00008f"/><stop offset="0.8421" stop-color="#00008f"/><stop offset="0.8429" stop-color="#00009f"/><stop offset="0.858" stop-color="#0000a1"/><stop offset="0.8588" stop-color="#0000ad"/><stop offset="0.8708" stop-color="#0000b2"/><stop offset="0.8716" stop-color="#0000bc"/><stop offset="0.8837" stop-color="#0000c3"/><stop offset="0.8844" stop-color="#0000cc"/><stop offset="0.895" stop-color="#0000d4"/><stop offset="0.8958" stop-color="#0000da"/><stop offset="0.9033" stop-color="#0000e2"/><stop offset="0.9177" stop-color="#0000fe"/><stop offset="0.9358" stop-color="#0022ff"/><stop offset="0.9585" stop-color="#0067ff"/><stop offset="0.9819" stop-color="#00c9ff"/><stop offset="0.9894" stop-color="#00fcff"/><stop offset="0.9909" stop-color="#07fff8"/><stop offset="1" stop-color="#4effb1"/></linearGradient>
<linearGradient id="r40"><stop offset="0" stop-color="#9f0000"/><stop offset="0.1027" stop-color="#9f0000"/><stop offset="0.1035" stop-color="#af0000"/><stop offset="0.1307" stop-color="#af0000"/><stop offset="0.1314" stop-color="#bf0000"/><stop offset="0.1548" stop-color="#bf0000"/><stop offset="0.1556" stop-color="#cf0000"/><stop offset="0.1767" stop-color="#cf0000"/><stop offset="0.1775" stop-color="#df0000"/><stop offset="0.1971" stop-color="#df0000"/><stop offset="0.1979" stop-color="#ef0000"/><stop offset="0.2175" stop-color="#ef0000"/><stop offset="0.2183" stop-color="#ff0000"/><stop offset="0.2372" stop-color="#ff0000"/><stop offset="0.2379" stop-color="#ff1000"/><stop offset="0.2553" stop-color="#ff1000"/><stop offset="0.256" stop-color="#ff2000"/><stop offset="0.2651" stop-color="#ff2100"/><stop offset="0.2983" stop-color="#ff5600"/><stop offset="0.2991" stop-color="#ff5a00"/><stop offset="0.3089" stop-color="#ff6400"/><stop offset="0.3097" stop-color="#ff6b00"/><stop offset="0.3195" stop-color="#ff7400"/><stop offset="0.3202" stop-color="#ff7a00"/><stop offset="0.3308" stop-color="#ff8400"/><stop offset="0.3316" stop-color="#ff8b00"/><stop offset="0.3421" stop-color="#ff9400"/><stop offset="0.3429" stop-color="#ff9b00"/><stop offset="0.3527" stop-color="#ffa400"/><stop offset="0.3535" stop-color="#ffaa00"/><stop offset="0.364" stop-color="#ffb400"/><stop offset="0.3648" stop-color="#ffbb00"/><stop offset="0.3754" stop-color="#ffc300"/><stop offset="0.3761" stop-color="#ffcb00"/><stop offset="0.3875" stop-color="#ffd300"/><stop offset="0.3882" stop-color="#ffdb00"/><stop offset="0.398" stop-color="#ffe300"/><stop offset="0.3995" stop-color="#ffe900"/><stop offset="0.4124" stop-color="#ffff00"/><stop offset="0.4335" stop-color="#d6ff29"/><stop offset="0.4705" stop-color="#7fff80"/><stop offset="0.5128" stop-color="#10ffef"/><stop offset="0.5219" stop-color="#00ffff"/><stop offset="0.5461" stop-color="#00d2ff"/><stop offset="0.5899" stop-color="#0067ff"/><stop offset="0.614" stop-color="#0031ff"/><stop offset="0.6443" stop-color="#0000ff"/><stop offset="0.6495" stop-color="#0000fa"/><stop offset="0.6503" stop-color="#0000f4"/><stop offset="0.6518" stop-color="#0000f2"/><stop offset="0.6616" stop-color="#0000ec"/><stop offset="0.6624" stop-color="#0000e1"/><stop offset="0.6752" stop-color="#0000dd"/><stop offset="0.676" stop-color="#0000d1"/><stop offset="0.6918" stop-color="#0000cf"/><stop offset="0.6926" stop-color="#0000bf"/><stop offset="0.7137" stop-color="#0000bf"/><stop offset="0.7145" stop-color="#0000af"/><stop offset="0.7379" stop-color="#0000af"/><stop offset="0.7387" stop-color="#00009f"/><stop offset="0.7681" stop-color="#00009f"/><stop offset="0.7689" stop-color="#00008f"/><stop offset="0.8399" stop-color="#00008f"/><stop offset="0.8406" stop-color="#00009f"/><stop offset="0.8557" stop-color="#0000a2"/><stop offset="0.8565" stop-color="#0000ad"/><stop offset="0.8686" stop-color="#0000b2"/><stop offset="0.8693" stop-color="#0000bd"/><stop offset="0.8807" stop-color="#0000c2"/><stop offset="0.8814" stop-color="#0000cc"/><stop offset="0.8927" stop-color="#0000d3"/><stop offset="0.8935" stop-color="#0000da"/><stop offset="0.9026" stop-color="#0000e3"/><stop offset="0.9169" stop-color="#0000ff"/><stop offset="0.9358" stop-color="#0024ff"/><stop offset="0.9585" stop-color="#006aff"/><stop offset="0.9819" stop-color="#00caff"/><stop offset="0.9894" stop-color="#00feff"/><stop offset="0.9917" stop-color="#0efff1"/><stop offset="1" stop-color="#4fffb0"/></linearGradient>
<linearGradient id="r41"><stop offset="0" stop-color="#9f0000"/><stop offset="0.1103" stop-color="#9f0000"/><stop offset="0.111" stop-color="#af0000"/><stop offset="0.1352" stop-color="#af0000"/><stop offset="0.136" stop-color="#bf0000"/><stop offset="0.1594" stop-color="#bf0000"/><stop offset="0.1601" stop-color="#cf0000"/><stop offset="0.1805" stop-color="#cf0000"/><stop offset="0.1813" stop-color="#df0000"/><stop offset="0.2017" stop-color="#df0000"/><stop offset="0.2024" stop-color="#ef0000"/><stop offset="0.2221" stop-color="#ef0000"/><stop offset="0.2228" stop-color="#ff0000"/><stop offset="0.2409" stop-color="#ff0000"/><stop offset="0.2417" stop-color="#ff1000"/><stop offset="0.2591" stop-color="#ff1000"/><stop offset="0.2598" stop-color="#ff2000"/><stop offset="0.2651" stop-color="#ff1f00"/><stop offset="0.2711" stop-color="#ff2700"/><stop offset="0.2915" stop-color="#ff4a00"/><stop offset="0.3006" stop-color="#ff5500"/><stop offset="0.3014" stop-color="#ff5b00"/><stop offset="0.3112" stop-color="#ff6400"/><stop offset="0.3119" stop-color="#ff6b00"/><stop offset="0.3225" stop-color="#ff7500"/><stop offset="0.3233" stop-color="#ff7b00"/><stop offset="0.3331" stop-color="#ff8400"/><stop offset="0.3338" stop-color="#ff8b00"/><stop offset="0.3444" stop-color="#ff9400"/><stop offset="0.3452" stop-color="#ff9b00"/><stop offset="0.3557" stop-color="#ffa400"/><stop offset="0.3565" stop-color="#ffab00"/><stop offset="0.3663" stop-color="#ffb300"/><stop offset="0.3671" stop-color="#ffbb00"/><stop offset="0.3784" stop-color="#ffc300"/><stop offset="0.3792" stop-color="#ffcc00"/><stop offset="0.3905" stop-color="#ffd400"/><stop offset="0.3912" stop-color="#ffdb00"/><stop offset="0.4003" stop-color="#ffe400"/><stop offset="0.4147" stop-color="#ffff00"/><stop offset="0.4335" stop-color="#daff25"/><stop offset="0.4705" stop-color="#83ff7c"/><stop offset="0.5128" stop-color="#15ffea"/><stop offset="0.5242" stop-color="#00ffff"/><stop offset="0.5461" stop-color="#00d7ff"/><stop offset="0.5899" stop-color="#006cff"/><stop offset="0.614" stop-color="#0036ff"/><stop offset="0.648" stop-color="#0000ff"/><stop offset="0.6533" stop-color="#0000fb"/><stop offset="0.6541" stop-color="#0000f3"/><stop offset="0.6662" stop-color="#0000ed"/><stop offset="0.6669" stop-color="#0000e1"/><stop offset="0.6798" stop-color="#0000dd"/><stop offset="0.6805" stop-color="#0000d1"/><stop offset="0.6986" stop-color="#0000cf"/><stop offset="0.6994" stop-color="#0000bf"/><stop offset="0.7213" stop-color="#0000bf"/><stop offset="0.7221" stop-color="#0000af"/><stop offset="0.7447" stop-color="#0000af"/><stop offset="0.7455" stop-color="#00009f"/><stop offset="0.7757" stop-color="#00009f"/><stop offset="0.7764" stop-color="#00008f"/><stop offset="0.8369" stop-color="#00008f"/><stop offset="0.8376" stop-color="#00009f"/><stop offset="0.8527" stop-color="#0000a1"/><stop offset="0.8535" stop-color="#0000ad"/><stop offset="0.8656" stop-color="#0000b2"/><stop offset="0.8663" stop-color="#0000bc"/><stop offset="0.8784" stop-color="#0000c2"/><stop offset="0.8792" stop-color="#0000cc"/><stop offset="0.8912" stop-color="#0000d3"/><stop offset="0.892" stop-color="#0000db"/><stop offset="0.9011" stop-color="#0000e3"/><stop offset="0.9154" stop-color="#0000ff"/><stop offset="0.9358" stop-color="#0026ff"/><stop offset="0.9585" stop-color="#006cff"/><stop offset="0.9819" stop-color="#00ccff"/><stop offset="0.9894" stop-color="#00ffff"/><stop offset="1" stop-color="#4fffb0"/></linearGradient>
<linearGradient id="r42"><stop offset="0" stop-color="#8f0000"/><stop offset="0.01888" stop-color="#8f0000"/><stop offset="0.01964" stop-color="#9f0000"/><stop offset="0.1148" stop-color="#9f0000"/><stop offset="0.1156" stop-color="#af0000"/><stop offset="0.1397" stop-color="#af0000"/><stop offset="0.1405" stop-color="#bf0000"/><stop offset="0.1631" stop-color="#bf0000"/><stop offset="0.1639" stop-color="#cf0000"/><stop offset="0.1843" stop-color="#cf0000"/><stop offset="0.185" stop-color="#df0000"/><stop offset="0.2054" stop-color="#df0000"/><stop offset="0.2062" stop-color="#ef0000"/><stop offset="0.2258" stop-color="#ef0000"/><stop offset="0.2266" stop-color="#ff0000"/><stop offset="0.2447" stop-color="#ff0000"/><stop offset="0.2455" stop-color="#ff1000"/><stop offset="0.2628" stop-color="#ff1200"/><stop offset="0.2636" stop-color="#ff1300"/><stop offset="0.2644" stop-color="#ff1c00"/><stop offset="0.2727" stop-color="#ff2600"/><stop offset="0.2931" stop-color="#ff4900"/><stop offset="0.3029" stop-color="#ff5500"/><stop offset="0.3036" stop-color="#ff5b00"/><stop offset="0.3134" stop-color="#ff6400"/><stop offset="0.3142" stop-color="#ff6b00"/><stop offset="0.3248" stop-color="#ff7400"/><stop offset="0.3255" stop-color="#ff7b00"/><stop offset="0.3361" stop-color="#ff8400"/><stop offset="0.3369" stop-color="#ff8b00"/><stop offset="0.3467" stop-color="#ff9400"/><stop offset="0.3474" stop-color="#ff9b00"/><stop offset="0.358" stop-color="#ffa400"/><stop offset="0.3588" stop-color="#ffab00"/><stop offset="0.3693" stop-color="#ffb300"/><stop offset="0.3701" stop-color="#ffbc00"/><stop offset="0.3814" stop-color="#ffc300"/><stop offset="0.3822" stop-color="#ffcc00"/><stop offset="0.3935" stop-color="#ffd400"/><stop offset="0.3943" stop-color="#ffdb00"/><stop offset="0.4011" stop-color="#ffe100"/><stop offset="0.4169" stop-color="#ffff00"/><stop offset="0.4328" stop-color="#e1ff1e"/><stop offset="0.4705" stop-color="#88ff77"/><stop offset="0.5128" stop-color="#19ffe6"/><stop offset="0.5272" stop-color="#00feff"/><stop offset="0.5461" stop-color="#00dcff"/><stop offset="0.5899" stop-color="#0071ff"/><stop offset="0.614" stop-color="#003bff"/><stop offset="0.6518" stop-color="#0000ff"/><stop offset="0.6571" stop-color="#0000fc"/><stop offset="0.6579" stop-color="#0000f2"/><stop offset="0.6707" stop-color="#0000ed"/><stop offset="0.6715" stop-color="#0000e1"/><stop offset="0.6843" stop-color="#0000df"/><stop offset="0.685" stop-color="#0000cf"/><stop offset="0.7054" stop-color="#0000cf"/><stop offset="0.7062" stop-color="#0000bf"/><stop offset="0.7281" stop-color="#0000bf"/><stop offset="0.7289" stop-color="#0000af"/><stop offset="0.7508" stop-color="#0000af"/><stop offset="0.7515" stop-color="#00009f"/><stop offset="0.7832" stop-color="#00009f"/><stop offset="0.784" stop-color="#00008f"/><stop offset="0.8346" stop-color="#00008f"/><stop offset="0.8353" stop-color="#00009f"/><stop offset="0.8505" stop-color="#0000a2"/><stop offset="0.8512" stop-color="#0000ad"/><stop offset="0.8633" stop-color="#0000b3"/><stop offset="0.864" stop-color="#0000bc"/><stop offset="0.8761" stop-color="#0000c2"/><stop offset="0.8769" stop-color="#0000cd"/><stop offset="0.8882" stop-color="#0000d2"/><stop offset="0.889" stop-color="#0000dc"/><stop offset="0.9003" stop-color="#0000e3"/><stop offset="0.9011" stop-color="#0000eb"/><stop offset="0.9048" stop-color="#0000ed"/><stop offset="0.9139" stop-color="#0000fe"/><stop offset="0.9358" stop-color="#0028ff"/><stop offset="0.9585" stop-color="#006eff"/><stop offset="0.9819" stop-color="#00ceff"/><stop offset="0.9887" stop-color="#00fcff"/><stop offset="0.9909" stop-color="#0cfff3"/><stop offset="1" stop-color="#50ffaf"/></linearGradient>
<linearGradient id="r43"><stop offset="0" stop-color="#8f0000"/><stop offset="0.0423" stop-color="#8f0000"/><stop offset="0.04305" stop-color="#9f0000"/><stop offset="0.1193" stop-color="#9f0000"/><stop offset="0.1201" stop-color="#af0000"/><stop offset="0.1443" stop-color="#af0000"/><stop offset="0.145" stop-color="#bf0000"/><stop offset="0.1669" stop-color="#bf0000"/><stop offset="0.1677" stop-color="#cf0000"/><stop offset="0.1881" stop-color="#cf0000"/><stop offset="0.1888" stop-color="#df0000"/><stop offset="0.2092" stop-color="#df0000"/><stop offset="0.21" stop-color="#ef0000"/><stop offset="0.2296" stop-color="#ef0000"/><stop offset="0.2304" stop-color="#ff0000"/><stop offset="0.2485" stop-color="#ff0000"/><stop offset="0.2492" stop-color="#ff1000"/><stop offset="0.2636" stop-color="#ff1200"/><stop offset="0.2651" stop-color="#ff1400"/><stop offset="0.2659" stop-color="#ff1a00"/><stop offset="0.2749" stop-color="#ff2600"/><stop offset="0.2953" stop-color="#ff4900"/><stop offset="0.3051" stop-color="#ff5500"/><stop offset="0.3059" stop-color="#ff5b00"/><stop offset="0.3157" stop-color="#ff6400"/><stop offset="0.3165" stop-color="#ff6b00"/><stop offset="0.327" stop-color="#ff7400"/><stop offset="0.3278" stop-color="#ff7b00"/><stop offset="0.3384" stop-color="#ff8400"/><stop offset="0.3391" stop-color="#ff8b00"/><stop offset="0.3497" stop-color="#ff9400"/><stop offset="0.3505" stop-color="#ff9b00"/><stop offset="0.3603" stop-color="#ffa400"/><stop offset="0.361" stop-color="#ffab00"/><stop offset="0.3724" stop-color="#ffb300"/><stop offset="0.3731" stop-color="#ffbc00"/><stop offset="0.3844" stop-color="#ffc300"/><stop offset="0.3852" stop-color="#ffcc00"/><stop offset="0.3958" stop-color="#ffd300"/><stop offset="0.3965" stop-color="#ffdb00"/><stop offset="0.4018" stop-color="#ffdf00"/><stop offset="0.4192" stop-color="#ffff00"/><stop offset="0.4328" stop-color="#e5ff1a"/><stop offset="0.4705" stop-color="#8dff72"/><stop offset="0.5128" stop-color="#1effe1"/><stop offset="0.5295" stop-color="#00ffff"/><stop offset="0.5461" stop-color="#00e0ff"/><stop offset="0.5899" stop-color="#0077ff"/><stop offset="0.614" stop-color="#0041ff"/><stop offset="0.6292" stop-color="#002aff"/><stop offset="0.6299" stop-color="#0025ff"/><stop offset="0.639" stop-color="#001bff"/><stop offset="0.6397" stop-color="#0016ff"/><stop offset="0.6495" stop-color="#000bff"/><stop offset="0.6503" stop-color="#0005ff"/><stop offset="0.6548" stop-color="#0001ff"/><stop offset="0.6616" stop-color="#0000fc"/><stop offset="0.6624" stop-color="#0000f2"/><stop offset="0.6745" stop-color="#0000ed"/><stop offset="0.6752" stop-color="#0000e2"/><stop offset="0.6911" stop-color="#0000df"/><stop offset="0.6918" stop-color="#0000cf"/><stop offset="0.7122" stop-color="#0000cf"/><stop offset="0.713" stop-color="#0000bf"/><stop offset="0.7349" stop-color="#0000bf"/><stop offset="0.7356" stop-color="#0000af"/><stop offset="0.7568" stop-color="#0000af"/><stop offset="0.7576" stop-color="#00009f"/><stop offset="0.79" stop-color="#00009f"/><stop offset="0.7908" stop-color="#00008f"/><stop offset="0.8293" stop-color="#00008f"/><stop offset="0.8301" stop-color="#00009f"/><stop offset="0.8474" stop-color="#0000a2"/><stop offset="0.8482" stop-color="#0000ad"/><stop offset="0.8603" stop-color="#0000b3"/><stop offset="0.861" stop-color="#0000bc"/><stop offset="0.8731" stop-color="#0000c2"/><stop offset="0.8739" stop-color="#0000cd"/><stop offset="0.886" stop-color="#0000d2"/><stop offset="0.8867" stop-color="#0000dc"/><stop offset="0.898" stop-color="#0000e3"/><stop offset="0.8988" stop-color="#0000eb"/><stop offset="0.9041" stop-color="#0000ee"/><stop offset="0.9124" stop-color="#0000fe"/><stop offset="0.9358" stop-color="#002aff"/><stop offset="0.9585" stop-color="#0070ff"/><stop offset="0.9819" stop-color="#00d0ff"/><stop offset="0.9887" stop-color="#00fdff"/><stop offset="1" stop-color="#50ffaf"/></linearGradient>
<linearGradient id="r44"><stop offset="0" stop-color="#8f0000"/><stop offset="0.06571" stop-color="#8f0000"/><stop offset="0.06647" stop-color="#9f0000"/><stop offset="0.1239" stop-color="#9f0000"/><stop offset="0.1246" stop-color="#af0000"/><stop offset="0.148" stop-color="#af0000"/><stop offset="0.1488" stop-color="#bf0000"/><stop offset="0.1707" stop-color="#bf0000"/><stop offset="0.1715" stop-color="#cf0000"/><stop offset="0.1918" stop-color="#cf0000"/><stop offset="0.1926" stop-color="#df0000"/><stop offset="0.213" stop-color="#df0000"/><stop offset="0.2137" stop-color="#ef0000"/><stop offset="0.2334" stop-color="#ef0000"/><stop offset="0.2341" stop-color="#ff0000"/><stop offset="0.2523" stop-color="#ff0000"/><stop offset="0.253" stop-color="#ff1000"/><stop offset="0.2644" stop-color="#ff1100"/><stop offset="0.2976" stop-color="#ff4a00"/><stop offset="0.3074" stop-color="#ff5500"/><stop offset="0.3082" stop-color="#ff5b00"/><stop offset="0.318" stop-color="#ff6400"/><stop offset="0.3187" stop-color="#ff6b00"/><stop offset="0.3293" stop-color="#ff7400"/><stop offset="0.3301" stop-color="#ff7b00"/><stop offset="0.3406" stop-color="#ff8400"/><stop offset="0.3414" stop-color="#ff8b00"/><stop offset="0.352" stop-color="#ff9400"/><stop offset="0.3527" stop-color="#ff9b00"/><stop offset="0.3625" stop-color="#ffa400"/><stop offset="0.3633" stop-color="#ffab00"/><stop offset="0.3746" stop-color="#ffb300"/><stop offset="0.3754" stop-color="#ffbc00"/><stop offset="0.3867" stop-color="#ffc300"/><stop offset="0.3875" stop-color="#ffcb00"/><stop offset="0.3988" stop-color="#ffd400"/><stop offset="0.3995" stop-color="#ffda00"/><stop offset="0.4215" stop-color="#feff01"/><stop offset="0.4328" stop-color="#e9ff16"/><stop offset="0.4705" stop-color="#91ff6e"/><stop offset="0.5128" stop-color="#22ffdd"/><stop offset="0.5317" stop-color="#00ffff"/><stop offset="0.5461" stop-color="#00e5ff"/><stop offset="0.5899" stop-color="#007cff"/><stop offset="0.614" stop-color="#0046ff"/><stop offset="0.6322" stop-color="#002aff"/><stop offset="0.6329" stop-color="#0026ff"/><stop offset="0.6427" stop-color="#001aff"/><stop offset="0.6435" stop-color="#0015ff"/><stop offset="0.6533" stop-color="#000cff"/><stop offset="0.6541" stop-color="#0004ff"/><stop offset="0.6556" stop-color="#0003ff"/><stop offset="0.6662" stop-color="#0000fc"/><stop offset="0.6669" stop-color="#0000f2"/><stop offset="0.679" stop-color="#0000ed"/><stop offset="0.6798" stop-color="#0000e2"/><stop offset="0.6813" stop-color="#0000e0"/><stop offset="0.6979" stop-color="#0000df"/><stop offset="0.6986" stop-color="#0000cf"/><stop offset="0.7198" stop-color="#0000cf"/><stop offset="0.7205" stop-color="#0000bf"/><stop offset="0.7409" stop-color="#0000bf"/><stop offset="0.7417" stop-color="#0000af"/><stop offset="0.7636" stop-color="#0000af"/><stop offset="0.7644" stop-color="#00009f"/><stop offset="0.7968" stop-color="#00009f"/><stop offset="0.7976" stop-color="#00008f"/><stop offset="0.8172" stop-color="#00008f"/><stop offset="0.818" stop-color="#00009f"/><stop offset="0.8452" stop-color="#0000a2"/><stop offset="0.8459" stop-color="#0000ad"/><stop offset="0.858" stop-color="#0000b3"/><stop offset="0.8588" stop-color="#0000bc"/><stop offset="0.8701" stop-color="#0000c2"/><stop offset="0.8708" stop-color="#0000cd"/><stop offset="0.8837" stop-color="#0000d2"/><stop offset="0.8844" stop-color="#0000dd"/><stop offset="0.8965" stop-color="#0000e3"/><stop offset="0.8973" stop-color="#0000ec"/><stop offset="0.9041" stop-color="#0000f1"/><stop offset="0.9116" stop-color="#0000ff"/><stop offset="0.9358" stop-color="#002cff"/><stop offset="0.9585" stop-color="#0072ff"/><stop offset="0.9819" stop-color="#00d1ff"/><stop offset="0.9887" stop-color="#00ffff"/><stop offset="1" stop-color="#51ffae"/></linearGradient>
<linearGradient id="r45"><stop offset="0" stop-color="#8f0000"/><stop offset="0.08686" stop-color="#8f0000"/><stop offset="0.08761" stop-color="#9f0000"/><stop offset="0.1276" stop-color="#9f0000"/><stop offset="0.1284" stop-color="#af0000"/><stop offset="0.1518" stop-color="#af0000"/><stop offset="0.1526" stop-color="#bf0000"/><stop offset="0.1745" stop-color="#bf0000"/><stop offset="0.1752" stop-color="#cf0000"/><stop offset="0.1956" stop-color="#cf0000"/><stop offset="0.1964" stop-color="#df0000"/><stop offset="0.2168" stop-color="#df0000"/><stop offset="0.2175" stop-color="#ef0000"/><stop offset="0.2364" stop-color="#ef0000"/><stop offset="0.2372" stop-color="#ff0000"/><stop offset="0.256" stop-color="#ff0000"/><stop offset="0.2568" stop-color="#ff1000"/><stop offset="0.2659" stop-color="#ff1100"/><stop offset="0.2983" stop-color="#ff4500"/><stop offset="0.2991" stop-color="#ff4a00"/><stop offset="0.3097" stop-color="#ff5500"/><stop offset="0.3104" stop-color="#ff5b00"/><stop offset="0.3202" stop-color="#ff6400"/><stop offset="0.321" stop-color="#ff6b00"/><stop offset="0.3316" stop-color="#ff7400"/><stop offset="0.3323" stop-color="#ff7b00"/><stop offset="0.3429" stop-color="#ff8400"/><stop offset="0.3437" stop-color="#ff8b00"/><stop offset="0.3542" stop-color="#ff9400"/><stop offset="0.355" stop-color="#ff9b00"/><stop offset="0.3656" stop-color="#ffa400"/><stop offset="0.3663" stop-color="#ffab00"/><stop offset="0.3769" stop-color="#ffb200"/><stop offset="0.3776" stop-color="#ffbc00"/><stop offset="0.3897" stop-color="#ffc300"/><stop offset="0.3905" stop-color="#ffcc00"/><stop offset="0.4003" stop-color="#ffd400"/><stop offset="0.4237" stop-color="#feff01"/><stop offset="0.4328" stop-color="#eeff11"/><stop offset="0.4705" stop-color="#96ff69"/><stop offset="0.5128" stop-color="#26ffd9"/><stop offset="0.5347" stop-color="#00feff"/><stop offset="0.5461" stop-color="#00eaff"/><stop offset="0.614" stop-color="#004bff"/><stop offset="0.6254" stop-color="#003aff"/><stop offset="0.6261" stop-color="#0036ff"/><stop offset="0.636" stop-color="#002aff"/><stop offset="0.6367" stop-color="#0025ff"/><stop offset="0.6465" stop-color="#001aff"/><stop offset="0.6473" stop-color="#0015ff"/><stop offset="0.6579" stop-color="#000dff"/><stop offset="0.6586" stop-color="#0003ff"/><stop offset="0.6707" stop-color="#0000fc"/><stop offset="0.6715" stop-color="#0000f2"/><stop offset="0.6835" stop-color="#0000ef"/><stop offset="0.6843" stop-color="#0000df"/><stop offset="0.7047" stop-color="#0000df"/><stop offset="0.7054" stop-color="#0000cf"/><stop offset="0.7266" stop-color="#0000cf"/><stop offset="0.7273" stop-color="#0000bf"/><stop offset="0.747" stop-color="#0000bf"/><stop offset="0.7477" stop-color="#0000af"/><stop offset="0.7696" stop-color="#0000af"/><stop offset="0.7704" stop-color="#00009f"/><stop offset="0.8421" stop-color="#0000a2"/><stop offset="0.8429" stop-color="#0000ad"/><stop offset="0.855" stop-color="#0000b3"/><stop offset="0.8557" stop-color="#0000bc"/><stop offset="0.8671" stop-color="#0000c2"/><stop offset="0.8678" stop-color="#0000cc"/><stop offset="0.8807" stop-color="#0000d1"/><stop offset="0.8814" stop-color="#0000dd"/><stop offset="0.8935" stop-color="#0000e2"/><stop offset="0.8943" stop-color="#0000ec"/><stop offset="0.9033" stop-color="#0000f1"/><stop offset="0.9101" stop-color="#0000ff"/><stop offset="0.9358" stop-color="#002fff"/><stop offset="0.9585" stop-color="#0074ff"/><stop offset="0.9819" stop-color="#00d3ff"/><stop offset="0.9879" stop-color="#00fcff"/><stop offset="0.9909" stop-color="#11ffee"/><stop offset="1" stop-color="#52ffad"/></linearGradient>
<linearGradient id="r46"><stop offset="0" stop-color="#8f0000"/><stop offset="0.1073" stop-color="#8f0000"/><stop offset="0.108" stop-color="#9f0000"/><stop offset="0.1314" stop-color="#9f0000"/><stop offset="0.1322" stop-color="#af0000"/><stop offset="0.1563" stop-color="#af0000"/><stop offset="0.1571" stop-color="#bf0000"/><stop offset="0.1782" stop-color="#bf0000"/><stop offset="0.179" stop-color="#cf0000"/><stop offset="0.1994" stop-color="#cf0000"/><stop offset="0.2002" stop-color="#df0000"/><stop offset="0.2205" stop-color="#df0000"/><stop offset="0.2213" stop-color="#ef0000"/><stop offset="0.2402" stop-color="#ef0000"/><stop offset="0.2409" stop-color="#ff0000"/><stop offset="0.2598" stop-color="#ff0000"/><stop offset="0.2606" stop-color="#ff1000"/><stop offset="0.2651" stop-color="#ff0e00"/><stop offset="0.2711" stop-color="#ff1600"/><stop offset="0.2915" stop-color="#ff3a00"/><stop offset="0.3006" stop-color="#ff4500"/><stop offset="0.3014" stop-color="#ff4b00"/><stop offset="0.3112" stop-color="#ff5400"/><stop offset="0.3119" stop-color="#ff5b00"/><stop offset="0.3225" stop-color="#ff6400"/><stop offset="0.3233" stop-color="#ff6b00"/><stop offset="0.3338" stop-color="#ff7400"/><stop offset="0.3346" stop-color="#ff7b00"/><stop offset="0.3452" stop-color="#ff8400"/><stop offset="0.3459" stop-color="#ff8b00"/><stop offset="0.3565" stop-color="#ff9400"/><stop offset="0.3573" stop-color="#ff9b00"/><stop offset="0.3671" stop-color="#ffa300"/><stop offset="0.3678" stop-color="#ffab00"/><stop offset="0.3799" stop-color="#ffb300"/><stop offset="0.3807" stop-color="#ffbc00"/><stop offset="0.392" stop-color="#ffc300"/><stop offset="0.3927" stop-color="#ffcc00"/><stop offset="0.4011" stop-color="#ffd200"/><stop offset="0.426" stop-color="#feff01"/><stop offset="0.4335" stop-color="#f0ff0f"/><stop offset="0.4705" stop-color="#9aff65"/><stop offset="0.5128" stop-color="#2affd5"/><stop offset="0.537" stop-color="#00feff"/><stop offset="0.5461" stop-color="#00eeff"/><stop offset="0.614" stop-color="#0050ff"/><stop offset="0.6186" stop-color="#004aff"/><stop offset="0.6193" stop-color="#0046ff"/><stop offset="0.6292" stop-color="#003aff"/><stop offset="0.6299" stop-color="#0035ff"/><stop offset="0.639" stop-color="#002bff"/><stop offset="0.6397" stop-color="#0026ff"/><stop offset="0.6495" stop-color="#001bff"/><stop offset="0.6503" stop-color="#0015ff"/><stop offset="0.6616" stop-color="#000dff"/><stop offset="0.6624" stop-color="#0003ff"/><stop offset="0.6745" stop-color="#0000fc"/><stop offset="0.6752" stop-color="#0000f2"/><stop offset="0.6903" stop-color="#0000ef"/><stop offset="0.6911" stop-color="#0000df"/><stop offset="0.7115" stop-color="#0000df"/><stop offset="0.7122" stop-color="#0000cf"/><stop offset="0.7326" stop-color="#0000cf"/><stop offset="0.7334" stop-color="#0000bf"/><stop offset="0.753" stop-color="#0000bf"/><stop offset="0.7538" stop-color="#0000af"/><stop offset="0.7764" stop-color="#0000af"/><stop offset="0.7772" stop-color="#00009f"/><stop offset="0.8399" stop-color="#0000a2"/><stop offset="0.8406" stop-color="#0000ad"/><stop offset="0.8527" stop-color="#0000b3"/><stop offset="0.8535" stop-color="#0000bc"/><stop offset="0.864" stop-color="#0000c3"/><stop offset="0.8648" stop-color="#0000cb"/><stop offset="0.8776" stop-color="#0000d1"/><stop offset="0.8784" stop-color="#0000dd"/><stop offset="0.8912" stop-color="#0000e1"/><stop offset="0.892" stop-color="#0000ed"/><stop offset="0.9018" stop-color="#0000f1"/><stop offset="0.9086" stop-color="#0000fe"/><stop offset="0.9358" stop-color="#0031ff"/><stop offset="0.9585" stop-color="#0077ff"/><stop offset="0.9819" stop-color="#00d5ff"/><stop offset="0.9879" stop-color="#00fdff"/><stop offset="1" stop-color="#52ffad"/></linearGradient>
<linearGradient id="r47"><stop offset="0" stop-color="#8f0000"/><stop offset="0.111" stop-color="#8f0000"/><stop offset="0.1118" stop-color="#9f0000"/><stop offset="0.1352" stop-color="#9f0000"/><stop offset="0.136" stop-color="#af0000"/><stop offset="0.1601" stop-color="#af0000"/><stop offset="0.1609" stop-color="#bf0000"/><stop offset="0.1813" stop-color="#bf0000"/><stop offset="0.182" stop-color="#cf0000"/><stop offset="0.2024" stop-color="#cf0000"/><stop offset="0.2032" stop-color="#df0000"/><stop offset="0.2236" stop-color="#df0000"/><stop offset="0.2243" stop-color="#ef0000"/><stop offset="0.244" stop-color="#ef0000"/><stop offset="0.2447" stop-color="#ff0000"/><stop offset="0.2613" stop-color="#ff0000"/><stop offset="0.2636" stop-color="#ff0300"/><stop offset="0.2644" stop-color="#ff0c00"/><stop offset="0.2734" stop-color="#ff1700"/><stop offset="0.2931" stop-color="#ff3900"/><stop offset="0.3029" stop-color="#ff4500"/><stop offset="0.3036" stop-color="#ff4b00"/><stop offset="0.3134" stop-color="#ff5400"/><stop offset="0.3142" stop-color="#ff5b00"/><stop offset="0.3248" stop-color="#ff6400"/><stop offset="0.3255" stop-color="#ff6b00"/><stop offset="0.3361" stop-color="#ff7400"/><stop offset="0.3369" stop-color="#ff7b00"/><stop offset="0.3474" stop-color="#ff8400"/><stop offset="0.3482" stop-color="#ff8b00"/><stop offset="0.358" stop-color="#ff9400"/><stop offset="0.3588" stop-color="#ff9b00"/><stop offset="0.3701" stop-color="#ffa300"/><stop offset="0.3708" stop-color="#ffac00"/><stop offset="0.3822" stop-color="#ffb200"/><stop offset="0.3829" stop-color="#ffbc00"/><stop offset="0.3943" stop-color="#ffc200"/><stop offset="0.395" stop-color="#ffcc00"/><stop offset="0.4018" stop-color="#ffd000"/><stop offset="0.4282" stop-color="#feff01"/><stop offset="0.4705" stop-color="#9eff61"/><stop offset="0.5128" stop-color="#2effd1"/><stop offset="0.5393" stop-color="#00ffff"/><stop offset="0.5461" stop-color="#00f3ff"/><stop offset="0.614" stop-color="#0055ff"/><stop offset="0.6224" stop-color="#004aff"/><stop offset="0.6231" stop-color="#0045ff"/><stop offset="0.6322" stop-color="#003bff"/><stop offset="0.6329" stop-color="#0036ff"/><stop offset="0.6427" stop-color="#002aff"/><stop offset="0.6435" stop-color="#0025ff"/><stop offset="0.6533" stop-color="#001cff"/><stop offset="0.6541" stop-color="#0014ff"/><stop offset="0.6662" stop-color="#000dff"/><stop offset="0.6669" stop-color="#0003ff"/><stop offset="0.679" stop-color="#0000fc"/><stop offset="0.6798" stop-color="#0000f2"/><stop offset="0.6828" stop-color="#0000f0"/><stop offset="0.6971" stop-color="#0000ef"/><stop offset="0.6979" stop-color="#0000df"/><stop offset="0.7183" stop-color="#0000df"/><stop offset="0.719" stop-color="#0000cf"/><stop offset="0.7394" stop-color="#0000cf"/><stop offset="0.7402" stop-color="#0000bf"/><stop offset="0.7591" stop-color="#0000bf"/><stop offset="0.7598" stop-color="#0000af"/><stop offset="0.7832" stop-color="#0000af"/><stop offset="0.784" stop-color="#00009f"/><stop offset="0.8353" stop-color="#0000a0"/><stop offset="0.8376" stop-color="#0000a2"/><stop offset="0.8384" stop-color="#0000ad"/><stop offset="0.8497" stop-color="#0000b3"/><stop offset="0.8505" stop-color="#0000bc"/><stop offset="0.8618" stop-color="#0000c3"/><stop offset="0.8625" stop-color="#0000cb"/><stop offset="0.8746" stop-color="#0000d1"/><stop offset="0.8754" stop-color="#0000dd"/><stop offset="0.889" stop-color="#0000e1"/><stop offset="0.8897" stop-color="#0000ed"/><stop offset="0.9011" stop-color="#0000f1"/><stop offset="0.9026" stop-color="#0000f3"/><stop offset="0.9033" stop-color="#0000fb"/><stop offset="0.9071" stop-color="#0000fe"/><stop offset="0.9358" stop-color="#0033ff"/><stop offset="0.9547" stop-color="#006dff"/><stop offset="0.9592" stop-color="#007bff"/><stop offset="0.9819" stop-color="#00d7ff"/><stop offset="0.9879" stop-color="#00ffff"/><stop offset="1" stop-color="#53ffac"/></linearGradient>
<linearGradient id="r48"><stop offset="0" stop-color="#8f0000"/><stop offset="0.1148" stop-color="#8f0000"/><stop offset="0.1156" stop-color="#9f0000"/><stop offset="0.139" stop-color="#9f0000"/><stop offset="0.1397" stop-color="#af0000"/><stop offset="0.1631" stop-color="#af0000"/><stop offset="0.1639" stop-color="#bf0000"/><stop offset="0.185" stop-color="#bf0000"/><stop offset="0.1858" stop-color="#cf0000"/><stop offset="0.2062" stop-color="#cf0000"/><stop offset="0.2069" stop-color="#df0000"/><stop offset="0.2273" stop-color="#df0000"/><stop offset="0.2281" stop-color="#ef0000"/><stop offset="0.247" stop-color="#ef0000"/><stop offset="0.2477" stop-color="#ff0000"/><stop offset="0.2621" stop-color="#ff0100"/><stop offset="0.2651" stop-color="#ff0500"/><stop offset="0.2659" stop-color="#ff0a00"/><stop offset="0.2953" stop-color="#ff3a00"/><stop offset="0.3044" stop-color="#ff4400"/><stop offset="0.3051" stop-color="#ff4b00"/><stop offset="0.3157" stop-color="#ff5500"/><stop offset="0.3165" stop-color="#ff5b00"/><stop offset="0.3263" stop-color="#ff6400"/><stop offset="0.327" stop-color="#ff6b00"/><stop offset="0.3376" stop-color="#ff7400"/><stop offset="0.3384" stop-color="#ff7b00"/><stop offset="0.3489" stop-color="#ff8400"/><stop offset="0.3497" stop-color="#ff8b00"/><stop offset="0.3603" stop-color="#ff9400"/><stop offset="0.361" stop-color="#ff9b00"/><stop offset="0.3724" stop-color="#ffa300"/><stop offset="0.3731" stop-color="#ffac00"/><stop offset="0.3844" stop-color="#ffb200"/><stop offset="0.3852" stop-color="#ffbc00"/><stop offset="0.3973" stop-color="#ffc300"/><stop offset="0.398" stop-color="#ffcc00"/><stop offset="0.4026" stop-color="#ffcf00"/><stop offset="0.4298" stop-color="#ffff00"/><stop offset="0.4705" stop-color="#a2ff5d"/><stop offset="0.5128" stop-color="#32ffcd"/><stop offset="0.5415" stop-color="#00ffff"/><stop offset="0.5461" stop-color="#00f7ff"/><stop offset="0.6148" stop-color="#0059ff"/><stop offset="0.6254" stop-color="#004aff"/><stop offset="0.6261" stop-color="#0045ff"/><stop offset="0.636" stop-color="#003aff"/><stop offset="0.6367" stop-color="#0035ff"/><stop offset="0.6465" stop-color="#002aff"/><stop offset="0.6473" stop-color="#0025ff"/><stop offset="0.6579" stop-color="#001dff"/><stop offset="0.6586" stop-color="#0013ff"/><stop offset="0.6707" stop-color="#000dff"/><stop offset="0.6715" stop-color="#0003ff"/><stop offset="0.6835" stop-color="#0000fe"/><stop offset="0.6843" stop-color="#0000ef"/><stop offset="0.7039" stop-color="#0000ef"/><stop offset="0.7047" stop-color="#0000df"/><stop offset="0.7251" stop-color="#0000df"/><stop offset="0.7258" stop-color="#0000cf"/><stop offset="0.7455" stop-color="#0000cf"/><stop offset="0.7462" stop-color="#0000bf"/><stop offset="0.7651" stop-color="#0000bf"/><stop offset="0.7659" stop-color="#0000af"/><stop offset="0.7885" stop-color="#0000af"/><stop offset="0.7893" stop-color="#00009f"/><stop offset="0.8346" stop-color="#00009f"/><stop offset="0.8353" stop-color="#0000af"/><stop offset="0.8474" stop-color="#0000b3"/><stop offset="0.8482" stop-color="#0000bc"/><stop offset="0.8595" stop-color="#0000c3"/><stop offset="0.8603" stop-color="#0000cb"/><stop offset="0.8716" stop-color="#0000d1"/><stop offset="0.8724" stop-color="#0000de"/><stop offset="0.886" stop-color="#0000e1"/><stop offset="0.8867" stop-color="#0000ed"/><stop offset="0.8995" stop-color="#0000f1"/><stop offset="0.9003" stop-color="#0000fd"/><stop offset="0.9056" stop-color="#0000fe"/><stop offset="0.9366" stop-color="#0037ff"/><stop offset="0.9592" stop-color="#007dff"/><stop offset="0.9819" stop-color="#00d9ff"/><stop offset="0.9872" stop-color="#00fcff"/><stop offset="0.9879" stop-color="#02fffd"/><stop offset="1" stop-color="#54ffab"/></linearGradient>
<linearGradient id="r49"><stop offset="0" stop-color="#800000"/><stop offset="0.01964" stop-color="#800000"/><stop offset="0.02039" stop-color="#8f0000"/><stop offset="0.1178" stop-color="#8f0000"/><stop offset="0.1186" stop-color="#9f0000"/><stop offset="0.1427" stop-color="#9f0000"/><stop offset="0.1435" stop-color="#af0000"/><stop offset="0.1662" stop-color="#af0000"/><stop offset="0.1669" stop-color="#bf0000"/><stop offset="0.1881" stop-color="#bf0000"/><stop offset="0.1888" stop-color="#cf0000"/><stop offset="0.2092" stop-color="#cf0000"/><stop offset="0.21" stop-color="#df0000"/><stop offset="0.2304" stop-color="#df0000"/><stop offset="0.2311" stop-color="#ef0000"/><stop offset="0.2508" stop-color="#ef0000"/><stop offset="0.2515" stop-color="#ff0000"/><stop offset="0.2628" stop-color="#ff0000"/><stop offset="0.2976" stop-color="#ff3b00"/><stop offset="0.3066" stop-color="#ff4500"/><stop offset="0.3074" stop-color="#ff4b00"/><stop offset="0.3172" stop-color="#ff5400"/><stop offset="0.318" stop-color="#ff5b00"/><stop offset="0.3285" stop-color="#ff6400"/><stop offset="0.3293" stop-color="#ff6b00"/><stop offset="0.3399" stop-color="#ff7400"/><stop offset="0.3406" stop-color="#ff7b00"/><stop offset="0.3512" stop-color="#ff8400"/><stop offset="0.352" stop-color="#ff8b00"/><stop offset="0.3625" stop-color="#ff9400"/><stop offset="0.3633" stop-color="#ff9b00"/><stop offset="0.3746" stop-color="#ffa200"/><stop offset="0.3754" stop-color="#ffac00"/><stop offset="0.3867" stop-color="#ffb200"/><stop offset="0.3875" stop-color="#ffbc00"/><stop offset="0.3995" stop-color="#ffc400"/><stop offset="0.4003" stop-color="#ffca00"/><stop offset="0.432" stop-color="#ffff00"/><stop offset="0.4705" stop-color="#a7ff58"/><stop offset="0.5128" stop-color="#37ffc8"/><stop offset="0.5446" stop-color="#00ffff"/><stop offset="0.614" stop-color="#005fff"/><stop offset="0.6186" stop-color="#005aff"/><stop offset="0.6193" stop-color="#0055ff"/><stop offset="0.6397" stop-color="#003aff"/><stop offset="0.6405" stop-color="#0035ff"/><stop offset="0.6495" stop-color="#002bff"/><stop offset="0.6503" stop-color="#0025ff"/><stop offset="0.6624" stop-color="#001dff"/><stop offset="0.6631" stop-color="#0013ff"/><stop offset="0.6745" stop-color="#000dff"/><stop offset="0.6752" stop-color="#0003ff"/><stop offset="0.6903" stop-color="#0000ff"/><stop offset="0.6911" stop-color="#0000ef"/><stop offset="0.7107" stop-color="#0000ef"/><stop offset="0.7115" stop-color="#0000df"/><stop offset="0.7319" stop-color="#0000df"/><stop offset="0.7326" stop-color="#0000cf"/><stop offset="0.7508" stop-color="#0000cf"/><stop offset="0.7515" stop-color="#0000bf"/><stop offset="0.7711" stop-color="#0000bf"/><stop offset="0.7719" stop-color="#0000af"/><stop offset="0.7946" stop-color="#0000af"/><stop offset="0.7953" stop-color="#00009f"/><stop offset="0.8293" stop-color="#00009f"/><stop offset="0.8301" stop-color="#0000af"/><stop offset="0.8369" stop-color="#0000ae"/><stop offset="0.8444" stop-color="#0000b3"/><stop offset="0.8452" stop-color="#0000bb"/><stop offset="0.8565" stop-color="#0000c3"/><stop offset="0.8573" stop-color="#0000cb"/><stop offset="0.8686" stop-color="#0000d1"/><stop offset="0.8693" stop-color="#0000dd"/><stop offset="0.8829" stop-color="#0000e1"/><stop offset="0.8837" stop-color="#0000ee"/><stop offset="0.8973" stop-color="#0000f1"/><stop offset="0.898" stop-color="#0000fd"/><stop offset="0.9041" stop-color="#0000fe"/><stop offset="0.9366" stop-color="#0039ff"/><stop offset="0.9592" stop-color="#0080ff"/><stop offset="0.9819" stop-color="#00daff"/><stop offset="0.9872" stop-color="#00feff"/><stop offset="1" stop-color="#54ffab"/></linearGradient>
<linearGradient id="s0"><stop offset="0" stop-color="#ffef00"/><stop offset="0.1639" stop-color="#ffef00"/><stop offset="0.1667" stop-color="#ffff00"/><stop offset="0.2944" stop-color="#ffff00"/><stop offset="0.2972" stop-color="#efff10"/><stop offset="0.3917" stop-color="#efff10"/><stop offset="0.3944" stop-color="#dfff20"/><stop offset="0.4889" stop-color="#dfff20"/><stop offset="0.4917" stop-color="#cfff30"/><stop offset="0.5833" stop-color="#cfff30"/><stop offset="0.5861" stop-color="#bfff40"/><stop offset="0.6667" stop-color="#beff41"/><stop offset="0.6694" stop-color="#b0ff4f"/><stop offset="0.7222" stop-color="#afff50"/><stop offset="0.725" stop-color="#a0ff5f"/><stop offset="0.7806" stop-color="#9fff60"/><stop offset="0.7833" stop-color="#90ff6f"/><stop offset="0.8361" stop-color="#8fff70"/><stop offset="0.8389" stop-color="#80ff7f"/><stop offset="0.8889" stop-color="#7bff84"/><stop offset="0.8917" stop-color="#74ff8b"/><stop offset="0.9278" stop-color="#6aff95"/><stop offset="0.9306" stop-color="#65ff9a"/><stop offset="0.9667" stop-color="#5affa5"/><stop offset="0.9694" stop-color="#55ffaa"/><stop offset="1" stop-color="#4cffb3"/></linearGradient>
<linearGradient id="s1"><stop offset="0" stop-color="#ffef00"/><stop offset="0.1722" stop-color="#ffef00"/><stop offset="0.175" stop-color="#ffff00"/><stop offset="0.2972" stop-color="#ffff00"/><stop offset="0.3" stop-color="#efff10"/><stop offset="0.3944" stop-color="#efff10"/><stop offset="0.3972" stop-color="#dfff20"/><stop offset="0.4917" stop-color="#dfff20"/><stop offset="0.4944" stop-color="#cfff30"/><stop offset="0.5861" stop-color="#cfff30"/><stop offset="0.5889" stop-color="#bfff40"/><stop offset="0.6667" stop-color="#beff41"/><stop offset="0.6694" stop-color="#b0ff4f"/><stop offset="0.725" stop-color="#aeff51"/><stop offset="0.7278" stop-color="#a0ff5f"/><stop offset="0.7806" stop-color="#9fff60"/><stop offset="0.7833" stop-color="#90ff6f"/><stop offset="0.8389" stop-color="#8fff70"/><stop offset="0.8417" stop-color="#80ff7f"/><stop offset="0.8889" stop-color="#7bff84"/><stop offset="0.8917" stop-color="#74ff8b"/><stop offset="0.9278" stop-color="#6aff95"/><stop offset="0.9306" stop-color="#65ff9a"/><stop offset="0.9667" stop-color="#5affa5"/><stop offset="0.9694" stop-color="#55ffaa"/><stop offset="1" stop-color="#4cffb3"/></linearGradient>
<linearGradient id="s2"><stop offset="0" stop-color="#ffef00"/><stop offset="0.1778" stop-color="#ffef00"/><stop offset="0.1806" stop-color="#ffff00"/><stop offset="0.3028" stop-color="#ffff00"/><stop offset="0.3056" stop-color="#efff10"/><stop offset="0.4" stop-color="#efff10"/><stop offset="0.4028" stop-color="#dfff20"/><stop offset="0.4944" stop-color="#dfff20"/><stop offset="0.4972" stop-color="#cfff30"/><stop offset="0.5889" stop-color="#cfff30"/><stop offset="0.5917" stop-color="#bfff40"/><stop offset="0.6694" stop-color="#beff41"/><stop offset="0.6722" stop-color="#b0ff4f"/><stop offset="0.725" stop-color="#aeff51"/><stop offset="0.7278" stop-color="#a0ff5f"/><stop offset="0.7806" stop-color="#9fff60"/><stop offset="0.7833" stop-color="#90ff6f"/><stop offset="0.8389" stop-color="#8fff70"/><stop offset="0.8417" stop-color="#80ff7f"/><stop offset="0.8889" stop-color="#7bff84"/><stop offset="0.8917" stop-color="#74ff8b"/><stop offset="0.9278" stop-color="#6aff95"/><stop offset="0.9306" stop-color="#65ff9a"/><stop offset="0.9667" stop-color="#5affa5"/><stop offset="0.9694" stop-color="#55ffaa"/><stop offset="1" stop-color="#4cffb3"/></linearGradient>
<linearGradient id="s3"><stop offset="0" stop-color="#ffef00"/><stop offset="0.1833" stop-color="#ffef00"/><stop offset="0.1861" stop-color="#ffff00"/><stop offset="0.3083" stop-color="#ffff00"/><stop offset="0.3111" stop-color="#efff10"/><stop offset="0.4028" stop-color="#efff10"/><stop offset="0.4056" stop-color="#dfff20"/><stop offset="0.4972" stop-color="#dfff20"/><stop offset="0.5" stop-color="#cfff30"/><stop offset="0.5917" stop-color="#cfff30"/><stop offset="0.5944" stop-color="#bfff40"/><stop offset="0.6722" stop-color="#beff41"/><stop offset="0.675" stop-color="#b0ff4f"/><stop offset="0.7278" stop-color="#aeff51"/><stop offset="0.7306" stop-color="#a0ff5f"/><stop offset="0.7833" stop-color="#9eff61"/><stop offset="0.7861" stop-color="#90ff6f"/><stop offset="0.8389" stop-color="#8eff71"/><stop offset="0.8417" stop-color="#80ff7f"/><stop offset="0.8889" stop-color="#7bff84"/><stop offset="0.8917" stop-color="#74ff8b"/><stop offset="0.9278" stop-color="#6aff95"/><stop offset="0.9306" stop-color="#65ff9a"/><stop offset="0.9667" stop-color="#5affa5"/><stop offset="0.9694" stop-color="#55ffaa"/><stop offset="1" stop-color="#4cffb3"/></linearGradient>
<linearGradient id="s4"><stop offset="0" stop-color="#ffef00"/><stop offset="0.1861" stop-color="#ffef00"/><stop offset="0.1889" stop-color="#ffff00"/><stop offset="0.3111" stop-color="#ffff00"/><stop offset="0.3139" stop-color="#efff10"/><stop offset="0.4083" stop-color="#efff10"/><stop offset="0.4111" stop-color="#dfff20"/><stop offset="0.5" stop-color="#dfff20"/><stop offset="0.5028" stop-color="#cfff30"/><stop offset="0.5917" stop-color="#cfff30"/><stop offset="0.5944" stop-color="#bfff40"/><stop offset="0.6722" stop-color="#beff41"/><stop offset="0.675" stop-color="#b0ff4f"/><stop offset="0.7278" stop-color="#aeff51"/><stop offset="0.7306" stop-color="#a0ff5f"/><stop offset="0.7833" stop-color="#9eff61"/><stop offset="0.7861" stop-color="#90ff6f"/><stop offset="0.8389" stop-color="#8eff71"/><stop offset="0.8417" stop-color="#81ff7e"/><stop offset="0.8889" stop-color="#7bff84"/><stop offset="0.8917" stop-color="#74ff8b"/><stop offset="0.9278" stop-color="#6aff95"/><stop offset="0.9306" stop-color="#65ff9a"/><stop offset="0.9667" stop-color="#5affa5"/><stop offset="0.9694" stop-color="#55ffaa"/><stop offset="1" stop-color="#4cffb3"/></linearGradient>
<linearGradient id="s5"><stop offset="0" stop-color="#ffef00"/><stop offset="0.1917" stop-color="#ffef00"/><stop offset="0.1944" stop-color="#ffff00"/><stop offset="0.3167" stop-color="#ffff00"/><stop offset="0.3194" stop-color="#efff10"/><stop offset="0.4111" stop-color="#efff10"/><stop offset="0.4139" stop-color="#dfff20"/><stop offset="0.5028" stop-color="#dfff20"/><stop offset="0.5056" stop-color="#cfff30"/><stop offset="0.5944" stop-color="#cfff30"/><stop offset="0.5972" stop-color="#bfff40"/><stop offset="0.675" stop-color="#beff41"/><stop offset="0.6778" stop-color="#b0ff4f"/><stop offset="0.7278" stop-color="#aeff51"/><stop offset="0.7306" stop-color="#a1ff5e"/><stop offset="0.7833" stop-color="#9eff61"/><stop offset="0.7861" stop-color="#91ff6e"/><stop offset="0.8389" stop-color="#8eff71"/><stop offset="0.8417" stop-color="#81ff7e"/><stop offset="0.8889" stop-color="#7bff84"/><stop offset="0.8917" stop-color="#74ff8b"/><stop offset="0.9278" stop-color="#6aff95"/><stop offset="0.9306" stop-color="#65ff9a"/><stop offset="0.9667" stop-color="#5affa5"/><stop offset="0.9694" stop-color="#55ffaa"/><stop offset="1" stop-color="#4cffb3"/></linearGradient>
<linearGradient id="s6"><stop offset="0" stop-color="#ffef00"/><stop offset="0.1972" stop-color="#ffef00"/><stop offset="0.2" stop-color="#ffff00"/><stop offset="0.3194" stop-color="#ffff00"/><stop offset="0.3222" stop-color="#efff10"/><stop offset="0.4139" stop-color="#efff10"/><stop offset="0.4167" stop-color="#dfff20"/><stop offset="0.5056" stop-color="#dfff20"/><stop offset="0.5083" stop-color="#cfff30"/><stop offset="0.5972" stop-color="#cfff30"/><stop offset="0.6" stop-color="#bfff40"/><stop offset="0.675" stop-color="#beff41"/><stop offset="0.6778" stop-color="#b1ff4e"/><stop offset="0.7306" stop-color="#aeff51"/><stop offset="0.7333" stop-color="#a1ff5e"/><stop offset="0.7861" stop-color="#9eff61"/><stop offset="0.7889" stop-color="#91ff6e"/><stop offset="0.8389" stop-color="#8eff71"/><stop offset="0.8417" stop-color="#81ff7e"/><stop offset="0.8889" stop-color="#7bff84"/><stop offset="0.8917" stop-color="#74ff8b"/><stop offset="0.9278" stop-color="#6aff95"/><stop offset="0.9306" stop-color="#65ff9a"/><stop offset="0.9667" stop-color="#5affa5"/><stop offset="0.9694" stop-color="#55ffaa"/><stop offset="1" stop-color="#4cffb3"/></linearGradient>
<linearGradient id="s7"><stop offset="0" stop-color="#ffef00"/><stop offset="0.2028" stop-color="#ffef00"/><stop offset="0.2056" stop-color="#ffff00"/><stop offset="0.325" stop-color="#ffff00"/><stop offset="0.3278" stop-color="#efff10"/><stop offset="0.4167" stop-color="#efff10"/><stop offset="0.4194" stop-color="#dfff20"/><stop offset="0.5083" stop-color="#dfff20"/><stop offset="0.5111" stop-color="#cfff30"/><stop offset="0.6" stop-color="#cfff30"/><stop offset="0.6028" stop-color="#bfff40"/><stop offset="0.6778" stop-color="#beff41"/><stop offset="0.6806" stop-color="#b1ff4e"/><stop offset="0.7306" stop-color="#aeff51"/><stop offset="0.7333" stop-color="#a1ff5e"/><stop offset="0.7861" stop-color="#9eff61"/><stop offset="0.7889" stop-color="#91ff6e"/><stop offset="0.8389" stop-color="#8eff71"/><stop offset="0.8417" stop-color="#81ff7e"/><stop offset="0.8889" stop-color="#7bff84"/><stop offset="0.8917" stop-color="#74ff8b"/><stop offset="0.9278" stop-color="#6aff95"/><stop offset="0.9306" stop-color="#65ff9a"/><stop offset="0.9667" stop-color="#5affa5"/><stop offset="0.9694" stop-color="#55ffaa"/><stop offset="1" stop-color="#4cffb3"/></linearGradient>
<linearGradient id="s8"><stop offset="0" stop-color="#ffef00"/><stop offset="0.2083" stop-color="#ffef00"/><stop offset="0.2111" stop-color="#ffff00"/><stop offset="0.3278" stop-color="#ffff00"/><stop offset="0.3306" stop-color="#efff10"/><stop offset="0.4222" stop-color="#efff10"/><stop offset="0.425" stop-color="#dfff20"/><stop offset="0.5111" stop-color="#dfff20"/><stop offset="0.5139" stop-color="#cfff30"/><stop offset="0.6028" stop-color="#cfff30"/><stop offset="0.6056" stop-color="#bfff40"/><stop offset="0.6778" stop-color="#beff41"/><stop offset="0.6806" stop-color="#b1ff4e"/><stop offset="0.7333" stop-color="#aeff51"/><stop offset="0.7361" stop-color="#a1ff5e"/><stop offset="0.7861" stop-color="#9eff61"/><stop offset="0.7889" stop-color="#91ff6e"/><stop offset="0.8389" stop-color="#8eff71"/><stop offset="0.8417" stop-color="#81ff7e"/><stop offset="0.8889" stop-color="#7bff84"/><stop offset="0.8917" stop-color="#74ff8b"/><stop offset="0.9278" stop-color="#6aff95"/><stop offset="0.9306" stop-color="#65ff9a"/><stop offset="0.9667" stop-color="#5affa5"/><stop offset="0.9694" stop-color="#55ffaa"/><stop offset="1" stop-color="#4cffb3"/></linearGradient>
<linearGradient id="s9"><stop offset="0" stop-color="#ffef00"/><stop offset="0.2139" stop-color="#ffef00"/><stop offset="0.2167" stop-color="#ffff00"/><stop offset="0.3333" stop-color="#ffff00"/><stop offset="0.3361" stop-color="#efff10"/><stop offset="0.425" stop-color="#efff10"/><stop offset="0.4278" stop-color="#dfff20"/><stop offset="0.5139" stop-color="#dfff20"/><stop offset="0.5167" stop-color="#cfff30"/><stop offset="0.6028" stop-color="#cfff30"/><stop offset="0.6056" stop-color="#bfff40"/><stop offset="0.6806" stop-color="#beff41"/><stop offset="0.6833" stop-color="#b1ff4e"/><stop offset="0.7333" stop-color="#aeff51"/><stop offset="0.7361" stop-color="#a1ff5e"/><stop offset="0.7861" stop-color="#9eff61"/><stop offset="0.7889" stop-color="#91ff6e"/><stop offset="0.8417" stop-color="#8eff71"/><stop offset="0.8444" stop-color="#81ff7e"/><stop offset="0.8889" stop-color="#7bff84"/><stop offset="0.8917" stop-color="#74ff8b"/><stop offset="0.9278" stop-color="#6aff95"/><stop offset="0.9306" stop-color="#65ff9a"/><stop offset="0.9667" stop-color="#5affa5"/><stop offset="0.9694" stop-color="#55ffaa"/><stop offset="1" stop-color="#4cffb3"/></linearGradient>
<linearGradient id="s10"><stop offset="0" stop-color="#ffef00"/><stop offset="0.2194" stop-color="#ffef00"/><stop offset="0.2222" stop-color="#ffff00"/><stop offset="0.3361" stop-color="#ffff00"/><stop offset="0.3389" stop-color="#efff10"/><stop offset="0.4278" stop-color="#efff10"/><stop offset="0.4306" stop-color="#dfff20"/><stop offset="0.5167" stop-color="#dfff20"/><stop offset="0.5194" stop-color="#cfff30"/><stop offset="0.6056" stop-color="#cfff30"/><stop offset="0.6083" stop-color="#bfff40"/><stop offset="0.6833" stop-color="#beff41"/><stop offset="0.6861" stop-color="#b1ff4e"/><stop offset="0.7361" stop-color="#aeff51"/><stop offset="0.7389" stop-color="#a1ff5e"/><stop offset="0.7889" stop-color="#9eff61"/><stop offset="0.7917" stop-color="#91ff6e"/><stop offset="0.8417" stop-color="#8eff71"/><stop offset="0.8444" stop-color="#81ff7e"/><stop offset="0.8889" stop-color="#7bff84"/><stop offset="0.8917" stop-color="#74ff8b"/><stop offset="0.9278" stop-color="#6aff95"/><stop offset="0.9306" stop-color="#65ff9a"/><stop offset="0.9667" stop-color="#5affa5"/><stop offset="0.9694" stop-color="#55ffaa"/><stop offset="1" stop-color="#4cffb3"/></linearGradient>
<linearGradient id="s11"><stop offset="0" stop-color="#ffef00"/><stop offset="0.2222" stop-color="#ffef00"/><stop offset="0.225" stop-color="#ffff00"/><stop offset="0.3417" stop-color="#ffff00"/><stop offset="0.3444" stop-color="#efff10"/><stop offset="0.4306" stop-color="#efff10"/><stop offset="0.4333" stop-color="#dfff20"/><stop offset="0.5194" stop-color="#dfff20"/><stop offset="0.5222" stop-color="#cfff30"/><stop offset="0.6083" stop-color="#cfff30"/><stop offset="0.6111" stop-color="#bfff40"/><stop offset="0.6833" stop-color="#beff41"/><stop offset="0.6861" stop-color="#b1ff4e"/><stop offset="0.7361" stop-color="#aeff51"/><stop offset="0.7389" stop-color="#a1ff5e"/><stop offset="0.7889" stop-color="#9eff61"/><stop offset="0.7917" stop-color="#91ff6e"/><stop offset="0.8417" stop-color="#8eff71"/><stop offset="0.8444" stop-color="#81ff7e"/><stop offset="0.8889" stop-color="#7bff84"/><stop offset="0.8917" stop-color="#74ff8b"/><stop offset="0.9278" stop-color="#6aff95"/><stop offset="0.9306" stop-color="#65ff9a"/><stop offset="0.9667" stop-color="#5affa5"/><stop offset="0.9694" stop-color="#55ffaa"/><stop offset="1" stop-color="#4cffb3"/></linearGradient>
<linearGradient id="s12"><stop offset="0" stop-color="#ffef00"/><stop offset="0.2278" stop-color="#ffef00"/><stop offset="0.2306" stop-color="#ffff00"/><stop offset="0.3444" stop-color="#ffff00"/><stop offset="0.3472" stop-color="#efff10"/><stop offset="0.4361" stop-color="#efff10"/><stop offset="0.4389" stop-color="#dfff20"/><stop offset="0.5222" stop-color="#dfff20"/><stop offset="0.525" stop-color="#cfff30"/><stop offset="0.6111" stop-color="#cfff30"/><stop offset="0.6139" stop-color="#bfff40"/><stop offset="0.6861" stop-color="#beff41"/><stop offset="0.6889" stop-color="#b1ff4e"/><stop offset="0.7361" stop-color="#aeff51"/><stop offset="0.7389" stop-color="#a1ff5e"/><stop offset="0.7889" stop-color="#9eff61"/><stop offset="0.7917" stop-color="#91ff6e"/><stop offset="0.8417" stop-color="#8eff71"/><stop offset="0.8444" stop-color="#81ff7e"/><stop offset="0.8889" stop-color="#7bff84"/><stop offset="0.8917" stop-color="#74ff8b"/><stop offset="0.9278" stop-color="#6aff95"/><stop offset="0.9306" stop-color="#65ff9a"/><stop offset="0.9667" stop-color="#5affa5"/><stop offset="0.9694" stop-color="#55ffaa"/><stop offset="1" stop-color="#4cffb3"/></linearGradient>
<linearGradient id="s13"><stop offset="0" stop-color="#ffef00"/><stop offset="0.2333" stop-color="#ffef00"/><stop offset="0.2361" stop-color="#ffff00"/><stop offset="0.35" stop-color="#ffff00"/><stop offset="0.3528" stop-color="#efff10"/><stop offset="0.4389" stop-color="#efff10"/><stop offset="0.4417" stop-color="#dfff20"/><stop offset="0.525" stop-color="#dfff20"/><stop offset="0.5278" stop-color="#cfff30"/><stop offset="0.6111" stop-color="#cfff30"/><stop offset="0.6139" stop-color="#bfff40"/><stop offset="0.6861" stop-color="#beff41"/><stop offset="0.6889" stop-color="#b1ff4e"/><stop offset="0.7389" stop-color="#aeff51"/><stop offset="0.7417" stop-color="#a1ff5e"/><stop offset="0.7889" stop-color="#9eff61"/><stop offset="0.7917" stop-color="#91ff6e"/><stop offset="0.8417" stop-color="#8eff71"/><stop offset="0.8444" stop-color="#81ff7e"/><stop offset="0.8889" stop-color="#7aff85"/><stop offset="0.8917" stop-color="#74ff8b"/><stop offset="0.9278" stop-color="#6aff95"/><stop offset="0.9306" stop-color="#65ff9a"/><stop offset="0.9667" stop-color="#5affa5"/><stop offset="0.9694" stop-color="#55ffaa"/><stop offset="1" stop-color="#4cffb3"/></linearGradient>
<linearGradient id="s14"><stop offset="0" stop-color="#ffef00"/><stop offset="0.2361" stop-color="#ffef00"/><stop offset="0.2389" stop-color="#ffff00"/><stop offset="0.3528" stop-color="#ffff00"/><stop offset="0.3556" stop-color="#efff10"/><stop offset="0.4417" stop-color="#efff10"/><stop offset="0.4444" stop-color="#dfff20"/><stop offset="0.5278" stop-color="#dfff20"/><stop offset="0.5306" stop-color="#cfff30"/><stop offset="0.6139" stop-color="#cfff30"/><stop offset="0.6167" stop-color="#bfff40"/><stop offset="0.6889" stop-color="#bdff42"/><stop offset="0.6917" stop-color="#b1ff4e"/><stop offset="0.7389" stop-color="#aeff51"/><stop offset="0.7417" stop-color="#a1ff5e"/><stop offset="0.7917" stop-color="#9dff62"/><stop offset="0.7944" stop-color="#91ff6e"/><stop offset="0.8417" stop-color="#8eff71"/><stop offset="0.8444" stop-color="#81ff7e"/><stop offset="0.8889" stop-color="#7aff85"/><stop offset="0.8917" stop-color="#74ff8b"/><stop offset="0.9278" stop-color="#6aff95"/><stop offset="0.9306" stop-color="#65ff9a"/><stop offset="0.9667" stop-color="#5affa5"/><stop offset="0.9694" stop-color="#55ffaa"/><stop offset="1" stop-color="#4cffb3"/></linearGradient>
<linearGradient id="cb" x1="0" y1="0" x2="0" y2="1"><stop offset="0" stop-color="#800000"/><stop offset="0.01562" stop-color="#800000"/><stop offset="0.01562" stop-color="#8f0000"/><stop offset="0.03125" stop-color="#8f0000"/><stop offset="0.03125" stop-color="#9f0000"/><stop offset="0.04688" stop-color="#9f0000"/><stop offset="0.04688" stop-color="#af0000"/><stop offset="0.0625" stop-color="#af0000"/><stop offset="0.0625" stop-color="#bf0000"/><stop offset="0.07812" stop-color="#bf0000"/><stop offset="0.07812" stop-color="#cf0000"/><stop offset="0.09375" stop-color="#cf0000"/><stop offset="0.09375" stop-color="#df0000"/><stop offset="0.1094" stop-color="#df0000"/><stop offset="0.1094" stop-color="#ef0000"/><stop offset="0.125" stop-color="#ef0000"/><stop offset="0.125" stop-color="#ff0000"/><stop offset="0.1406" stop-color="#ff0000"/><stop offset="0.1406" stop-color="#ff1000"/><stop offset="0.1562" stop-color="#ff1000"/><stop offset="0.1562" stop-color="#ff2000"/><stop offset="0.1719" stop-color="#ff2000"/><stop offset="0.1719" stop-color="#ff3000"/><stop offset="0.1875" stop-color="#ff3000"/><stop offset="0.1875" stop-color="#ff4000"/><stop offset="0.2031" stop-color="#ff4000"/><stop offset="0.2031" stop-color="#ff5000"/><stop offset="0.2188" stop-color="#ff5000"/><stop offset="0.2188" stop-color="#ff6000"/><stop offset="0.2344" stop-color="#ff6000"/><stop offset="0.2344" stop-color="#ff7000"/><stop offset="0.25" stop-color="#ff7000"/><stop offset="0.25" stop-color="#ff8000"/><stop offset="0.2656" stop-color="#ff8000"/><stop offset="0.2656" stop-color="#ff8f00"/><stop offset="0.2812" stop-color="#ff8f00"/><stop offset="0.2812" stop-color="#ff9f00"/><stop offset="0.2969" stop-color="#ff9f00"/><stop offset="0.2969" stop-color="#ffaf00"/><stop offset="0.3125" stop-color="#ffaf00"/><stop offset="0.3125" stop-color="#ffbf00"/><stop offset="0.3281" stop-color="#ffbf00"/><stop offset="0.3281" stop-color="#ffcf00"/><stop offset="0.3438" stop-color="#ffcf00"/><stop offset="0.3438" stop-color="#ffdf00"/><stop offset="0.3594" stop-color="#ffdf00"/><stop offset="0.3594" stop-color="#ffef00"/><stop offset="0.375" stop-color="#ffef00"/><stop offset="0.375" stop-color="#ffff00"/><stop offset="0.3906" stop-color="#ffff00"/><stop offset="0.3906" stop-color="#efff10"/><stop offset="0.4062" stop-color="#efff10"/><stop offset="0.4062" stop-color="#dfff20"/><stop offset="0.4219" stop-color="#dfff20"/><stop offset="0.4219" stop-color="#cfff30"/><stop offset="0.4375" stop-color="#cfff30"/><stop offset="0.4375" stop-color="#bfff40"/><stop offset="0.4531" stop-color="#bfff40"/><stop offset="0.4531" stop-color="#afff50"/><stop offset="0.4688" stop-color="#afff50"/><stop offset="0.4688" stop-color="#9fff60"/><stop offset="0.4844" stop-color="#9fff60"/><stop offset="0.4844" stop-color="#8fff70"/><stop offset="0.5" stop-color="#8fff70"/><stop offset="0.5" stop-color="#80ff80"/><stop offset="0.5156" stop-color="#80ff80"/><stop offset="0.5156" stop-color="#70ff8f"/><stop offset="0.5312" stop-color="#70ff8f"/><stop offset="0.5312" stop-color="#60ff9f"/><stop offset="0.5469" stop-color="#60ff9f"/><stop offset="0.5469" stop-color="#50ffaf"/><stop offset="0.5625" stop-color="#50ffaf"/><stop offset="0.5625" stop-color="#40ffbf"/><stop offset="0.5781" stop-color="#40ffbf"/><stop offset="0.5781" stop-color="#30ffcf"/><stop offset="0.5938" stop-color="#30ffcf"/><stop offset="0.5938" stop-color="#20ffdf"/><stop offset="0.6094" stop-color="#20ffdf"/><stop offset="0.6094" stop-color="#10ffef"/><stop offset="0.625" stop-color="#10ffef"/><stop offset="0.625" stop-color="#00ffff"/><stop offset="0.6406" stop-color="#00ffff"/><stop offset="0.6406" stop-color="#00efff"/><stop offset="0.6562" stop-color="#00efff"/><stop offset="0.6562" stop-color="#00dfff"/><stop offset="0.6719" stop-color="#00dfff"/><stop offset="0.6719" stop-color="#00cfff"/><stop offset="0.6875" stop-color="#00cfff"/><stop offset="0.6875" stop-color="#00bfff"/><stop offset="0.7031" stop-color="#00bfff"/><stop offset="0.7031" stop-color="#00afff"/><stop offset="0.7188" stop-color="#00afff"/><stop offset="0.7188" stop-color="#009fff"/><stop offset="0.7344" stop-color="#009fff"/><stop offset="0.7344" stop-color="#008fff"/><stop offset="0.75" stop-color="#008fff"/><stop offset="0.75" stop-color="#0080ff"/><stop offset="0.7656" stop-color="#0080ff"/><stop offset="0.7656" stop-color="#0070ff"/><stop offset="0.7812" stop-color="#0070ff"/><stop offset="0.7812" stop-color="#0060ff"/><stop offset="0.7969" stop-color="#0060ff"/><stop offset="0.7969" stop-color="#0050ff"/><stop offset="0.8125" stop-color="#0050ff"/><stop offset="0.8125" stop-color="#0040ff"/><stop offset="0.8281" stop-color="#0040ff"/><stop offset="0.8281" stop-color="#0030ff"/><stop offset="0.8438" stop-color="#0030ff"/><stop offset="0.8438" stop-color="#0020ff"/><stop offset="0.8594" stop-color="#0020ff"/><stop offset="0.8594" stop-color="#0010ff"/><stop offset="0.875" stop-color="#0010ff"/><stop offset="0.875" stop-color="#0000ff"/><stop offset="0.8906" stop-color="#0000ff"/><stop offset="0.8906" stop-color="#0000ef"/><stop offset="0.9062" stop-color="#0000ef"/><stop offset="0.9062" stop-color="#0000df"/><stop offset="0.9219" stop-color="#0000df"/><stop offset="0.9219" stop-color="#0000cf"/><stop offset="0.9375" stop-color="#0000cf"/><stop offset="0.9375" stop-color="#0000bf"/><stop offset="0.9531" stop-color="#0000bf"/><stop offset="0.9531" stop-color="#0000af"/><stop offset="0.9688" stop-color="#0000af"/><stop offset="0.9688" stop-color="#00009f"/><stop offset="0.9844" stop-color="#00009f"/><stop offset="0.9844" stop-color="#00008f"/><stop offset="1" stop-color="#00008f"/></linearGradient>
<clipPath id="c1"><rect x="242.8" y="358.9" width="337.4" height="148.8"/></clipPath>
<clipPath id="c2"><rect x="701.5" y="360.5" width="335.5" height="147.8"/></clipPath>
</defs>
<g><rect x="72.2" y="35.4" width="331.0" height="75.5" fill="url(#u1)"/>
<rect x="72.2" y="110.40" width="331.0" height="3.00" fill="url(#r0)"/>
<rect x="72.2" y="111.90" width="331.0" height="3.00" fill="url(#r1)"/>
<rect x="72.2" y="113.40" width="331.0" height="3.00" fill="url(#r2)"/>
<rect x="72.2" y="114.90" width="331.0" height="3.00" fill="url(#r3)"/>
<rect x="72.2" y="116.40" width="331.0" height="3.00" fill="url(#r4)"/>
<rect x="72.2" y="117.90" width="331.0" height="3.00" fill="url(#r5)"/>
<rect x="72.2" y="119.40" width="331.0" height="3.00" fill="url(#r6)"/>
<rect x="72.2" y="120.90" width="331.0" height="3.00" fill="url(#r7)"/>
<rect x="72.2" y="122.40" width="331.0" height="3.00" fill="url(#r8)"/>
<rect x="72.2" y="123.90" width="331.0" height="3.00" fill="url(#r9)"/>
<rect x="72.2" y="125.40" width="331.0" height="3.00" fill="url(#r10)"/>
<rect x="72.2" y="126.90" width="331.0" height="3.00" fill="url(#r11)"/>
<rect x="72.2" y="128.40" width="331.0" height="3.00" fill="url(#r12)"/>
<rect x="72.2" y="129.90" width="331.0" height="3.00" fill="url(#r13)"/>
<rect x="72.2" y="131.40" width="331.0" height="3.00" fill="url(#r14)"/>
<rect x="72.2" y="132.90" width="331.0" height="3.00" fill="url(#r15)"/>
<rect x="72.2" y="134.40" width="331.0" height="3.00" fill="url(#r16)"/>
<rect x="72.2" y="135.90" width="331.0" height="3.00" fill="url(#r17)"/>
<rect x="72.2" y="137.40" width="331.0" height="3.00" fill="url(#r18)"/>
<rect x="72.2" y="138.90" width="331.0" height="3.00" fill="url(#r19)"/>
<rect x="72.2" y="140.40" width="331.0" height="3.00" fill="url(#r20)"/>
<rect x="72.2" y="141.90" width="331.0" height="3.00" fill="url(#r21)"/>
<rect x="72.2" y="143.40" width="331.0" height="3.00" fill="url(#r22)"/>
<rect x="72.2" y="144.90" width="331.0" height="3.00" fill="url(#r23)"/>
<rect x="72.2" y="146.40" width="331.0" height="3.00" fill="url(#r24)"/>
<rect x="72.2" y="147.90" width="331.0" height="3.00" fill="url(#r25)"/>
<rect x="72.2" y="149.40" width="331.0" height="3.00" fill="url(#r26)"/>
<rect x="72.2" y="150.90" width="331.0" height="3.00" fill="url(#r27)"/>
<rect x="72.2" y="152.40" width="331.0" height="3.00" fill="url(#r28)"/>
<rect x="72.2" y="153.90" width="331.0" height="3.00" fill="url(#r29)"/>
<rect x="72.2" y="155.40" width="331.0" height="3.00" fill="url(#r30)"/>
<rect x="72.2" y="156.90" width="331.0" height="3.00" fill="url(#r31)"/>
<rect x="72.2" y="158.40" width="331.0" height="3.00" fill="url(#r32)"/>
<rect x="72.2" y="159.90" width="331.0" height="3.00" fill="url(#r33)"/>
<rect x="72.2" y="161.40" width="331.0" height="3.00" fill="url(#r34)"/>
<rect x="72.2" y="162.90" width="331.0" height="3.00" fill="url(#r35)"/>
<rect x="72.2" y="164.40" width="331.0" height="3.00" fill="url(#r36)"/>
<rect x="72.2" y="165.90" width="331.0" height="3.00" fill="url(#r37)"/>
<rect x="72.2" y="167.40" width="331.0" height="3.00" fill="url(#r38)"/>
<rect x="72.2" y="168.90" width="331.0" height="3.00" fill="url(#r39)"/>
<rect x="72.2" y="170.40" width="331.0" height="3.00" fill="url(#r40)"/>
<rect x="72.2" y="171.90" width="331.0" height="3.00" fill="url(#r41)"/>
<rect x="72.2" y="173.40" width="331.0" height="3.00" fill="url(#r42)"/>
<rect x="72.2" y="174.90" width="331.0" height="3.00" fill="url(#r43)"/>
<rect x="72.2" y="176.40" width="331.0" height="3.00" fill="url(#r44)"/>
<rect x="72.2" y="177.90" width="331.0" height="3.00" fill="url(#r45)"/>
<rect x="72.2" y="179.40" width="331.0" height="3.00" fill="url(#r46)"/>
<rect x="72.2" y="180.90" width="331.0" height="3.00" fill="url(#r47)"/>
<rect x="72.2" y="182.40" width="331.0" height="3.00" fill="url(#r48)"/>
<rect x="72.2" y="183.90" width="331.0" height="3.00" fill="url(#r49)"/>
<rect x="72.2" y="185.40" width="331.0" height="3.00" fill="url(#r49)"/>
<rect x="72.2" y="186.90" width="331.0" height="3.00" fill="url(#r48)"/>
<rect x="72.2" y="188.40" width="331.0" height="3.00" fill="url(#r47)"/>
<rect x="72.2" y="189.90" width="331.0" height="3.00" fill="url(#r46)"/>
<rect x="72.2" y="191.40" width="331.0" height="3.00" fill="url(#r45)"/>
<rect x="72.2" y="192.90" width="331.0" height="3.00" fill="url(#r44)"/>
<rect x="72.2" y="194.40" width="331.0" height="3.00" fill="url(#r43)"/>
<rect x="72.2" y="195.90" width="331.0" height="3.00" fill="url(#r42)"/>
<rect x="72.2" y="197.40" width="331.0" height="3.00" fill="url(#r41)"/>
<rect x="72.2" y="198.90" width="331.0" height="3.00" fill="url(#r40)"/>
<rect x="72.2" y="200.40" width="331.0" height="3.00" fill="url(#r39)"/>
<rect x="72.2" y="201.90" width="331.0" height="3.00" fill="url(#r38)"/>
<rect x="72.2" y="203.40" width="331.0" height="3.00" fill="url(#r37)"/>
<rect x="72.2" y="204.90" width="331.0" height="3.00" fill="url(#r36)"/>
<rect x="72.2" y="206.40" width="331.0" height="3.00" fill="url(#r35)"/>
<rect x="72.2" y="207.90" width="331.0" height="3.00" fill="url(#r34)"/>
<rect x="72.2" y="209.40" width="331.0" height="3.00" fill="url(#r33)"/>
<rect x="72.2" y="210.90" width="331.0" height="3.00" fill="url(#r32)"/>
<rect x="72.2" y="212.40" width="331.0" height="3.00" fill="url(#r31)"/>
<rect x="72.2" y="213.90" width="331.0" height="3.00" fill="url(#r30)"/>
<rect x="72.2" y="215.40" width="331.0" height="3.00" fill="url(#r29)"/>
<rect x="72.2" y="216.90" width="331.0" height="3.00" fill="url(#r28)"/>
<rect x="72.2" y="218.40" width="331.0" height="3.00" fill="url(#r27)"/>
<rect x="72.2" y="219.90" width="331.0" height="3.00" fill="url(#r26)"/>
<rect x="72.2" y="221.40" width="331.0" height="3.00" fill="url(#r25)"/>
<rect x="72.2" y="222.90" width="331.0" height="3.00" fill="url(#r24)"/>
<rect x="72.2" y="224.40" width="331.0" height="3.00" fill="url(#r23)"/>
<rect x="72.2" y="225.90" width="331.0" height="3.00" fill="url(#r22)"/>
<rect x="72.2" y="227.40" width="331.0" height="3.00" fill="url(#r21)"/>
<rect x="72.2" y="228.90" width="331.0" height="3.00" fill="url(#r20)"/>
<rect x="72.2" y="230.40" width="331.0" height="3.00" fill="url(#r19)"/>
<rect x="72.2" y="231.90" width="331.0" height="3.00" fill="url(#r18)"/>
<rect x="72.2" y="233.40" width="331.0" height="3.00" fill="url(#r17)"/>
<rect x="72.2" y="234.90" width="331.0" height="3.00" fill="url(#r16)"/>
<rect x="72.2" y="236.40" width="331.0" height="3.00" fill="url(#r15)"/>
<rect x="72.2" y="237.90" width="331.0" height="3.00" fill="url(#r14)"/>
<rect x="72.2" y="239.40" width="331.0" height="3.00" fill="url(#r13)"/>
<rect x="72.2" y="240.90" width="331.0" height="3.00" fill="url(#r12)"/>
<rect x="72.2" y="242.40" width="331.0" height="3.00" fill="url(#r11)"/>
<rect x="72.2" y="243.90" width="331.0" height="3.00" fill="url(#r10)"/>
<rect x="72.2" y="245.40" width="331.0" height="3.00" fill="url(#r9)"/>
<rect x="72.2" y="246.90" width="331.0" height="3.00" fill="url(#r8)"/>
<rect x="72.2" y="248.40" width="331.0" height="3.00" fill="url(#r7)"/>
<rect x="72.2" y="249.90" width="331.0" height="3.00" fill="url(#r6)"/>
<rect x="72.2" y="251.40" width="331.0" height="3.00" fill="url(#r5)"/>
<rect x="72.2" y="252.90" width="331.0" height="3.00" fill="url(#r4)"/>
<rect x="72.2" y="254.40" width="331.0" height="3.00" fill="url(#r3)"/>
<rect x="72.2" y="255.90" width="331.0" height="3.00" fill="url(#r2)"/>
<rect x="72.2" y="257.40" width="331.0" height="3.00" fill="url(#r1)"/>
<rect x="72.2" y="258.90" width="331.0" height="1.50" fill="url(#r0)"/></g>
<rect x="433.8" y="37.2" width="330.7" height="225" fill="url(#p2)"/>
<g><rect x="794.8" y="38.2" width="329.7" height="75.5" fill="url(#u1)"/>
<rect x="794.8" y="113.20" width="329.7" height="3.00" fill="url(#r0)"/>
<rect x="794.8" y="114.70" width="329.7" height="3.00" fill="url(#r1)"/>
<rect x="794.8" y="116.20" width="329.7" height="3.00" fill="url(#r2)"/>
<rect x="794.8" y="117.70" width="329.7" height="3.00" fill="url(#r3)"/>
<rect x="794.8" y="119.20" width="329.7" height="3.00" fill="url(#r4)"/>
<rect x="794.8" y="120.70" width="329.7" height="3.00" fill="url(#r5)"/>
<rect x="794.8" y="122.20" width="329.7" height="3.00" fill="url(#r6)"/>
<rect x="794.8" y="123.70" width="329.7" height="3.00" fill="url(#r7)"/>
<rect x="794.8" y="125.20" width="329.7" height="3.00" fill="url(#r8)"/>
<rect x="794.8" y="126.70" width="329.7" height="3.00" fill="url(#r9)"/>
<rect x="794.8" y="128.20" width="329.7" height="3.00" fill="url(#r10)"/>
<rect x="794.8" y="129.70" width="329.7" height="3.00" fill="url(#r11)"/>
<rect x="794.8" y="131.20" width="329.7" height="3.00" fill="url(#r12)"/>
<rect x="794.8" y="132.70" width="329.7" height="3.00" fill="url(#r13)"/>
<rect x="794.8" y="134.20" width="329.7" height="3.00" fill="url(#r14)"/>
<rect x="794.8" y="135.70" width="329.7" height="3.00" fill="url(#r15)"/>
<rect x="794.8" y="137.20" width="329.7" height="3.00" fill="url(#r16)"/>
<rect x="794.8" y="138.70" width="329.7" height="3.00" fill="url(#r17)"/>
<rect x="794.8" y="140.20" width="329.7" height="3.00" fill="url(#r18)"/>
<rect x="794.8" y="141.70" width="329.7" height="3.00" fill="url(#r19)"/>
<rect x="794.8" y="143.20" width="329.7" height="3.00" fill="url(#r20)"/>
<rect x="794.8" y="144.70" width="329.7" height="3.00" fill="url(#r21)"/>
<rect x="794.8" y="146.20" width="329.7" height="3.00" fill="url(#r22)"/>
<rect x="794.8" y="147.70" width="329.7" height="3.00" fill="url(#r23)"/>
<rect x="794.8" y="149.20" width="329.7" height="3.00" fill="url(#r24)"/>
<rect x="794.8" y="150.70" width="329.7" height="3.00" fill="url(#r25)"/>
<rect x="794.8" y="152.20" width="329.7" height="3.00" fill="url(#r26)"/>
<rect x="794.8" y="153.70" width="329.7" height="3.00" fill="url(#r27)"/>
<rect x="794.8" y="155.20" width="329.7" height="3.00" fill="url(#r28)"/>
<rect x="794.8" y="156.70" width="329.7" height="3.00" fill="url(#r29)"/>
<rect x="794.8" y="158.20" width="329.7" height="3.00" fill="url(#r30)"/>
<rect x="794.8" y="159.70" width="329.7" height="3.00" fill="url(#r31)"/>
<rect x="794.8" y="161.20" width="329.7" height="3.00" fill="url(#r32)"/>
<rect x="794.8" y="162.70" width="329.7" height="3.00" fill="url(#r33)"/>
<rect x="794.8" y="164.20" width="329.7" height="3.00" fill="url(#r34)"/>
<rect x="794.8" y="165.70" width="329.7" height="3.00" fill="url(#r35)"/>
<rect x="794.8" y="167.20" width="329.7" height="3.00" fill="url(#r36)"/>
<rect x="794.8" y="168.70" width="329.7" height="3.00" fill="url(#r37)"/>
<rect x="794.8" y="170.20" width="329.7" height="3.00" fill="url(#r38)"/>
<rect x="794.8" y="171.70" width="329.7" height="3.00" fill="url(#r39)"/>
<rect x="794.8" y="173.20" width="329.7" height="3.00" fill="url(#r40)"/>
<rect x="794.8" y="174.70" width="329.7" height="3.00" fill="url(#r41)"/>
<rect x="794.8" y="176.20" width="329.7" height="3.00" fill="url(#r42)"/>
<rect x="794.8" y="177.70" width="329.7" height="3.00" fill="url(#r43)"/>
<rect x="794.8" y="179.20" width="329.7" height="3.00" fill="url(#r44)"/>
<rect x="794.8" y="180.70" width="329.7" height="3.00" fill="url(#r45)"/>
<rect x="794.8" y="182.20" width="329.7" height="3.00" fill="url(#r46)"/>
<rect x="794.8" y="183.70" width="329.7" height="3.00" fill="url(#r47)"/>
<rect x="794.8" y="185.20" width="329.7" height="3.00" fill="url(#r48)"/>
<rect x="794.8" y="186.70" width="329.7" height="3.00" fill="url(#r49)"/>
<rect x="794.8" y="188.20" width="329.7" height="3.00" fill="url(#r49)"/>
<rect x="794.8" y="189.70" width="329.7" height="3.00" fill="url(#r48)"/>
<rect x="794.8" y="191.20" width="329.7" height="3.00" fill="url(#r47)"/>
<rect x="794.8" y="192.70" width="329.7" height="3.00" fill="url(#r46)"/>
<rect x="794.8" y="194.20" width="329.7" height="3.00" fill="url(#r45)"/>
<rect x="794.8" y="195.70" width="329.7" height="3.00" fill="url(#r44)"/>
<rect x="794.8" y="197.20" width="329.7" height="3.00" fill="url(#r43)"/>
<rect x="794.8" y="198.70" width="329.7" height="3.00" fill="url(#r42)"/>
<rect x="794.8" y="200.20" width="329.7" height="3.00" fill="url(#r41)"/>
<rect x="794.8" y="201.70" width="329.7" height="3.00" fill="url(#r40)"/>
<rect x="794.8" y="203.20" width="329.7" height="3.00" fill="url(#r39)"/>
<rect x="794.8" y="204.70" width="329.7" height="3.00" fill="url(#r38)"/>
<rect x="794.8" y="206.20" width="329.7" height="3.00" fill="url(#r37)"/>
<rect x="794.8" y="207.70" width="329.7" height="3.00" fill="url(#r36)"/>
<rect x="794.8" y="209.20" width="329.7" height="3.00" fill="url(#r35)"/>
<rect x="794.8" y="210.70" width="329.7" height="3.00" fill="url(#r34)"/>
<rect x="794.8" y="212.20" width="329.7" height="3.00" fill="url(#r33)"/>
<rect x="794.8" y="213.70" width="329.7" height="3.00" fill="url(#r32)"/>
<rect x="794.8" y="215.20" width="329.7" height="3.00" fill="url(#r31)"/>
<rect x="794.8" y="216.70" width="329.7" height="3.00" fill="url(#r30)"/>
<rect x="794.8" y="218.20" width="329.7" height="3.00" fill="url(#r29)"/>
<rect x="794.8" y="219.70" width="329.7" height="3.00" fill="url(#r28)"/>
<rect x="794.8" y="221.20" width="329.7" height="3.00" fill="url(#r27)"/>
<rect x="794.8" y="222.70" width="329.7" height="3.00" fill="url(#r26)"/>
<rect x="794.8" y="224.20" width="329.7" height="3.00" fill="url(#r25)"/>
<rect x="794.8" y="225.70" width="329.7" height="3.00" fill="url(#r24)"/>
<rect x="794.8" y="227.20" width="329.7" height="3.00" fill="url(#r23)"/>
<rect x="794.8" y="228.70" width="329.7" height="3.00" fill="url(#r22)"/>
<rect x="794.8" y="230.20" width="329.7" height="3.00" fill="url(#r21)"/>
<rect x="794.8" y="231.70" width="329.7" height="3.00" fill="url(#r20)"/>
<rect x="794.8" y="233.20" width="329.7" height="3.00" fill="url(#r19)"/>
<rect x="794.8" y="234.70" width="329.7" height="3.00" fill="url(#r18)"/>
<rect x="794.8" y="236.20" width="329.7" height="3.00" fill="url(#r17)"/>
<rect x="794.8" y="237.70" width="329.7" height="3.00" fill="url(#r16)"/>
<rect x="794.8" y="239.20" width="329.7" height="3.00" fill="url(#r15)"/>
<rect x="794.8" y="240.70" width="329.7" height="3.00" fill="url(#r14)"/>
<rect x="794.8" y="242.20" width="329.7" height="3.00" fill="url(#r13)"/>
<rect x="794.8" y="243.70" width="329.7" height="3.00" fill="url(#r12)"/>
<rect x="794.8" y="245.20" width="329.7" height="3.00" fill="url(#r11)"/>
<rect x="794.8" y="246.70" width="329.7" height="3.00" fill="url(#r10)"/>
<rect x="794.8" y="248.20" width="329.7" height="3.00" fill="url(#r9)"/>
<rect x="794.8" y="249.70" width="329.7" height="3.00" fill="url(#r8)"/>
<rect x="794.8" y="251.20" width="329.7" height="3.00" fill="url(#r7)"/>
<rect x="794.8" y="252.70" width="329.7" height="3.00" fill="url(#r6)"/>
<rect x="794.8" y="254.20" width="329.7" height="3.00" fill="url(#r5)"/>
<rect x="794.8" y="255.70" width="329.7" height="3.00" fill="url(#r4)"/>
<rect x="794.8" y="257.20" width="329.7" height="3.00" fill="url(#r3)"/>
<rect x="794.8" y="258.70" width="329.7" height="3.00" fill="url(#r2)"/>
<rect x="794.8" y="260.20" width="329.7" height="3.00" fill="url(#r1)"/>
<rect x="794.8" y="261.70" width="329.7" height="1.50" fill="url(#r0)"/></g>
<g><rect x="794.8" y="38.20" width="89.6" height="6.50" fill="url(#s0)"/>
<rect x="794.8" y="43.20" width="89.6" height="6.50" fill="url(#s1)"/>
<rect x="794.8" y="48.20" width="89.6" height="6.50" fill="url(#s2)"/>
<rect x="794.8" y="53.20" width="89.6" height="6.50" fill="url(#s3)"/>
<rect x="794.8" y="58.20" width="89.6" height="6.50" fill="url(#s4)"/>
<rect x="794.8" y="63.20" width="89.6" height="6.50" fill="url(#s5)"/>
<rect x="794.8" y="68.20" width="89.6" height="6.50" fill="url(#s6)"/>
<rect x="794.8" y="73.20" width="89.6" height="6.50" fill="url(#s7)"/>
<rect x="794.8" y="78.20" width="89.6" height="6.50" fill="url(#s8)"/>
<rect x="794.8" y="83.20" width="89.6" height="6.50" fill="url(#s9)"/>
<rect x="794.8" y="88.20" width="89.6" height="6.50" fill="url(#s10)"/>
<rect x="794.8" y="93.20" width="89.6" height="6.50" fill="url(#s11)"/>
<rect x="794.8" y="98.20" width="89.6" height="6.50" fill="url(#s12)"/>
<rect x="794.8" y="103.20" width="89.6" height="6.50" fill="url(#s13)"/>
<rect x="794.8" y="108.20" width="89.6" height="5.00" fill="url(#s14)"/></g>
<rect x="1130.7" y="73.7" width="13.1" height="150.4" fill="url(#cb)"/>
<line x1="310.3" y1="361.9" x2="310.3" y2="504.7" stroke="#e2e2e2" stroke-width="1.2"/>
<line x1="377.8" y1="361.9" x2="377.8" y2="504.7" stroke="#e2e2e2" stroke-width="1.2"/>
<line x1="445.2" y1="361.9" x2="445.2" y2="504.7" stroke="#e2e2e2" stroke-width="1.2"/>
<line x1="512.7" y1="361.9" x2="512.7" y2="504.7" stroke="#e2e2e2" stroke-width="1.2"/>
<line x1="242.8" y1="374.8" x2="580.2" y2="374.8" stroke="#e2e2e2" stroke-width="1.2"/>
<line x1="242.8" y1="439.8" x2="580.2" y2="439.8" stroke="#e2e2e2" stroke-width="1.2"/>
<rect x="242.8" y="361.9" width="337.4" height="142.8" fill="none" stroke="#686868" stroke-width="1.4"/>
<line x1="310.3" y1="504.7" x2="310.3" y2="501.3" stroke="#686868" stroke-width="1.4"/>
<line x1="310.3" y1="361.9" x2="310.3" y2="365.3" stroke="#686868" stroke-width="1.4"/>
<line x1="377.8" y1="504.7" x2="377.8" y2="501.3" stroke="#686868" stroke-width="1.4"/>
<line x1="377.8" y1="361.9" x2="377.8" y2="365.3" stroke="#686868" stroke-width="1.4"/>
<line x1="445.2" y1="504.7" x2="445.2" y2="501.3" stroke="#686868" stroke-width="1.4"/>
<line x1="445.2" y1="361.9" x2="445.2" y2="365.3" stroke="#686868" stroke-width="1.4"/>
<line x1="512.7" y1="504.7" x2="512.7" y2="501.3" stroke="#686868" stroke-width="1.4"/>
<line x1="512.7" y1="361.9" x2="512.7" y2="365.3" stroke="#686868" stroke-width="1.4"/>
<line x1="242.8" y1="374.8" x2="246.2" y2="374.8" stroke="#686868" stroke-width="1.4"/>
<line x1="580.2" y1="374.8" x2="576.8" y2="374.8" stroke="#686868" stroke-width="1.4"/>
<line x1="242.8" y1="439.8" x2="246.2" y2="439.8" stroke="#686868" stroke-width="1.4"/>
<line x1="580.2" y1="439.8" x2="576.8" y2="439.8" stroke="#686868" stroke-width="1.4"/>
<polyline points="242.8,467.1 244.8,455.4 276.5,370.9 580.2,498.3" fill="none" stroke="#0072bd" stroke-width="5.6" stroke-linejoin="round" clip-path="url(#c1)"/>
<polyline points="242.8,385.9 276.5,370.6 308.6,452.8 310.3,458.0 310.3,498.3 580.2,385.9" fill="none" stroke="#d95319" stroke-width="5.6" stroke-linejoin="round" clip-path="url(#c1)"/>
<line x1="768.6" y1="363.5" x2="768.6" y2="505.3" stroke="#e2e2e2" stroke-width="1.2"/>
<line x1="835.7" y1="363.5" x2="835.7" y2="505.3" stroke="#e2e2e2" stroke-width="1.2"/>
<line x1="902.8" y1="363.5" x2="902.8" y2="505.3" stroke="#e2e2e2" stroke-width="1.2"/>
<line x1="969.9" y1="363.5" x2="969.9" y2="505.3" stroke="#e2e2e2" stroke-width="1.2"/>
<line x1="701.5" y1="434.8" x2="1037.0" y2="434.8" stroke="#e2e2e2" stroke-width="1.2"/>
<rect x="701.5" y="363.5" width="335.5" height="141.8" fill="none" stroke="#686868" stroke-width="1.4"/>
<line x1="768.6" y1="505.3" x2="768.6" y2="501.9" stroke="#686868" stroke-width="1.4"/>
<line x1="768.6" y1="363.5" x2="768.6" y2="366.9" stroke="#686868" stroke-width="1.4"/>
<line x1="835.7" y1="505.3" x2="835.7" y2="501.9" stroke="#686868" stroke-width="1.4"/>
<line x1="835.7" y1="363.5" x2="835.7" y2="366.9" stroke="#686868" stroke-width="1.4"/>
<line x1="902.8" y1="505.3" x2="902.8" y2="501.9" stroke="#686868" stroke-width="1.4"/>
<line x1="902.8" y1="363.5" x2="902.8" y2="366.9" stroke="#686868" stroke-width="1.4"/>
<line x1="969.9" y1="505.3" x2="969.9" y2="501.9" stroke="#686868" stroke-width="1.4"/>
<line x1="969.9" y1="363.5" x2="969.9" y2="366.9" stroke="#686868" stroke-width="1.4"/>
<line x1="701.5" y1="434.8" x2="704.9" y2="434.8" stroke="#686868" stroke-width="1.4"/>
<line x1="1037.0" y1="434.8" x2="1033.6" y2="434.8" stroke="#686868" stroke-width="1.4"/>
<polyline points="701.5,494.3 735.0,373.8 1037.0,494.6" fill="none" stroke="#0072bd" stroke-width="5.6" stroke-linejoin="round" clip-path="url(#c2)"/>
<polyline points="701.5,386.6 735.0,373.8 768.6,494.9 1037.0,386.9" fill="none" stroke="#d95319" stroke-width="5.6" stroke-linejoin="round" clip-path="url(#c2)"/>
<g>
<text x="226.2" y="20.6" font-size="25" text-anchor="middle">|<tspan font-style="italic" dx="1.6">R</tspan><tspan font-style="italic" font-size="16.5" dy="3.5">num</tspan><tspan dy="-3.5" dx="1.6">|</tspan></text>
<text x="601.0" y="24.5" font-size="25" text-anchor="middle">|<tspan font-style="italic" dx="2">R</tspan><tspan dx="1.3">|</tspan>, first order</text>
<text x="961.2" y="24.5" font-size="25" text-anchor="middle">|<tspan font-style="italic" dx="2">R</tspan><tspan dx="1.3">|</tspan>, second order</text>
<text x="20" y="54.9" font-size="30" text-anchor="middle">(<tspan font-style="italic">a</tspan>)</text>
<text x="181" y="383.8" font-size="30" text-anchor="middle">(<tspan font-style="italic">b</tspan>)</text>
<text x="61.8" y="55.4" font-size="25" text-anchor="end" >3</text>
<text x="61.8" y="123.5" font-size="25" text-anchor="end" >2</text>
<text x="61.8" y="191.2" font-size="25" text-anchor="end" >1</text>
<text x="61.8" y="259.7" font-size="25" text-anchor="end" >0</text>
<text x="72.9" y="285.8" font-size="25" text-anchor="start" >0</text>
<text x="404.1" y="285.8" font-size="25" text-anchor="end" >80</text>
<text x="434.9" y="285.8" font-size="25" text-anchor="start" >0</text>
<text x="765.0" y="285.8" font-size="25" text-anchor="end" >80</text>
<text x="795.5" y="285.8" font-size="25" text-anchor="start" >0</text>
<text x="1125.0" y="285.8" font-size="25" text-anchor="end" >80</text>
<text x="237.2" y="325" font-size="30" text-anchor="middle"><tspan font-style="italic">θ</tspan> (deg.)</text>
<text x="597.6" y="325" font-size="30" text-anchor="middle"><tspan font-style="italic">θ</tspan> (deg.)</text>
<text x="959.2" y="325" font-size="30" text-anchor="middle"><tspan font-style="italic">θ</tspan> (deg.)</text>
<text x="1152.2" y="90.8" font-size="25.5" text-anchor="start" >0.6</text>
<text x="1152.2" y="222.7" font-size="25.5" text-anchor="start" >0</text>
<text transform="translate(24.0,149.4) rotate(-90)" font-size="30" text-anchor="middle"><tspan font-style="italic">x</tspan><tspan font-style="italic" font-size="20" dy="4.5">e</tspan><tspan font-size="38" dy="1.5" dx="1">/</tspan><tspan font-style="italic" dy="-6" dx="0.2">e</tspan></text>
<text x="412.5" y="572.0" font-size="30" text-anchor="middle"><tspan font-style="italic">x</tspan><tspan font-style="italic" font-size="20" dy="4.5">e</tspan><tspan font-size="38" dy="1.5" dx="1.8">/</tspan><tspan font-style="italic" dy="-6" dx="0.8">e</tspan></text>
<text x="879.6" y="572.0" font-size="30" text-anchor="middle"><tspan font-style="italic">x</tspan><tspan font-style="italic" font-size="20" dy="4.5">e</tspan><tspan font-size="38" dy="1.5" dx="1.8">/</tspan><tspan font-style="italic" dy="-6" dx="0.8">e</tspan></text>
<text x="230.8" y="382.0" font-size="25" text-anchor="end" >5</text>
<text x="230.8" y="505.3" font-size="25" text-anchor="end" >5</text>
<text transform="translate(201.5,505.3) scale(1.25,1)" font-size="25">−</text>
<text x="691.6" y="382.0" font-size="25" text-anchor="end" >0.2</text>
<text x="691.6" y="505.5" font-size="25" text-anchor="end" >0.2</text>
<text transform="translate(642.4,505.5) scale(1.25,1)" font-size="25">−</text>
<text x="243.6" y="532.5" font-size="25" text-anchor="middle" >0</text>
<text x="580.6" y="532.5" font-size="25" text-anchor="middle" >10</text>
<text x="702.3" y="532.5" font-size="25" text-anchor="middle" >0</text>
<text x="1038.3" y="532.5" font-size="25" text-anchor="middle" >10</text>
<text transform="translate(378.4,403.4) scale(1.15,1)" font-size="22.5" fill="#0072bd" font-family="DejaVu Math TeX Gyre, DejaVu Sans, Liberation Serif, serif">ℬ</text><text x="396.2" y="408.0" font-size="17.5" font-style="italic" fill="#0072bd">e</text>
<text transform="translate(380.7,492.9) scale(1.15,1)" font-size="22.5" fill="#d95319" font-family="DejaVu Math TeX Gyre, DejaVu Sans, Liberation Serif, serif">ℬ</text><text x="398.3" y="497.6" font-size="17.5" font-style="italic" fill="#d95319">o</text>
<text transform="translate(828.0,397.7) scale(1,1)" font-size="23" fill="#0072bd" font-family="DejaVu Math TeX Gyre, DejaVu Sans, Liberation Serif, serif">𝒞</text><text x="842.6" y="402.0" font-size="17.5" font-style="italic" fill="#0072bd">e</text>
<text transform="translate(849.5,487.7) scale(1,1)" font-size="23" fill="#d95319" font-family="DejaVu Math TeX Gyre, DejaVu Sans, Liberation Serif, serif">𝒞</text><text x="864.6" y="491.0" font-size="17.5" font-style="italic" fill="#d95319">o</text>
</g>
</svg>
</body></html>
